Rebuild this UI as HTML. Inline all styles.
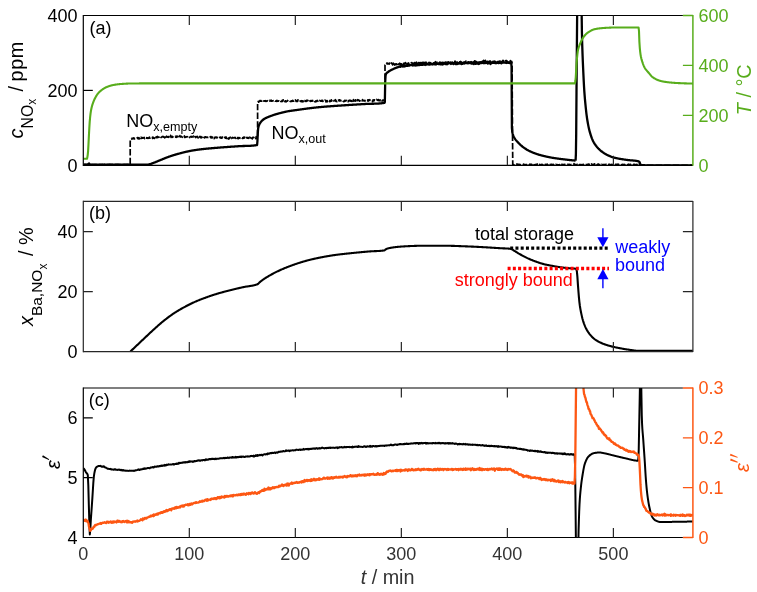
<!DOCTYPE html>
<html><head><meta charset="utf-8"><title>chart</title>
<style>
html,body{margin:0;padding:0;background:#fff;}
body{width:757px;height:592px;overflow:hidden;font-family:"Liberation Sans",sans-serif;}
svg{display:block;will-change:transform;}
svg text{font-family:"Liberation Sans",sans-serif;}
.tk{font-size:18px;}
.lb{font-size:19.8px;}
</style></head><body>
<svg width="757" height="592" viewBox="0 0 757 592">
<defs>
<clipPath id="ca"><rect x="83.3" y="15.5" width="609.6" height="150.4"/></clipPath>
<clipPath id="cb"><rect x="83.3" y="201.4" width="609.6" height="150.8"/></clipPath>
<clipPath id="cc"><rect x="83.3" y="388.0" width="609.6" height="150.1"/></clipPath>
</defs>
<rect width="757" height="592" fill="#fff"/>
<path d="M692.9,165.3 h-10.0" stroke="#58ad1c" stroke-width="1.3" fill="none"/>
<g clip-path="url(#ca)" fill="none" stroke-linejoin="round">
<path d="M83.50,164.60 L83.85,164.60 L84.20,164.40 L84.55,164.62 L84.90,164.59 L85.26,164.37 L85.61,164.68 L85.96,164.60 L86.31,164.54 L86.66,164.51 L87.01,164.99 L87.36,164.55 L87.71,164.38 L88.06,164.49 L88.42,164.56 L88.77,164.55 L89.12,164.59 L89.47,164.47 L89.82,164.66 L90.17,164.54 L90.52,164.44 L90.87,164.50 L91.22,164.55 L91.58,164.70 L91.93,164.66 L92.28,164.56 L92.63,164.60 L92.98,164.63 L93.33,164.84 L93.68,164.53 L94.03,164.66 L94.38,164.69 L94.74,164.49 L95.09,164.62 L95.44,164.62 L95.79,164.54 L96.14,164.67 L96.49,164.72 L96.84,164.74 L97.19,164.58 L97.55,164.62 L97.90,164.88 L98.25,164.47 L98.60,164.63 L98.95,164.71 L99.30,164.62 L99.65,164.68 L100.00,164.62 L100.35,164.69 L100.71,164.75 L101.06,164.57 L101.41,164.62 L101.76,164.59 L102.11,164.55 L102.46,164.60 L102.81,164.46 L103.16,164.69 L103.51,164.80 L103.87,164.80 L104.22,164.75 L104.57,164.48 L104.92,164.78 L105.27,164.51 L105.62,164.59 L105.97,164.82 L106.32,164.47 L106.67,164.70 L107.03,164.63 L107.38,164.58 L107.73,164.49 L108.08,164.65 L108.43,164.54 L108.78,164.73 L109.13,164.75 L109.48,164.43 L109.83,164.54 L110.19,164.56 L110.54,164.46 L110.89,164.47 L111.24,164.61 L111.59,164.58 L111.94,164.40 L112.29,164.54 L112.64,164.66 L112.99,164.46 L113.35,164.49 L113.70,164.79 L114.05,164.76 L114.40,164.41 L114.75,164.44 L115.10,164.65 L115.45,164.46 L115.80,164.57 L116.15,164.55 L116.51,164.67 L116.86,164.30 L117.21,164.34 L117.56,164.45 L117.91,164.72 L118.26,164.58 L118.61,164.40 L118.96,164.66 L119.32,164.68 L119.67,164.57 L120.02,164.56 L120.37,164.65 L120.72,164.75 L121.07,164.62 L121.42,164.66 L121.77,164.59 L122.12,164.55 L122.48,164.49 L122.83,164.63 L123.18,164.56 L123.53,164.57 L123.88,164.71 L124.23,164.66 L124.58,164.70 L124.93,164.41 L125.28,164.67 L125.64,164.53 L125.99,164.50 L126.34,164.50 L126.69,164.75 L127.04,164.70 L127.39,164.51 L127.74,164.46 L128.09,164.60 L128.44,164.54 L128.80,164.80 L129.15,164.60 L129.50,164.60 L129.85,164.60 L130.20,164.60 L130.20,141.50 L130.55,140.23 L130.90,139.31 L131.25,138.97 L131.60,138.42 L131.95,139.21 L132.30,138.37 L132.65,138.52 L133.00,138.14 L133.35,138.19 L133.70,137.86 L134.05,138.97 L134.40,138.31 L134.75,138.79 L135.10,138.34 L135.45,137.99 L135.80,138.14 L136.15,138.01 L136.50,138.25 L136.85,138.06 L137.20,138.07 L137.55,137.57 L137.90,137.81 L138.25,138.90 L138.60,137.84 L138.95,137.66 L139.30,138.27 L139.65,138.74 L140.00,137.44 L140.35,137.99 L140.70,137.79 L141.05,137.27 L141.40,138.38 L141.75,138.03 L142.10,138.06 L142.45,137.68 L142.80,138.22 L143.15,137.76 L143.50,137.93 L143.85,137.49 L144.20,137.43 L144.55,138.57 L144.90,137.74 L145.25,138.09 L145.60,137.93 L145.95,137.74 L146.30,137.70 L146.65,138.20 L147.00,137.77 L147.35,137.83 L147.70,137.90 L148.05,138.41 L148.40,138.17 L148.75,138.02 L149.10,137.58 L149.45,137.20 L149.80,138.24 L150.15,138.23 L150.50,137.71 L150.85,138.00 L151.20,138.09 L151.55,138.10 L151.90,138.12 L152.25,137.48 L152.60,138.35 L152.95,137.08 L153.30,138.01 L153.65,137.82 L154.00,137.97 L154.35,138.40 L154.70,138.20 L155.05,137.00 L155.40,136.73 L155.75,137.84 L156.10,136.99 L156.45,137.42 L156.80,137.78 L157.15,136.64 L157.50,136.40 L157.85,137.44 L158.20,137.32 L158.55,137.17 L158.90,137.28 L159.25,136.85 L159.60,136.53 L159.95,137.12 L160.30,136.73 L160.65,136.41 L161.00,137.35 L161.35,137.08 L161.70,137.27 L162.05,136.62 L162.40,136.75 L162.75,136.57 L163.10,136.61 L163.45,137.07 L163.80,136.62 L164.15,137.11 L164.50,137.09 L164.85,137.83 L165.20,136.28 L165.55,137.29 L165.90,136.84 L166.25,136.86 L166.60,136.20 L166.95,136.64 L167.30,137.17 L167.65,136.79 L168.00,136.86 L168.35,136.68 L168.70,137.33 L169.05,136.79 L169.40,135.81 L169.75,136.49 L170.10,135.91 L170.45,135.34 L170.80,136.56 L171.15,137.40 L171.50,136.82 L171.85,136.27 L172.20,136.38 L172.55,137.31 L172.90,136.87 L173.25,136.82 L173.60,136.78 L173.95,136.82 L174.30,137.16 L174.65,137.05 L175.00,136.90 L175.35,136.33 L175.70,137.03 L176.05,136.49 L176.40,137.29 L176.75,136.23 L177.10,136.74 L177.45,136.80 L177.80,136.20 L178.15,137.57 L178.50,137.46 L178.85,136.59 L179.20,137.15 L179.55,136.97 L179.90,135.62 L180.25,136.91 L180.60,136.77 L180.95,136.84 L181.30,136.32 L181.65,136.68 L182.00,136.72 L182.35,137.33 L182.70,136.95 L183.05,136.80 L183.40,137.49 L183.75,136.55 L184.10,136.62 L184.45,135.98 L184.80,137.51 L185.15,137.23 L185.50,137.21 L185.85,137.10 L186.20,136.85 L186.55,136.90 L186.90,136.69 L187.25,136.71 L187.60,136.82 L187.95,137.48 L188.30,137.05 L188.65,136.77 L189.00,136.54 L189.35,136.51 L189.70,137.52 L190.05,137.03 L190.40,136.83 L190.75,136.65 L191.10,136.30 L191.45,136.78 L191.80,137.20 L192.15,136.64 L192.50,136.72 L192.85,136.72 L193.20,136.88 L193.55,136.12 L193.90,136.74 L194.25,136.46 L194.60,137.25 L194.95,136.52 L195.30,137.13 L195.65,137.57 L196.00,136.75 L196.35,136.63 L196.70,137.00 L197.05,136.92 L197.40,136.49 L197.75,137.16 L198.10,137.87 L198.45,136.86 L198.80,136.89 L199.15,136.53 L199.50,137.15 L199.85,136.46 L200.20,136.54 L200.55,137.63 L200.90,136.66 L201.25,137.57 L201.60,137.78 L201.95,137.23 L202.30,137.37 L202.65,138.02 L203.00,137.07 L203.35,136.90 L203.70,136.58 L204.05,137.22 L204.40,137.88 L204.75,137.66 L205.10,136.82 L205.45,136.88 L205.80,137.05 L206.15,137.42 L206.50,137.21 L206.85,137.42 L207.20,137.47 L207.55,137.22 L207.90,137.35 L208.25,137.47 L208.60,137.36 L208.95,137.63 L209.30,138.26 L209.65,137.70 L210.00,137.47 L210.35,136.70 L210.70,137.65 L211.05,136.61 L211.40,136.86 L211.75,137.90 L212.10,137.84 L212.45,137.47 L212.80,136.77 L213.15,137.39 L213.50,137.26 L213.85,137.86 L214.20,138.60 L214.55,137.69 L214.90,137.25 L215.25,137.08 L215.60,137.59 L215.95,137.54 L216.30,137.11 L216.65,137.69 L217.00,137.13 L217.35,138.15 L217.70,138.14 L218.05,138.15 L218.40,137.46 L218.75,137.91 L219.10,137.63 L219.45,137.52 L219.80,137.55 L220.15,137.13 L220.50,137.07 L220.85,138.09 L221.20,137.65 L221.55,137.84 L221.90,138.20 L222.25,136.98 L222.60,137.41 L222.95,137.85 L223.30,137.96 L223.65,137.62 L224.00,138.26 L224.35,137.90 L224.70,137.27 L225.05,137.40 L225.40,138.19 L225.75,138.04 L226.10,136.99 L226.45,138.45 L226.80,138.12 L227.15,138.46 L227.50,137.69 L227.85,137.74 L228.20,137.37 L228.55,139.03 L228.90,137.81 L229.25,138.61 L229.60,137.61 L229.95,137.98 L230.30,137.16 L230.65,137.75 L231.00,138.37 L231.35,137.37 L231.70,138.42 L232.05,138.09 L232.40,137.48 L232.75,137.72 L233.10,137.75 L233.45,137.94 L233.80,137.72 L234.15,137.59 L234.50,137.83 L234.85,137.51 L235.20,137.40 L235.55,137.96 L235.90,138.38 L236.25,137.30 L236.60,137.99 L236.95,137.70 L237.30,137.55 L237.65,138.38 L238.00,137.76 L238.35,138.67 L238.70,137.65 L239.05,138.17 L239.40,137.90 L239.75,137.66 L240.10,138.26 L240.45,137.93 L240.80,138.27 L241.15,137.98 L241.50,137.51 L241.85,137.95 L242.20,138.02 L242.55,138.43 L242.90,137.59 L243.25,137.98 L243.60,137.23 L243.95,138.29 L244.30,137.51 L244.65,137.19 L245.00,137.97 L245.35,138.50 L245.70,137.31 L246.05,137.51 L246.40,137.67 L246.75,137.49 L247.10,138.17 L247.45,137.64 L247.80,137.68 L248.15,138.26 L248.50,137.66 L248.85,138.19 L249.20,137.56 L249.55,137.45 L249.90,137.17 L250.25,138.84 L250.60,137.86 L250.95,138.11 L251.30,137.99 L251.65,138.07 L252.00,138.02 L252.35,138.86 L252.70,137.53 L253.05,137.30 L253.40,137.54 L253.75,137.40 L254.10,138.34 L254.45,138.37 L254.80,137.57 L255.15,137.37 L255.50,137.84 L255.85,138.63 L256.20,136.73 L256.55,138.24 L256.90,137.52 L257.25,138.47 L257.60,137.51 L257.60,102.87 L257.95,101.63 L258.30,101.30 L258.65,102.19 L259.00,101.85 L259.35,101.24 L259.71,100.97 L260.06,100.46 L260.41,101.10 L260.76,101.24 L261.11,101.19 L261.46,101.17 L261.81,100.70 L262.16,101.17 L262.51,101.18 L262.86,101.77 L263.22,102.02 L263.57,101.12 L263.92,100.83 L264.27,101.14 L264.62,100.89 L264.97,100.83 L265.32,101.13 L265.67,100.69 L266.02,101.43 L266.37,101.10 L266.73,101.26 L267.08,101.06 L267.43,100.81 L267.78,100.71 L268.13,101.03 L268.48,100.88 L268.83,101.23 L269.18,101.12 L269.53,100.51 L269.88,101.15 L270.23,100.51 L270.59,100.84 L270.94,100.98 L271.29,100.18 L271.64,101.15 L271.99,101.17 L272.34,101.03 L272.69,100.91 L273.04,100.93 L273.39,100.66 L273.74,100.97 L274.10,100.84 L274.45,101.13 L274.80,100.55 L275.15,101.19 L275.50,101.15 L275.85,101.02 L276.20,100.89 L276.55,101.33 L276.90,100.33 L277.25,101.29 L277.60,101.19 L277.96,101.20 L278.31,101.25 L278.66,100.78 L279.01,100.96 L279.36,101.36 L279.71,101.26 L280.06,101.16 L280.41,100.39 L280.76,101.31 L281.11,101.59 L281.47,101.52 L281.82,101.17 L282.17,100.36 L282.52,101.49 L282.87,100.99 L283.22,99.92 L283.57,101.23 L283.92,100.39 L284.27,100.47 L284.62,100.77 L284.98,101.63 L285.33,100.89 L285.68,101.18 L286.03,101.84 L286.38,101.77 L286.73,101.00 L287.08,100.94 L287.43,100.48 L287.78,100.74 L288.13,101.24 L288.48,101.22 L288.84,101.10 L289.19,101.49 L289.54,100.70 L289.89,101.02 L290.24,101.37 L290.59,101.30 L290.94,101.52 L291.29,101.22 L291.64,100.90 L291.99,101.20 L292.35,100.58 L292.70,100.30 L293.05,101.29 L293.40,101.01 L293.75,101.17 L294.10,100.27 L294.45,100.86 L294.80,100.76 L295.15,100.64 L295.50,100.01 L295.86,100.87 L296.21,101.42 L296.56,101.19 L296.91,100.75 L297.26,101.01 L297.61,101.35 L297.96,99.77 L298.31,100.95 L298.66,101.25 L299.01,101.31 L299.36,101.77 L299.72,101.51 L300.07,101.14 L300.42,101.13 L300.77,101.35 L301.12,100.75 L301.47,100.97 L301.82,101.40 L302.17,101.87 L302.52,100.91 L302.87,100.96 L303.23,101.07 L303.58,101.58 L303.93,100.96 L304.28,101.63 L304.63,100.53 L304.98,100.88 L305.33,100.88 L305.68,101.32 L306.03,101.43 L306.38,100.28 L306.73,100.54 L307.09,101.10 L307.44,100.65 L307.79,100.26 L308.14,101.41 L308.49,101.16 L308.84,101.16 L309.19,100.72 L309.54,101.40 L309.89,100.82 L310.24,101.42 L310.60,100.52 L310.95,100.54 L311.30,101.01 L311.65,100.60 L312.00,101.22 L312.35,101.03 L312.70,100.50 L313.05,100.94 L313.40,100.75 L313.75,101.32 L314.11,100.62 L314.46,100.70 L314.81,101.44 L315.16,101.90 L315.51,101.79 L315.86,100.92 L316.21,100.98 L316.56,101.57 L316.91,100.82 L317.26,100.44 L317.61,100.93 L317.97,101.07 L318.32,100.49 L318.67,100.12 L319.02,100.22 L319.37,101.16 L319.72,100.51 L320.07,100.79 L320.42,100.95 L320.77,101.13 L321.12,100.69 L321.48,101.07 L321.83,100.44 L322.18,100.67 L322.53,100.37 L322.88,101.34 L323.23,100.82 L323.58,100.49 L323.93,100.66 L324.28,100.72 L324.63,101.13 L324.99,100.09 L325.34,100.34 L325.69,100.64 L326.04,101.94 L326.39,101.23 L326.74,100.75 L327.09,101.12 L327.44,101.72 L327.79,100.68 L328.14,100.62 L328.49,101.33 L328.85,101.00 L329.20,101.08 L329.55,100.55 L329.90,101.64 L330.25,101.54 L330.60,101.02 L330.95,101.07 L331.30,99.85 L331.65,101.04 L332.00,100.67 L332.36,100.95 L332.71,101.05 L333.06,100.59 L333.41,99.98 L333.76,100.90 L334.11,100.40 L334.46,100.58 L334.81,100.46 L335.16,100.57 L335.51,99.68 L335.87,101.27 L336.22,100.83 L336.57,101.21 L336.92,101.60 L337.27,100.72 L337.62,99.89 L337.97,100.30 L338.32,100.16 L338.67,100.47 L339.02,100.73 L339.37,99.79 L339.73,100.84 L340.08,100.00 L340.43,100.81 L340.78,100.63 L341.13,100.53 L341.48,100.64 L341.83,100.43 L342.18,100.39 L342.53,99.91 L342.88,100.65 L343.24,101.49 L343.59,101.55 L343.94,101.25 L344.29,100.97 L344.64,100.34 L344.99,101.29 L345.34,100.61 L345.69,100.61 L346.04,100.50 L346.39,100.67 L346.74,100.43 L347.10,100.59 L347.45,100.13 L347.80,100.45 L348.15,101.64 L348.50,100.58 L348.85,100.50 L349.20,100.85 L349.55,100.92 L349.90,100.10 L350.25,100.50 L350.61,101.01 L350.96,100.71 L351.31,100.64 L351.66,101.29 L352.01,100.28 L352.36,100.62 L352.71,100.34 L353.06,101.25 L353.41,99.69 L353.76,100.27 L354.12,100.33 L354.47,100.86 L354.82,100.83 L355.17,101.18 L355.52,99.85 L355.87,100.89 L356.22,100.42 L356.57,100.25 L356.92,100.78 L357.27,100.13 L357.62,99.60 L357.98,100.37 L358.33,99.86 L358.68,100.24 L359.03,100.69 L359.38,100.66 L359.73,101.23 L360.08,100.43 L360.43,99.82 L360.78,100.17 L361.13,100.09 L361.49,99.96 L361.84,100.70 L362.19,100.21 L362.54,99.60 L362.89,100.81 L363.24,100.44 L363.59,100.65 L363.94,100.53 L364.29,100.76 L364.64,100.49 L365.00,101.03 L365.35,100.66 L365.70,100.64 L366.05,100.65 L366.40,99.81 L366.75,100.38 L367.10,100.34 L367.45,100.55 L367.80,99.84 L368.15,101.18 L368.50,100.49 L368.86,99.90 L369.21,99.67 L369.56,100.31 L369.91,100.39 L370.26,100.11 L370.61,100.47 L370.96,100.13 L371.31,100.67 L371.66,100.09 L372.01,100.40 L372.37,100.85 L372.72,101.56 L373.07,99.95 L373.42,100.19 L373.77,100.02 L374.12,100.75 L374.47,99.88 L374.82,100.17 L375.17,100.37 L375.52,99.94 L375.87,99.95 L376.23,100.16 L376.58,99.43 L376.93,99.72 L377.28,100.18 L377.63,100.43 L377.98,100.28 L378.33,99.56 L378.68,100.15 L379.03,100.71 L379.38,100.60 L379.74,100.31 L380.09,99.94 L380.44,100.62 L380.79,100.08 L381.14,99.81 L381.49,99.97 L381.84,100.98 L382.19,100.42 L382.54,100.84 L382.89,100.10 L383.25,100.74 L383.60,100.04 L383.95,100.24 L384.30,100.31 L384.65,100.30 L385.00,100.30 L385.00,65.00 L385.35,64.50 L385.70,64.06 L386.05,63.96 L386.40,64.34 L386.75,63.18 L387.10,63.92 L387.45,63.75 L387.80,63.22 L388.15,63.95 L388.50,63.84 L388.85,63.59 L389.20,64.03 L389.55,63.03 L389.90,63.77 L390.25,64.03 L390.60,63.94 L390.95,64.37 L391.30,63.11 L391.65,62.93 L392.00,63.89 L392.35,64.00 L392.70,64.91 L393.05,64.07 L393.40,63.25 L393.75,64.16 L394.10,63.25 L394.45,62.89 L394.80,65.14 L395.15,63.87 L395.50,64.08 L395.85,63.99 L396.20,64.67 L396.55,63.82 L396.90,64.33 L397.25,63.09 L397.60,62.88 L397.95,64.42 L398.30,64.44 L398.65,63.91 L399.00,63.74 L399.35,63.70 L399.70,63.23 L400.05,64.45 L400.40,63.95 L400.75,63.86 L401.10,63.78 L401.45,64.15 L401.80,63.84 L402.15,63.97 L402.50,62.91 L402.85,63.82 L403.20,64.74 L403.55,63.24 L403.90,63.45 L404.25,64.01 L404.60,64.03 L404.95,63.84 L405.30,62.60 L405.65,63.76 L406.00,62.83 L406.35,63.02 L406.70,63.77 L407.05,63.30 L407.40,63.90 L407.75,65.18 L408.10,63.87 L408.45,63.83 L408.80,62.93 L409.15,63.06 L409.50,62.82 L409.85,63.11 L410.20,62.80 L410.55,63.03 L410.90,63.27 L411.25,62.82 L411.60,62.59 L411.95,62.61 L412.30,63.60 L412.65,63.38 L413.00,63.90 L413.35,63.91 L413.70,63.14 L414.05,63.69 L414.40,62.52 L414.75,64.56 L415.10,63.96 L415.45,63.17 L415.80,62.64 L416.15,63.49 L416.50,62.24 L416.85,62.83 L417.20,63.67 L417.55,63.29 L417.90,62.97 L418.25,63.76 L418.60,62.66 L418.95,63.38 L419.30,62.94 L419.65,62.74 L420.00,63.45 L420.35,62.65 L420.70,64.23 L421.05,62.86 L421.40,64.27 L421.75,62.56 L422.10,63.49 L422.45,62.49 L422.80,62.41 L423.15,63.22 L423.50,63.50 L423.85,62.42 L424.20,63.77 L424.55,62.67 L424.90,63.17 L425.25,63.30 L425.60,63.42 L425.95,62.09 L426.30,63.96 L426.65,63.38 L427.00,62.83 L427.35,62.49 L427.70,62.11 L428.05,62.29 L428.40,63.33 L428.75,62.84 L429.10,62.40 L429.45,62.72 L429.80,63.86 L430.15,62.82 L430.50,62.67 L430.85,63.73 L431.20,63.23 L431.55,62.99 L431.90,62.63 L432.25,62.10 L432.60,62.30 L432.95,62.68 L433.30,62.81 L433.65,63.12 L434.00,63.22 L434.35,63.04 L434.70,63.03 L435.05,62.34 L435.40,61.71 L435.75,62.60 L436.10,62.35 L436.45,62.51 L436.80,62.71 L437.15,62.17 L437.50,62.24 L437.85,62.79 L438.20,62.90 L438.55,62.47 L438.90,63.10 L439.25,62.69 L439.60,62.25 L439.95,62.82 L440.30,63.83 L440.65,62.42 L441.00,63.42 L441.35,63.53 L441.70,63.59 L442.05,62.31 L442.40,63.86 L442.75,62.81 L443.10,62.60 L443.45,62.60 L443.80,63.05 L444.15,62.75 L444.50,62.61 L444.85,63.41 L445.20,62.30 L445.55,62.12 L445.90,63.12 L446.25,63.06 L446.60,63.27 L446.95,62.07 L447.30,63.25 L447.65,62.91 L448.00,63.61 L448.35,61.95 L448.70,62.75 L449.05,62.47 L449.40,61.74 L449.75,62.21 L450.10,63.22 L450.45,62.33 L450.80,62.19 L451.15,63.05 L451.50,63.11 L451.85,63.11 L452.20,62.12 L452.55,62.52 L452.90,63.11 L453.25,62.17 L453.60,62.12 L453.95,62.98 L454.30,63.37 L454.65,61.87 L455.00,61.07 L455.35,61.69 L455.70,61.93 L456.05,62.40 L456.40,62.81 L456.75,62.38 L457.10,62.07 L457.45,62.53 L457.80,61.91 L458.15,62.41 L458.50,62.08 L458.85,63.90 L459.20,62.86 L459.55,61.95 L459.90,61.85 L460.25,62.15 L460.60,61.48 L460.95,61.98 L461.30,61.97 L461.65,62.85 L462.00,62.12 L462.35,61.92 L462.70,61.61 L463.05,61.69 L463.40,62.29 L463.75,62.20 L464.10,62.94 L464.45,61.96 L464.80,62.88 L465.15,62.44 L465.50,62.28 L465.85,61.18 L466.20,61.56 L466.55,62.67 L466.90,63.03 L467.25,62.37 L467.60,62.66 L467.95,62.01 L468.30,62.03 L468.65,61.86 L469.00,62.75 L469.35,62.40 L469.70,62.07 L470.05,62.02 L470.40,62.50 L470.75,62.36 L471.10,61.72 L471.45,63.11 L471.80,62.30 L472.15,62.16 L472.50,62.96 L472.85,62.70 L473.20,62.09 L473.55,62.42 L473.90,61.53 L474.25,61.76 L474.60,60.86 L474.95,62.77 L475.30,61.05 L475.65,62.46 L476.00,61.62 L476.35,61.53 L476.70,61.96 L477.05,62.20 L477.40,62.39 L477.75,63.02 L478.10,62.23 L478.45,62.51 L478.80,61.69 L479.15,62.41 L479.50,62.09 L479.85,61.75 L480.20,61.94 L480.55,61.96 L480.90,62.09 L481.25,62.20 L481.60,61.69 L481.95,61.55 L482.30,62.36 L482.65,61.01 L483.00,61.60 L483.35,62.78 L483.70,60.43 L484.05,61.53 L484.40,62.28 L484.75,60.99 L485.10,63.32 L485.45,60.46 L485.80,62.66 L486.15,62.72 L486.50,62.36 L486.85,61.73 L487.20,62.04 L487.55,61.34 L487.90,62.27 L488.25,61.20 L488.60,61.65 L488.95,62.34 L489.30,61.17 L489.65,61.58 L490.00,61.86 L490.35,61.02 L490.70,62.39 L491.05,61.93 L491.40,60.90 L491.75,61.70 L492.10,61.29 L492.45,61.35 L492.80,61.74 L493.15,61.30 L493.50,62.21 L493.85,61.29 L494.20,62.21 L494.55,61.63 L494.90,62.12 L495.25,61.34 L495.60,61.35 L495.95,60.99 L496.30,61.93 L496.65,62.12 L497.00,62.77 L497.35,62.30 L497.70,61.72 L498.05,61.46 L498.40,61.78 L498.75,61.55 L499.10,62.36 L499.45,62.07 L499.80,61.08 L500.15,61.15 L500.50,62.28 L500.85,61.69 L501.20,61.38 L501.55,62.16 L501.90,61.29 L502.25,61.34 L502.60,61.23 L502.95,60.40 L503.30,61.95 L503.65,60.81 L504.00,61.15 L504.35,61.05 L504.70,61.85 L505.05,61.41 L505.40,61.45 L505.75,60.52 L506.10,61.39 L506.45,60.62 L506.80,61.60 L507.15,61.63 L507.50,61.41 L507.85,62.54 L508.20,61.71 L508.55,61.74 L508.90,61.49 L509.25,61.30 L509.60,61.94 L509.95,62.01 L510.30,60.69 L510.65,61.98 L511.00,61.68 L511.35,61.40 L511.70,61.40 L512.05,63.27 L512.40,118.11 L512.75,164.60 L513.10,164.60 L513.45,164.60 L513.80,164.60 L514.15,164.84 L514.50,164.72 L514.85,164.24 L515.20,164.26 L515.55,164.42 L515.90,164.75 L516.25,164.23 L516.60,164.54 L516.95,163.94 L517.30,164.21 L517.65,164.71 L518.00,164.86 L518.35,164.24 L518.70,164.35 L519.05,164.83 L519.40,164.47 L519.75,164.42 L520.10,164.74 L520.45,164.65 L520.80,164.92 L521.15,164.83 L521.50,164.41 L521.85,164.55 L522.20,164.57 L522.55,164.18 L522.90,164.29 L523.25,164.88 L523.60,164.11 L523.95,164.89 L524.30,164.67 L524.65,164.55 L525.00,164.75 L525.35,164.73 L525.70,164.95 L526.05,164.47 L526.40,164.52 L526.75,164.51 L527.10,165.15 L527.45,164.87 L527.80,164.31 L528.15,164.49 L528.50,164.37 L528.85,164.59 L529.20,164.65 L529.55,165.28 L529.90,164.04 L530.25,164.90 L530.60,164.72 L530.95,164.38 L531.30,164.54 L531.65,164.44 L532.00,164.60 L532.35,164.89 L532.70,164.13 L533.05,164.98 L533.40,164.48 L533.75,165.04 L534.10,164.71 L534.45,164.96 L534.80,164.76 L535.15,164.92 L535.50,164.61 L535.85,164.34 L536.20,164.79 L536.55,164.80 L536.90,165.22 L537.25,163.99 L537.60,164.53 L537.95,164.91 L538.30,164.21 L538.65,164.52 L539.00,165.23 L539.35,165.02 L539.70,164.33 L540.05,165.02 L540.40,164.95 L540.75,164.82 L541.10,164.70 L541.45,164.66 L541.80,164.33 L542.15,164.44 L542.50,164.81 L542.85,164.63 L543.20,165.15 L543.55,164.49 L543.90,163.87 L544.25,164.49 L544.60,164.67 L544.95,164.71 L545.30,164.61 L545.65,164.34 L546.00,165.04 L546.35,164.39 L546.70,164.81 L547.05,164.51 L547.40,164.23 L547.75,165.02 L548.10,163.84 L548.45,164.34 L548.80,164.72 L549.15,164.49 L549.50,164.82 L549.85,164.56 L550.20,164.46 L550.55,165.24 L550.90,164.53 L551.25,164.55 L551.60,164.27 L551.95,164.37 L552.30,164.79 L552.65,164.76 L553.00,164.59 L553.35,164.38 L553.70,164.80 L554.05,164.08 L554.40,164.49 L554.75,164.52 L555.10,164.34 L555.45,164.64 L555.80,164.39 L556.15,164.35 L556.50,165.14 L556.85,164.82 L557.20,164.96 L557.55,164.61 L557.90,164.89 L558.25,164.83 L558.60,164.96 L558.95,165.31 L559.30,164.53 L559.65,164.67 L560.00,164.58 L560.35,163.54 L560.70,164.18 L561.05,164.60 L561.40,164.79 L561.75,164.42 L562.10,164.94 L562.45,164.98 L562.80,164.47 L563.15,165.03 L563.50,165.12 L563.85,164.74 L564.20,164.30 L564.55,165.04 L564.90,164.55 L565.25,164.49 L565.60,164.63 L565.95,164.44 L566.30,164.92 L566.65,164.83 L567.00,164.97 L567.35,164.77 L567.70,164.36 L568.05,164.55 L568.40,164.86 L568.75,164.48 L569.10,165.48 L569.45,164.53 L569.80,164.42 L570.15,164.94 L570.50,164.82 L570.85,164.59 L571.20,164.53 L571.55,164.73 L571.90,164.85 L572.25,164.83 L572.60,164.51 L572.95,164.73 L573.30,164.85 L573.65,164.83 L574.00,163.67 L574.35,164.33 L574.70,164.37 L575.05,164.53 L575.40,164.65 L575.75,164.88 L576.10,164.79 L576.45,164.56 L576.80,164.61 L577.15,165.13 L577.50,164.42 L577.85,164.69 L578.20,165.07 L578.55,164.70 L578.90,163.99 L579.25,164.71 L579.60,164.48 L579.95,164.57 L580.30,164.92 L580.65,164.74 L581.00,164.52 L581.35,164.87 L581.70,164.73 L582.05,164.63 L582.40,164.69 L582.75,164.68 L583.10,164.50 L583.45,164.46 L583.80,164.61 L584.15,164.31 L584.50,164.22 L584.85,164.99 L585.20,164.53 L585.55,164.59 L585.90,164.56 L586.25,164.61 L586.60,164.61 L586.95,164.62 L587.30,164.36 L587.65,164.88 L588.00,164.39 L588.35,164.91 L588.70,164.02 L589.05,164.28 L589.40,164.90 L589.75,164.56 L590.10,164.40 L590.45,164.71 L590.80,164.29 L591.15,164.62 L591.50,163.94 L591.85,164.46 L592.20,164.41 L592.55,164.76 L592.90,164.86 L593.25,164.34 L593.60,165.08 L593.95,164.42 L594.30,163.98 L594.65,163.89 L595.00,165.06 L595.35,164.57 L595.70,164.41 L596.05,164.38 L596.40,164.27 L596.75,165.01 L597.10,164.57 L597.45,165.14 L597.80,164.54 L598.15,163.89 L598.50,164.85 L598.85,164.49 L599.20,164.53 L599.55,165.07 L599.90,164.52 L600.25,164.95 L600.60,164.60 L600.95,164.37 L601.30,164.75 L601.65,164.42 L602.00,164.97 L602.35,164.89 L602.70,164.62 L603.05,164.78 L603.40,164.77 L603.75,164.52 L604.10,164.87 L604.45,164.53 L604.80,164.78 L605.15,164.31 L605.50,164.63 L605.85,164.72 L606.20,164.36 L606.55,164.48 L606.90,164.44 L607.25,164.82 L607.60,164.38 L607.95,164.73 L608.30,165.06 L608.65,164.71 L609.00,164.12 L609.35,164.64 L609.70,164.91 L610.05,164.52 L610.40,164.93 L610.75,164.79 L611.10,164.73 L611.45,164.52 L611.80,164.45 L612.15,164.53 L612.50,164.62 L612.85,164.76 L613.20,164.73 L613.55,164.51 L613.90,164.62 L614.25,164.72 L614.60,164.12 L614.95,164.37 L615.30,164.36 L615.65,164.54 L616.00,164.52 L616.35,164.53 L616.70,164.34 L617.05,164.81 L617.40,164.69 L617.75,164.11 L618.10,164.61 L618.45,164.27 L618.80,165.12 L619.15,164.47 L619.50,164.49 L619.85,164.63 L620.20,164.54 L620.55,164.59 L620.90,165.07 L621.25,164.67 L621.60,164.86 L621.95,164.94 L622.30,164.31 L622.65,165.11 L623.00,164.81 L623.35,164.89 L623.70,164.35 L624.05,164.85 L624.40,164.73 L624.75,164.44 L625.10,165.29 L625.45,164.78 L625.80,164.53 L626.15,164.66 L626.50,164.88 L626.85,164.94 L627.20,164.78 L627.55,164.97 L627.90,165.05 L628.25,164.24 L628.60,164.46 L628.95,164.32 L629.30,164.64 L629.65,165.04 L630.00,164.80 L630.35,164.29 L630.70,164.52 L631.05,164.91 L631.40,164.45 L631.75,164.58 L632.10,164.70 L632.45,164.06 L632.80,164.84 L633.15,164.71 L633.50,164.78 L633.85,164.31 L634.20,164.38 L634.55,164.43 L634.90,164.68 L635.25,164.63 L635.60,164.64 L635.95,165.14 L636.30,165.00 L636.65,164.39 L637.00,164.41 L637.35,165.12 L637.70,164.51 L638.05,165.02 L638.40,165.09 L638.75,164.44 L639.10,164.53 L639.45,164.63 L639.80,164.35 L640.15,164.61 L640.50,164.66 L640.85,164.76 L641.20,164.88 L641.55,165.02 L641.90,165.16 L642.25,165.28 L642.60,165.36 L642.95,165.40 L643.30,165.40 L643.65,165.40 L644.00,165.40 L644.35,165.40 L644.70,165.40 L645.05,165.40 L645.40,165.40 L645.75,165.40 L646.10,165.40 L646.45,165.40 L646.80,165.40 L647.15,165.40 L647.50,165.40 L647.85,165.40 L648.20,165.40 L648.55,165.40 L648.90,165.40 L649.25,165.40 L649.60,165.40 L649.95,165.40 L650.30,165.40 L650.65,165.40 L651.00,165.40 L651.35,165.40 L651.70,165.40 L652.05,165.40 L652.40,165.40 L652.75,165.40 L653.10,165.40 L653.45,165.40 L653.80,165.40 L654.15,165.40 L654.50,165.40 L654.85,165.40 L655.20,165.40 L655.55,165.40 L655.90,165.40 L656.25,165.40 L656.60,165.40 L656.95,165.40 L657.30,165.40 L657.65,165.40 L658.00,165.40 L658.35,165.40 L658.70,165.40 L659.05,165.40 L659.40,165.40 L659.75,165.40 L660.10,165.40 L660.45,165.40 L660.80,165.40 L661.15,165.40 L661.50,165.40 L661.85,165.40 L662.20,165.40 L662.55,165.40 L662.90,165.40 L663.25,165.40 L663.60,165.40 L663.95,165.40 L664.30,165.40 L664.65,165.40 L665.00,165.40 L665.35,165.40 L665.70,165.40 L666.05,165.40 L666.40,165.40 L666.75,165.40 L667.10,165.40 L667.45,165.40 L667.80,165.40 L668.15,165.40 L668.50,165.40 L668.85,165.40 L669.20,165.40 L669.55,165.40 L669.90,165.40 L670.25,165.40 L670.60,165.40 L670.95,165.40 L671.30,165.40 L671.65,165.40 L672.00,165.40 L672.35,165.40 L672.70,165.40 L673.05,165.40 L673.40,165.40 L673.75,165.40 L674.10,165.40 L674.45,165.40 L674.80,165.40 L675.15,165.40 L675.50,165.40 L675.85,165.40 L676.20,165.40 L676.55,165.40 L676.90,165.40 L677.25,165.40 L677.60,165.40 L677.95,165.40 L678.30,165.40 L678.65,165.40 L679.00,165.40 L679.35,165.40 L679.70,165.40 L680.05,165.40 L680.40,165.40 L680.75,165.40 L681.10,165.40 L681.45,165.40 L681.80,165.40 L682.15,165.40 L682.50,165.40 L682.85,165.40 L683.20,165.40 L683.55,165.40 L683.90,165.40 L684.25,165.40 L684.60,165.40 L684.95,165.40 L685.30,165.40 L685.65,165.40 L686.00,165.40 L686.35,165.40 L686.70,165.40 L687.05,165.40 L687.40,165.40 L687.75,165.40 L688.10,165.40 L688.45,165.40 L688.80,165.40 L689.15,165.40 L689.50,165.40 L689.85,165.40 L690.20,165.40 L690.55,165.40 L690.90,165.40 L691.25,165.40 L691.60,165.40 L691.95,165.40 L692.30,165.40 L692.65,165.40 L693.00,165.40" stroke="#000" stroke-width="1.7" stroke-dasharray="6.4 2.2"/>
<path d="M83.50,164.60 L83.85,164.60 L84.20,164.60 L84.55,164.60 L84.90,164.60 L85.25,164.60 L85.60,164.60 L85.95,164.60 L86.30,164.60 L86.65,164.60 L87.00,164.60 L87.35,164.60 L87.70,164.60 L88.05,164.59 L88.40,164.18 L88.75,163.59 L89.10,163.43 L89.45,163.91 L89.80,164.47 L90.15,164.60 L90.50,164.60 L90.85,164.60 L91.20,164.61 L91.55,164.61 L91.90,164.61 L92.25,164.61 L92.60,164.61 L92.95,164.62 L93.30,164.62 L93.65,164.62 L94.00,164.62 L94.35,164.62 L94.70,164.63 L95.05,164.63 L95.40,164.63 L95.75,164.63 L96.10,164.63 L96.45,164.63 L96.80,164.63 L97.15,164.64 L97.50,164.64 L97.85,164.64 L98.20,164.64 L98.55,164.64 L98.90,164.64 L99.25,164.65 L99.60,164.65 L99.95,164.65 L100.30,164.65 L100.65,164.65 L101.00,164.65 L101.35,164.65 L101.70,164.65 L102.05,164.66 L102.40,164.66 L102.75,164.66 L103.10,164.66 L103.45,164.66 L103.80,164.66 L104.15,164.66 L104.50,164.66 L104.85,164.66 L105.20,164.67 L105.55,164.67 L105.90,164.67 L106.25,164.67 L106.60,164.67 L106.95,164.67 L107.30,164.67 L107.65,164.67 L108.00,164.67 L108.35,164.67 L108.70,164.67 L109.05,164.68 L109.40,164.68 L109.75,164.68 L110.10,164.68 L110.45,164.68 L110.80,164.68 L111.15,164.68 L111.50,164.68 L111.85,164.68 L112.20,164.68 L112.55,164.68 L112.90,164.68 L113.25,164.68 L113.60,164.68 L113.95,164.68 L114.30,164.69 L114.65,164.69 L115.00,164.69 L115.35,164.69 L115.70,164.69 L116.05,164.69 L116.40,164.69 L116.75,164.69 L117.10,164.69 L117.45,164.69 L117.80,164.69 L118.15,164.69 L118.50,164.69 L118.85,164.69 L119.20,164.69 L119.55,164.69 L119.90,164.69 L120.25,164.69 L120.60,164.69 L120.95,164.69 L121.30,164.69 L121.65,164.69 L122.00,164.69 L122.35,164.70 L122.70,164.70 L123.05,164.70 L123.40,164.70 L123.75,164.70 L124.10,164.70 L124.45,164.70 L124.80,164.70 L125.15,164.70 L125.50,164.70 L125.85,164.70 L126.20,164.70 L126.55,164.70 L126.90,164.70 L127.25,164.70 L127.60,164.70 L127.95,164.70 L128.30,164.70 L128.65,164.70 L129.00,164.70 L129.35,164.70 L129.70,164.70 L130.05,164.70 L130.40,164.70 L130.75,164.70 L131.10,164.70 L131.45,164.70 L131.80,164.70 L132.15,164.70 L132.50,164.70 L132.85,164.70 L133.20,164.70 L133.55,164.70 L133.90,164.70 L134.25,164.70 L134.60,164.70 L134.95,164.70 L135.30,164.70 L135.65,164.70 L136.00,164.70 L136.35,164.70 L136.70,164.70 L137.05,164.70 L137.40,164.70 L137.75,164.70 L138.10,164.70 L138.45,164.70 L138.80,164.70 L139.15,164.70 L139.50,164.70 L139.85,164.70 L140.20,164.70 L140.55,164.70 L140.90,164.70 L141.25,164.70 L141.60,164.70 L141.95,164.69 L142.30,164.69 L142.65,164.69 L143.00,164.69 L143.35,164.68 L143.70,164.68 L144.05,164.67 L144.40,164.67 L144.75,164.66 L145.10,164.66 L145.45,164.65 L145.80,164.64 L146.15,164.64 L146.50,164.63 L146.85,164.62 L147.20,164.61 L147.55,164.60 L147.90,164.57 L148.25,164.52 L148.60,164.46 L148.95,164.38 L149.30,164.30 L149.65,164.21 L150.00,164.13 L150.35,164.03 L150.70,163.93 L151.05,163.81 L151.40,163.69 L151.75,163.56 L152.10,163.43 L152.45,163.30 L152.80,163.16 L153.15,163.03 L153.50,162.89 L153.85,162.76 L154.20,162.62 L154.55,162.49 L154.90,162.35 L155.25,162.21 L155.60,162.07 L155.95,161.92 L156.30,161.78 L156.65,161.63 L157.00,161.48 L157.35,161.34 L157.70,161.19 L158.05,161.04 L158.40,160.89 L158.75,160.75 L159.10,160.60 L159.45,160.46 L159.80,160.32 L160.15,160.18 L160.50,160.03 L160.85,159.89 L161.20,159.75 L161.55,159.60 L161.90,159.46 L162.25,159.32 L162.60,159.17 L162.95,159.03 L163.30,158.88 L163.65,158.74 L164.00,158.60 L164.35,158.46 L164.70,158.31 L165.05,158.17 L165.40,158.03 L165.75,157.89 L166.10,157.76 L166.45,157.62 L166.80,157.49 L167.15,157.35 L167.50,157.22 L167.85,157.09 L168.20,156.96 L168.55,156.83 L168.90,156.71 L169.25,156.59 L169.60,156.47 L169.95,156.35 L170.30,156.23 L170.65,156.11 L171.00,156.00 L171.35,155.88 L171.70,155.77 L172.05,155.65 L172.40,155.54 L172.75,155.43 L173.10,155.32 L173.45,155.21 L173.80,155.11 L174.15,155.00 L174.50,154.89 L174.85,154.79 L175.20,154.68 L175.55,154.58 L175.90,154.48 L176.25,154.38 L176.60,154.28 L176.95,154.18 L177.30,154.08 L177.65,153.98 L178.00,153.88 L178.35,153.78 L178.70,153.69 L179.05,153.59 L179.40,153.50 L179.75,153.41 L180.10,153.31 L180.45,153.22 L180.80,153.13 L181.15,153.03 L181.50,152.94 L181.85,152.85 L182.20,152.76 L182.55,152.67 L182.90,152.58 L183.25,152.49 L183.60,152.40 L183.95,152.32 L184.30,152.23 L184.65,152.15 L185.00,152.06 L185.35,151.98 L185.70,151.90 L186.05,151.81 L186.40,151.73 L186.75,151.65 L187.10,151.58 L187.45,151.50 L187.80,151.43 L188.15,151.35 L188.50,151.28 L188.85,151.21 L189.20,151.14 L189.55,151.07 L189.90,151.00 L190.25,150.94 L190.60,150.87 L190.95,150.81 L191.30,150.74 L191.65,150.68 L192.00,150.62 L192.35,150.55 L192.70,150.49 L193.05,150.43 L193.40,150.37 L193.75,150.31 L194.10,150.26 L194.45,150.20 L194.80,150.14 L195.15,150.09 L195.50,150.03 L195.85,149.98 L196.20,149.92 L196.55,149.87 L196.90,149.82 L197.25,149.77 L197.60,149.72 L197.95,149.68 L198.30,149.63 L198.65,149.58 L199.00,149.54 L199.35,149.49 L199.70,149.45 L200.05,149.41 L200.40,149.37 L200.75,149.32 L201.10,149.28 L201.45,149.24 L201.80,149.20 L202.15,149.16 L202.50,149.12 L202.85,149.08 L203.20,149.05 L203.55,149.01 L203.90,148.97 L204.25,148.93 L204.60,148.90 L204.95,148.86 L205.30,148.82 L205.65,148.79 L206.00,148.75 L206.35,148.72 L206.70,148.68 L207.05,148.65 L207.40,148.62 L207.75,148.58 L208.10,148.55 L208.45,148.51 L208.80,148.48 L209.15,148.45 L209.50,148.42 L209.85,148.39 L210.20,148.35 L210.55,148.32 L210.90,148.29 L211.25,148.26 L211.60,148.23 L211.95,148.20 L212.30,148.17 L212.65,148.14 L213.00,148.11 L213.35,148.08 L213.70,148.05 L214.05,148.02 L214.40,147.99 L214.75,147.96 L215.10,147.93 L215.45,147.90 L215.80,147.87 L216.15,147.84 L216.50,147.81 L216.85,147.78 L217.20,147.76 L217.55,147.73 L217.90,147.70 L218.25,147.67 L218.60,147.64 L218.95,147.61 L219.30,147.58 L219.65,147.56 L220.00,147.53 L220.35,147.50 L220.70,147.47 L221.05,147.44 L221.40,147.42 L221.75,147.39 L222.10,147.36 L222.45,147.34 L222.80,147.31 L223.15,147.28 L223.50,147.26 L223.85,147.23 L224.20,147.21 L224.55,147.18 L224.90,147.16 L225.25,147.13 L225.60,147.11 L225.95,147.08 L226.30,147.06 L226.65,147.03 L227.00,147.01 L227.35,146.98 L227.70,146.96 L228.05,146.93 L228.40,146.91 L228.75,146.88 L229.10,146.86 L229.45,146.84 L229.80,146.81 L230.15,146.79 L230.50,146.76 L230.85,146.74 L231.20,146.72 L231.55,146.69 L231.90,146.67 L232.25,146.65 L232.60,146.62 L232.95,146.60 L233.30,146.58 L233.65,146.55 L234.00,146.53 L234.35,146.51 L234.70,146.48 L235.05,146.46 L235.40,146.44 L235.75,146.41 L236.10,146.39 L236.45,146.37 L236.80,146.34 L237.15,146.32 L237.50,146.29 L237.85,146.27 L238.20,146.25 L238.55,146.22 L238.90,146.20 L239.25,146.18 L239.60,146.16 L239.95,146.14 L240.30,146.12 L240.65,146.10 L241.00,146.09 L241.35,146.07 L241.70,146.06 L242.05,146.04 L242.40,146.03 L242.75,146.02 L243.10,146.01 L243.45,146.00 L243.80,145.99 L244.15,145.99 L244.50,145.98 L244.85,145.97 L245.20,145.96 L245.55,145.95 L245.90,145.94 L246.25,145.94 L246.60,145.93 L246.95,145.92 L247.30,145.91 L247.65,145.90 L248.00,145.89 L248.35,145.87 L248.70,145.86 L249.05,145.85 L249.40,145.83 L249.75,145.82 L250.10,145.80 L250.45,145.78 L250.80,145.76 L251.15,145.74 L251.50,145.71 L251.85,145.69 L252.20,145.66 L252.55,145.63 L252.90,145.60 L253.25,145.56 L253.60,145.53 L253.95,145.49 L254.30,145.45 L254.65,145.41 L255.00,145.36 L255.35,145.31 L255.70,145.26 L256.05,145.20 L256.40,145.14 L256.75,145.08 L257.10,145.02 L257.45,141.01 L257.80,132.95 L258.15,128.53 L258.50,126.77 L258.85,125.64 L259.20,124.74 L259.55,124.02 L259.90,123.41 L260.25,122.88 L260.60,122.36 L260.95,121.89 L261.30,121.45 L261.65,121.05 L262.00,120.68 L262.35,120.36 L262.70,120.05 L263.05,119.77 L263.40,119.51 L263.75,119.27 L264.10,119.04 L264.45,118.82 L264.80,118.61 L265.15,118.42 L265.50,118.23 L265.85,118.05 L266.20,117.88 L266.55,117.71 L266.90,117.55 L267.25,117.40 L267.60,117.25 L267.95,117.10 L268.30,116.96 L268.65,116.82 L269.00,116.68 L269.35,116.54 L269.70,116.40 L270.05,116.26 L270.40,116.13 L270.75,115.99 L271.10,115.86 L271.45,115.73 L271.80,115.61 L272.15,115.48 L272.50,115.36 L272.85,115.24 L273.20,115.12 L273.55,115.00 L273.90,114.88 L274.25,114.77 L274.60,114.66 L274.95,114.55 L275.30,114.44 L275.65,114.33 L276.00,114.23 L276.35,114.12 L276.70,114.02 L277.05,113.92 L277.40,113.82 L277.75,113.73 L278.10,113.63 L278.45,113.54 L278.80,113.44 L279.15,113.35 L279.50,113.26 L279.85,113.17 L280.20,113.08 L280.55,112.99 L280.90,112.90 L281.25,112.81 L281.60,112.72 L281.95,112.63 L282.30,112.54 L282.65,112.45 L283.00,112.36 L283.35,112.27 L283.70,112.19 L284.05,112.10 L284.40,112.02 L284.75,111.94 L285.10,111.86 L285.45,111.78 L285.80,111.70 L286.15,111.63 L286.50,111.55 L286.85,111.49 L287.20,111.42 L287.55,111.35 L287.90,111.29 L288.25,111.23 L288.60,111.17 L288.95,111.12 L289.30,111.06 L289.65,111.00 L290.00,110.95 L290.35,110.90 L290.70,110.84 L291.05,110.79 L291.40,110.74 L291.75,110.69 L292.10,110.64 L292.45,110.60 L292.80,110.55 L293.15,110.50 L293.50,110.45 L293.85,110.41 L294.20,110.36 L294.55,110.31 L294.90,110.26 L295.25,110.22 L295.60,110.17 L295.95,110.12 L296.30,110.07 L296.65,110.02 L297.00,109.97 L297.35,109.92 L297.70,109.87 L298.05,109.82 L298.40,109.77 L298.75,109.72 L299.10,109.67 L299.45,109.62 L299.80,109.57 L300.15,109.52 L300.50,109.47 L300.85,109.42 L301.20,109.37 L301.55,109.32 L301.90,109.27 L302.25,109.22 L302.60,109.17 L302.95,109.12 L303.30,109.07 L303.65,109.02 L304.00,108.97 L304.35,108.92 L304.70,108.88 L305.05,108.83 L305.40,108.78 L305.75,108.74 L306.10,108.69 L306.45,108.65 L306.80,108.60 L307.15,108.56 L307.50,108.51 L307.85,108.47 L308.20,108.43 L308.55,108.38 L308.90,108.34 L309.25,108.30 L309.60,108.25 L309.95,108.21 L310.30,108.17 L310.65,108.13 L311.00,108.08 L311.35,108.04 L311.70,108.00 L312.05,107.96 L312.40,107.92 L312.75,107.88 L313.10,107.84 L313.45,107.80 L313.80,107.76 L314.15,107.72 L314.50,107.68 L314.85,107.64 L315.20,107.60 L315.55,107.56 L315.90,107.52 L316.25,107.48 L316.60,107.44 L316.95,107.41 L317.30,107.37 L317.65,107.33 L318.00,107.30 L318.35,107.26 L318.70,107.23 L319.05,107.19 L319.40,107.16 L319.75,107.13 L320.10,107.09 L320.45,107.06 L320.80,107.03 L321.15,107.00 L321.50,106.96 L321.85,106.93 L322.20,106.90 L322.55,106.87 L322.90,106.84 L323.25,106.81 L323.60,106.78 L323.95,106.75 L324.30,106.72 L324.65,106.69 L325.00,106.66 L325.35,106.64 L325.70,106.61 L326.05,106.58 L326.40,106.55 L326.75,106.52 L327.10,106.50 L327.45,106.47 L327.80,106.44 L328.15,106.41 L328.50,106.39 L328.85,106.36 L329.20,106.33 L329.55,106.31 L329.90,106.28 L330.25,106.26 L330.60,106.23 L330.95,106.20 L331.30,106.18 L331.65,106.15 L332.00,106.13 L332.35,106.10 L332.70,106.08 L333.05,106.05 L333.40,106.03 L333.75,106.00 L334.10,105.98 L334.45,105.96 L334.80,105.93 L335.15,105.91 L335.50,105.88 L335.85,105.86 L336.20,105.84 L336.55,105.81 L336.90,105.79 L337.25,105.76 L337.60,105.74 L337.95,105.72 L338.30,105.69 L338.65,105.67 L339.00,105.65 L339.35,105.62 L339.70,105.60 L340.05,105.58 L340.40,105.55 L340.75,105.53 L341.10,105.51 L341.45,105.48 L341.80,105.46 L342.15,105.44 L342.50,105.41 L342.85,105.39 L343.20,105.37 L343.55,105.34 L343.90,105.32 L344.25,105.30 L344.60,105.27 L344.95,105.25 L345.30,105.23 L345.65,105.20 L346.00,105.18 L346.35,105.16 L346.70,105.13 L347.05,105.11 L347.40,105.09 L347.75,105.06 L348.10,105.04 L348.45,105.02 L348.80,105.00 L349.15,104.97 L349.50,104.95 L349.85,104.93 L350.20,104.91 L350.55,104.88 L350.90,104.86 L351.25,104.84 L351.60,104.82 L351.95,104.80 L352.30,104.77 L352.65,104.75 L353.00,104.73 L353.35,104.71 L353.70,104.69 L354.05,104.67 L354.40,104.64 L354.75,104.62 L355.10,104.60 L355.45,104.58 L355.80,104.56 L356.15,104.54 L356.50,104.52 L356.85,104.49 L357.20,104.47 L357.55,104.45 L357.90,104.43 L358.25,104.41 L358.60,104.39 L358.95,104.37 L359.30,104.35 L359.65,104.33 L360.00,104.30 L360.35,104.28 L360.70,104.26 L361.05,104.24 L361.40,104.22 L361.75,104.20 L362.10,104.18 L362.45,104.16 L362.80,104.13 L363.15,104.11 L363.50,104.09 L363.85,104.07 L364.20,104.05 L364.55,104.03 L364.90,104.01 L365.25,103.99 L365.60,103.97 L365.95,103.95 L366.30,103.93 L366.65,103.91 L367.00,103.90 L367.35,103.89 L367.70,103.87 L368.05,103.86 L368.40,103.85 L368.75,103.84 L369.10,103.83 L369.45,103.82 L369.80,103.81 L370.15,103.80 L370.50,103.80 L370.85,103.79 L371.20,103.78 L371.55,103.77 L371.90,103.77 L372.25,103.76 L372.60,103.75 L372.95,103.74 L373.30,103.73 L373.65,103.73 L374.00,103.72 L374.35,103.71 L374.70,103.70 L375.05,103.69 L375.40,103.68 L375.75,103.66 L376.10,103.65 L376.45,103.64 L376.80,103.62 L377.15,103.60 L377.50,103.59 L377.85,103.57 L378.20,103.55 L378.55,103.53 L378.90,103.50 L379.25,103.48 L379.60,103.45 L379.95,103.42 L380.30,103.39 L380.65,103.36 L381.00,103.32 L381.35,103.29 L381.70,103.25 L382.05,103.21 L382.40,103.17 L382.75,103.12 L383.10,103.07 L383.45,103.02 L383.80,102.97 L384.15,102.91 L384.50,102.85 L384.85,102.00 L385.20,81.91 L385.55,75.74 L385.90,74.22 L386.25,73.58 L386.60,73.13 L386.95,72.81 L387.30,72.56 L387.65,72.31 L388.00,72.04 L388.35,71.78 L388.70,71.53 L389.05,71.30 L389.40,71.07 L389.75,70.86 L390.10,70.65 L390.45,70.46 L390.80,70.26 L391.15,70.07 L391.50,69.89 L391.85,69.71 L392.20,69.53 L392.55,69.35 L392.90,69.18 L393.25,69.02 L393.60,68.85 L393.95,68.70 L394.30,68.54 L394.65,68.39 L395.00,68.24 L395.35,68.10 L395.70,67.96 L396.05,67.83 L396.40,67.70 L396.75,67.57 L397.10,67.44 L397.45,67.31 L397.80,67.19 L398.15,67.06 L398.50,66.93 L398.85,66.81 L399.20,66.70 L399.55,66.58 L399.90,66.48 L400.25,66.74 L400.60,65.66 L400.95,64.98 L401.30,65.99 L401.65,66.24 L402.00,65.86 L402.35,65.55 L402.70,66.07 L403.05,66.63 L403.40,65.78 L403.75,65.49 L404.10,65.40 L404.45,66.49 L404.80,65.66 L405.15,65.89 L405.50,66.10 L405.85,66.01 L406.20,65.19 L406.55,65.91 L406.90,65.84 L407.25,65.67 L407.60,65.85 L407.95,65.20 L408.30,65.37 L408.65,65.16 L409.00,65.65 L409.35,65.06 L409.70,65.45 L410.05,64.83 L410.40,65.19 L410.75,65.06 L411.10,65.14 L411.45,65.21 L411.80,65.06 L412.15,65.01 L412.50,64.25 L412.85,65.49 L413.20,64.77 L413.55,64.90 L413.90,64.64 L414.25,65.35 L414.60,64.56 L414.95,65.10 L415.30,65.34 L415.65,65.51 L416.00,65.30 L416.35,65.05 L416.70,64.30 L417.05,65.27 L417.40,65.20 L417.75,65.04 L418.10,65.00 L418.45,64.69 L418.80,64.43 L419.15,65.05 L419.50,65.10 L419.85,64.16 L420.20,64.92 L420.55,64.63 L420.90,64.86 L421.25,64.60 L421.60,64.91 L421.95,64.86 L422.30,64.79 L422.65,63.86 L423.00,64.72 L423.35,64.39 L423.70,63.91 L424.05,64.62 L424.40,63.77 L424.75,64.66 L425.10,64.96 L425.45,64.06 L425.80,64.61 L426.15,64.41 L426.50,64.47 L426.85,63.65 L427.20,64.42 L427.55,64.21 L427.90,64.43 L428.25,64.13 L428.60,64.54 L428.95,64.20 L429.30,64.34 L429.65,64.60 L430.00,64.11 L430.35,64.42 L430.70,64.10 L431.05,64.20 L431.40,63.77 L431.75,64.27 L432.10,64.44 L432.45,63.90 L432.80,64.24 L433.15,64.08 L433.50,63.46 L433.85,64.02 L434.20,64.39 L434.55,63.67 L434.90,63.14 L435.25,63.92 L435.60,63.57 L435.95,64.56 L436.30,63.79 L436.65,63.79 L437.00,63.54 L437.35,63.87 L437.70,63.54 L438.05,63.40 L438.40,63.72 L438.75,63.42 L439.10,64.24 L439.45,63.26 L439.80,63.68 L440.15,63.43 L440.50,63.14 L440.85,64.33 L441.20,62.84 L441.55,64.23 L441.90,63.10 L442.25,63.68 L442.60,64.52 L442.95,62.79 L443.30,63.08 L443.65,64.12 L444.00,63.67 L444.35,63.38 L444.70,63.57 L445.05,63.20 L445.40,63.62 L445.75,64.15 L446.10,63.40 L446.45,63.60 L446.80,64.01 L447.15,64.31 L447.50,63.29 L447.85,63.63 L448.20,63.29 L448.55,63.25 L448.90,63.33 L449.25,63.24 L449.60,62.80 L449.95,62.69 L450.30,63.18 L450.65,63.51 L451.00,63.92 L451.35,63.23 L451.70,63.37 L452.05,63.69 L452.40,63.71 L452.75,63.37 L453.10,63.39 L453.45,64.13 L453.80,63.26 L454.15,63.20 L454.50,62.74 L454.85,63.54 L455.20,63.26 L455.55,64.11 L455.90,63.22 L456.25,63.67 L456.60,63.71 L456.95,63.98 L457.30,62.82 L457.65,63.94 L458.00,63.32 L458.35,63.27 L458.70,63.18 L459.05,63.14 L459.40,63.16 L459.75,62.37 L460.10,63.48 L460.45,63.30 L460.80,62.90 L461.15,63.24 L461.50,64.16 L461.85,63.40 L462.20,63.09 L462.55,63.91 L462.90,62.92 L463.25,63.17 L463.60,63.01 L463.95,63.12 L464.30,63.50 L464.65,63.43 L465.00,62.91 L465.35,63.14 L465.70,63.22 L466.05,63.02 L466.40,63.16 L466.75,62.89 L467.10,62.88 L467.45,63.17 L467.80,62.75 L468.15,63.31 L468.50,63.06 L468.85,62.77 L469.20,62.89 L469.55,62.93 L469.90,63.05 L470.25,63.15 L470.60,63.02 L470.95,62.76 L471.30,63.65 L471.65,63.44 L472.00,63.12 L472.35,63.44 L472.70,63.19 L473.05,62.96 L473.40,63.09 L473.75,64.08 L474.10,63.42 L474.45,63.44 L474.80,62.87 L475.15,63.25 L475.50,63.89 L475.85,63.17 L476.20,63.42 L476.55,63.48 L476.90,63.24 L477.25,63.59 L477.60,63.06 L477.95,63.16 L478.30,62.71 L478.65,63.98 L479.00,63.06 L479.35,62.98 L479.70,63.47 L480.05,62.74 L480.40,62.92 L480.75,62.61 L481.10,62.91 L481.45,62.75 L481.80,63.10 L482.15,62.83 L482.50,62.64 L482.85,62.76 L483.20,62.82 L483.55,62.66 L483.90,63.21 L484.25,63.10 L484.60,62.89 L484.95,62.37 L485.30,63.02 L485.65,62.32 L486.00,62.88 L486.35,62.82 L486.70,62.57 L487.05,62.47 L487.40,62.51 L487.75,63.57 L488.10,62.67 L488.45,62.68 L488.80,63.13 L489.15,62.91 L489.50,63.15 L489.85,62.26 L490.20,62.31 L490.55,64.01 L490.90,62.70 L491.25,62.60 L491.60,62.77 L491.95,63.08 L492.30,62.24 L492.65,62.80 L493.00,62.67 L493.35,62.94 L493.70,62.74 L494.05,62.46 L494.40,62.33 L494.75,61.72 L495.10,63.03 L495.45,62.08 L495.80,62.48 L496.15,63.28 L496.50,62.47 L496.85,62.86 L497.20,62.54 L497.55,62.88 L497.90,62.62 L498.25,62.41 L498.60,63.12 L498.95,62.49 L499.30,62.08 L499.65,62.46 L500.00,62.79 L500.35,62.15 L500.70,62.88 L501.05,62.87 L501.40,63.38 L501.75,62.32 L502.10,62.82 L502.45,61.91 L502.80,62.39 L503.15,62.59 L503.50,62.70 L503.85,62.52 L504.20,62.51 L504.55,62.30 L504.90,62.36 L505.25,62.65 L505.60,62.75 L505.95,62.77 L506.30,62.91 L506.65,62.98 L507.00,61.83 L507.35,62.32 L507.70,62.46 L508.05,62.27 L508.40,62.92 L508.75,62.80 L509.10,62.47 L509.45,62.56 L509.80,63.00 L510.15,62.38 L510.50,62.39 L510.85,62.86 L511.20,62.50 L511.55,66.86 L511.90,128.00 L512.25,131.96 L512.60,133.50 L512.95,134.74 L513.30,135.71 L513.65,136.50 L514.00,137.15 L514.35,137.75 L514.70,138.33 L515.05,138.88 L515.40,139.38 L515.75,139.85 L516.10,140.29 L516.45,140.71 L516.80,141.11 L517.15,141.50 L517.50,141.88 L517.85,142.25 L518.20,142.63 L518.55,143.00 L518.90,143.36 L519.25,143.71 L519.60,144.05 L519.95,144.39 L520.30,144.72 L520.65,145.05 L521.00,145.36 L521.35,145.67 L521.70,145.97 L522.05,146.26 L522.40,146.54 L522.75,146.81 L523.10,147.07 L523.45,147.33 L523.80,147.59 L524.15,147.84 L524.50,148.09 L524.85,148.33 L525.20,148.57 L525.55,148.80 L525.90,149.03 L526.25,149.25 L526.60,149.46 L526.95,149.68 L527.30,149.88 L527.65,150.08 L528.00,150.28 L528.35,150.47 L528.70,150.65 L529.05,150.83 L529.40,151.00 L529.75,151.17 L530.10,151.33 L530.45,151.49 L530.80,151.65 L531.15,151.81 L531.50,151.96 L531.85,152.12 L532.20,152.27 L532.55,152.41 L532.90,152.56 L533.25,152.70 L533.60,152.84 L533.95,152.98 L534.30,153.11 L534.65,153.25 L535.00,153.38 L535.35,153.51 L535.70,153.63 L536.05,153.76 L536.40,153.88 L536.75,154.00 L537.10,154.11 L537.45,154.23 L537.80,154.34 L538.15,154.45 L538.50,154.56 L538.85,154.67 L539.20,154.77 L539.55,154.87 L539.90,154.97 L540.25,155.07 L540.60,155.17 L540.95,155.26 L541.30,155.36 L541.65,155.45 L542.00,155.54 L542.35,155.63 L542.70,155.72 L543.05,155.81 L543.40,155.89 L543.75,155.98 L544.10,156.06 L544.45,156.15 L544.80,156.23 L545.15,156.31 L545.50,156.39 L545.85,156.47 L546.20,156.54 L546.55,156.62 L546.90,156.69 L547.25,156.77 L547.60,156.84 L547.95,156.91 L548.30,156.99 L548.65,157.06 L549.00,157.12 L549.35,157.19 L549.70,157.26 L550.05,157.33 L550.40,157.39 L550.75,157.46 L551.10,157.52 L551.45,157.58 L551.80,157.64 L552.15,157.71 L552.50,157.77 L552.85,157.83 L553.20,157.88 L553.55,157.94 L553.90,158.00 L554.25,158.05 L554.60,158.11 L554.95,158.17 L555.30,158.22 L555.65,158.27 L556.00,158.32 L556.35,158.38 L556.70,158.43 L557.05,158.48 L557.40,158.53 L557.75,158.58 L558.10,158.63 L558.45,158.67 L558.80,158.72 L559.15,158.77 L559.50,158.82 L559.85,158.86 L560.20,158.91 L560.55,158.95 L560.90,159.00 L561.25,159.04 L561.60,159.09 L561.95,159.13 L562.30,159.17 L562.65,159.22 L563.00,159.26 L563.35,159.30 L563.70,159.35 L564.05,159.39 L564.40,159.43 L564.75,159.47 L565.10,159.51 L565.45,159.55 L565.80,159.59 L566.15,159.63 L566.50,159.67 L566.85,159.71 L567.20,159.75 L567.55,159.79 L567.90,159.83 L568.25,159.87 L568.60,159.91 L568.95,159.95 L569.30,159.98 L569.65,160.02 L570.00,160.06 L570.35,160.10 L570.70,160.13 L571.05,160.17 L571.40,160.20 L571.75,160.24 L572.10,160.27 L572.45,160.31 L572.80,160.34 L573.15,160.38 L573.50,160.41 L573.85,160.44 L574.20,160.47 L574.55,160.51 L574.90,160.54 L575.25,160.57 L575.60,160.60" stroke="#000" stroke-width="2.3"/>
<path d="M575.60,160.60 L575.90,153.98 L576.20,133.29 L576.50,92.61 L576.80,55.68 L577.10,20.18 L577.40,-11.78 L577.70,-37.73 L578.00,-40.00 L578.30,-40.00 L578.60,-40.00 L578.90,-40.00 L579.20,-40.00 L579.50,-40.00 L579.80,-40.00 L580.10,-40.00 L580.40,-40.00 L580.70,-40.00 L581.00,-39.99 L581.30,-20.30 L581.61,10.40 L581.91,32.27 L582.21,44.45 L582.51,53.55 L582.81,61.23 L583.11,67.98 L583.41,74.43 L583.71,80.62 L584.01,86.28 L584.31,91.11 L584.61,95.17 L584.91,98.78 L585.21,102.04 L585.51,105.09 L585.81,108.04 L586.11,110.87 L586.41,113.52 L586.71,115.94 L587.01,118.06 L587.31,119.97 L587.61,121.78 L587.91,123.49 L588.21,125.10 L588.51,126.61 L588.81,128.02 L589.11,129.33 L589.41,130.53 L589.71,131.64 L590.01,132.68 L590.31,133.68 L590.61,134.65 L590.91,135.57 L591.21,136.46 L591.51,137.30 L591.81,138.10 L592.11,138.87 L592.41,139.59 L592.71,140.27 L593.01,140.92 L593.32,141.52 L593.62,142.08 L593.92,142.60 L594.22,143.09 L594.52,143.58 L594.82,144.04 L595.12,144.49 L595.42,144.92 L595.72,145.34 L596.02,145.75 L596.32,146.14 L596.62,146.52 L596.92,146.89 L597.22,147.24 L597.52,147.59 L597.82,147.92 L598.12,148.24 L598.42,148.56 L598.72,148.86 L599.02,149.15 L599.32,149.44 L599.62,149.72 L599.92,149.99 L600.22,150.26 L600.52,150.52 L600.82,150.77 L601.12,151.02 L601.42,151.26 L601.72,151.50 L602.02,151.73 L602.32,151.96 L602.62,152.18 L602.92,152.39 L603.22,152.61 L603.52,152.81 L603.82,153.01 L604.12,153.21 L604.42,153.40 L604.72,153.59 L605.03,153.77 L605.33,153.94 L605.63,154.12 L605.93,154.28 L606.23,154.45 L606.53,154.61 L606.83,154.76 L607.13,154.91 L607.43,155.06 L607.73,155.21 L608.03,155.35 L608.33,155.49 L608.63,155.63 L608.93,155.77 L609.23,155.90 L609.53,156.03 L609.83,156.16 L610.13,156.29 L610.43,156.41 L610.73,156.53 L611.03,156.65 L611.33,156.76 L611.63,156.87 L611.93,156.97 L612.23,157.08 L612.53,157.18 L612.83,157.27 L613.13,157.36 L613.43,157.45 L613.73,157.53 L614.03,157.61 L614.33,157.68 L614.63,157.76 L614.93,157.83 L615.23,157.90 L615.53,157.97 L615.83,158.04 L616.13,158.10 L616.43,158.17 L616.74,158.23 L617.04,158.29 L617.34,158.36 L617.64,158.42 L617.94,158.48 L618.24,158.53 L618.54,158.59 L618.84,158.65 L619.14,158.70 L619.44,158.76 L619.74,158.81 L620.04,158.86 L620.34,158.91 L620.64,158.96 L620.94,159.01 L621.24,159.06 L621.54,159.11 L621.84,159.16 L622.14,159.20 L622.44,159.25 L622.74,159.30 L623.04,159.34 L623.34,159.39 L623.64,159.43 L623.94,159.48 L624.24,159.52 L624.54,159.56 L624.84,159.61 L625.14,159.65 L625.44,159.69 L625.74,159.74 L626.04,159.78 L626.34,159.82 L626.64,159.86 L626.94,159.91 L627.24,159.95 L627.54,159.99 L627.84,160.03 L628.14,160.07 L628.45,160.11 L628.75,160.14 L629.05,160.17 L629.35,160.20 L629.65,160.23 L629.95,160.26 L630.25,160.28 L630.55,160.31 L630.85,160.33 L631.15,160.35 L631.45,160.38 L631.75,160.40 L632.05,160.42 L632.35,160.44 L632.65,160.47 L632.95,160.49 L633.25,160.52 L633.55,160.54 L633.85,160.57 L634.15,160.60 L634.45,160.63 L634.75,160.66 L635.05,160.69 L635.35,160.73 L635.65,160.77 L635.95,160.81 L636.25,160.86 L636.55,160.91 L636.85,160.96 L637.15,161.02 L637.45,161.08 L637.75,161.14 L638.05,161.21 L638.35,161.29 L638.65,161.39 L638.95,161.57 L639.25,161.83 L639.55,162.15 L639.85,162.79 L640.15,163.81 L640.46,164.56 L640.76,164.78 L641.06,164.95 L641.36,165.07 L641.66,165.16 L641.96,165.20 L642.26,165.21 L642.56,165.22 L642.86,165.22 L643.16,165.23 L643.46,165.24 L643.76,165.25 L644.06,165.25 L644.36,165.26 L644.66,165.27 L644.96,165.28 L645.26,165.28 L645.56,165.29 L645.86,165.29 L646.16,165.30 L646.46,165.31 L646.76,165.31 L647.06,165.32 L647.36,165.32 L647.66,165.33 L647.96,165.33 L648.26,165.33 L648.56,165.34 L648.86,165.34 L649.16,165.35 L649.46,165.35 L649.76,165.35 L650.06,165.36 L650.36,165.36 L650.66,165.36 L650.96,165.37 L651.26,165.37 L651.56,165.37 L651.86,165.37 L652.17,165.38 L652.47,165.38 L652.77,165.38 L653.07,165.38 L653.37,165.38 L653.67,165.39 L653.97,165.39 L654.27,165.39 L654.57,165.39 L654.87,165.39 L655.17,165.39 L655.47,165.39 L655.77,165.39 L656.07,165.40 L656.37,165.40 L656.67,165.40 L656.97,165.40 L657.27,165.40 L657.57,165.40 L657.87,165.40 L658.17,165.40 L658.47,165.40 L658.77,165.40 L659.07,165.40 L659.37,165.40 L659.67,165.40 L659.97,165.40 L660.27,165.40 L660.57,165.40 L660.87,165.40 L661.17,165.40 L661.47,165.40 L661.77,165.40 L662.07,165.40 L662.37,165.40 L662.67,165.40 L662.97,165.40 L663.27,165.40 L663.57,165.40 L663.88,165.40 L664.18,165.40 L664.48,165.40 L664.78,165.40 L665.08,165.40 L665.38,165.40 L665.68,165.40 L665.98,165.40 L666.28,165.40 L666.58,165.40 L666.88,165.40 L667.18,165.40 L667.48,165.40 L667.78,165.40 L668.08,165.40 L668.38,165.40 L668.68,165.40 L668.98,165.40 L669.28,165.40 L669.58,165.40 L669.88,165.40 L670.18,165.40 L670.48,165.40 L670.78,165.40 L671.08,165.40 L671.38,165.40 L671.68,165.40 L671.98,165.40 L672.28,165.40 L672.58,165.40 L672.88,165.40 L673.18,165.40 L673.48,165.40 L673.78,165.40 L674.08,165.40 L674.38,165.40 L674.68,165.40 L674.98,165.40 L675.28,165.40 L675.59,165.40 L675.89,165.40 L676.19,165.40 L676.49,165.40 L676.79,165.40 L677.09,165.40 L677.39,165.40 L677.69,165.40 L677.99,165.40 L678.29,165.40 L678.59,165.40 L678.89,165.40 L679.19,165.40 L679.49,165.40 L679.79,165.40 L680.09,165.40 L680.39,165.40 L680.69,165.40 L680.99,165.40 L681.29,165.40 L681.59,165.40 L681.89,165.40 L682.19,165.40 L682.49,165.40 L682.79,165.40 L683.09,165.40 L683.39,165.40 L683.69,165.40 L683.99,165.40 L684.29,165.40 L684.59,165.40 L684.89,165.40 L685.19,165.40 L685.49,165.40 L685.79,165.40 L686.09,165.40 L686.39,165.40 L686.69,165.40 L686.99,165.40 L687.30,165.40 L687.60,165.40 L687.90,165.40 L688.20,165.40 L688.50,165.40 L688.80,165.40 L689.10,165.40 L689.40,165.40 L689.70,165.40 L690.00,165.40 L690.30,165.40 L690.60,165.40 L690.90,165.40 L691.20,165.40 L691.50,165.40 L691.80,165.40 L692.10,165.40 L692.40,165.40 L692.70,165.40 L693.00,165.40" stroke="#000" stroke-width="2.3"/>
<path d="M83.30,158.80 L83.70,158.80 L84.10,158.80 L84.50,158.80 L84.90,158.80 L85.30,158.80 L85.70,158.80 L86.10,158.80 L86.50,158.80 L86.90,158.80 L87.30,157.60 L87.70,155.08 L88.10,151.09 L88.50,143.82 L88.90,135.75 L89.30,128.30 L89.70,121.92 L90.10,117.48 L90.50,113.87 L90.90,111.07 L91.30,108.95 L91.70,107.20 L92.10,105.71 L92.50,104.40 L92.90,103.21 L93.30,102.10 L93.70,101.08 L94.10,100.14 L94.50,99.27 L94.90,98.47 L95.30,97.71 L95.70,96.99 L96.10,96.31 L96.50,95.65 L96.90,95.03 L97.30,94.44 L97.70,93.90 L98.10,93.38 L98.50,92.91 L98.90,92.47 L99.30,92.06 L99.70,91.68 L100.10,91.31 L100.50,90.97 L100.90,90.64 L101.30,90.33 L101.70,90.02 L102.10,89.72 L102.50,89.43 L102.90,89.15 L103.30,88.88 L103.70,88.61 L104.10,88.36 L104.50,88.13 L104.90,87.90 L105.30,87.70 L105.70,87.51 L106.10,87.32 L106.50,87.14 L106.90,86.97 L107.30,86.81 L107.70,86.66 L108.10,86.51 L108.50,86.36 L108.90,86.23 L109.30,86.09 L109.70,85.97 L110.10,85.84 L110.50,85.72 L110.90,85.60 L111.30,85.48 L111.70,85.37 L112.10,85.27 L112.50,85.17 L112.90,85.08 L113.30,84.99 L113.70,84.92 L114.11,84.85 L114.51,84.78 L114.91,84.72 L115.31,84.66 L115.71,84.60 L116.11,84.54 L116.51,84.48 L116.91,84.43 L117.31,84.38 L117.71,84.33 L118.11,84.28 L118.51,84.23 L118.91,84.19 L119.31,84.15 L119.71,84.11 L120.11,84.07 L120.51,84.03 L120.91,84.00 L121.31,83.97 L121.71,83.93 L122.11,83.91 L122.51,83.88 L122.91,83.85 L123.31,83.83 L123.71,83.80 L124.11,83.78 L124.51,83.75 L124.91,83.73 L125.31,83.70 L125.71,83.68 L126.11,83.66 L126.51,83.64 L126.91,83.62 L127.31,83.60 L127.71,83.58 L128.11,83.57 L128.51,83.55 L128.91,83.54 L129.31,83.53 L129.71,83.52 L130.11,83.51 L130.51,83.50 L130.91,83.50 L131.31,83.49 L131.71,83.49 L132.11,83.48 L132.51,83.48 L132.91,83.48 L133.31,83.47 L133.71,83.47 L134.11,83.46 L134.51,83.46 L134.91,83.46 L135.31,83.45 L135.71,83.45 L136.11,83.45 L136.51,83.44 L136.91,83.44 L137.31,83.44 L137.71,83.44 L138.11,83.43 L138.51,83.43 L138.91,83.43 L139.31,83.42 L139.71,83.42 L140.11,83.42 L140.51,83.42 L140.91,83.42 L141.31,83.41 L141.71,83.41 L142.11,83.41 L142.51,83.41 L142.91,83.41 L143.31,83.41 L143.71,83.41 L144.11,83.40 L144.51,83.40 L144.91,83.40 L145.31,83.40 L145.71,83.40 L146.11,83.40 L146.51,83.40 L146.91,83.40 L147.31,83.40 L147.71,83.40 L148.11,83.40 L148.51,83.40 L148.91,83.40 L149.31,83.40 L149.71,83.40 L150.11,83.40 L150.51,83.40 L150.91,83.40 L151.31,83.40 L151.71,83.40 L152.11,83.40 L152.51,83.40 L152.91,83.40 L153.31,83.40 L153.71,83.40 L154.11,83.40 L154.51,83.40 L154.91,83.40 L155.31,83.40 L155.71,83.40 L156.11,83.40 L156.51,83.40 L156.91,83.40 L157.31,83.40 L157.71,83.40 L158.11,83.40 L158.51,83.40 L158.91,83.40 L159.31,83.40 L159.71,83.40 L160.11,83.40 L160.51,83.40 L160.91,83.40 L161.31,83.40 L161.71,83.40 L162.11,83.40 L162.51,83.40 L162.91,83.40 L163.31,83.40 L163.71,83.40 L164.11,83.40 L164.51,83.40 L164.91,83.40 L165.31,83.40 L165.71,83.40 L166.11,83.40 L166.51,83.40 L166.91,83.40 L167.31,83.40 L167.71,83.40 L168.11,83.40 L168.51,83.40 L168.91,83.40 L169.31,83.40 L169.71,83.40 L170.11,83.40 L170.51,83.40 L170.91,83.40 L171.31,83.40 L171.71,83.40 L172.11,83.40 L172.51,83.40 L172.91,83.40 L173.31,83.40 L173.71,83.40 L174.11,83.40 L174.51,83.40 L174.92,83.40 L175.32,83.40 L175.72,83.40 L176.12,83.40 L176.52,83.40 L176.92,83.40 L177.32,83.40 L177.72,83.40 L178.12,83.40 L178.52,83.40 L178.92,83.40 L179.32,83.40 L179.72,83.40 L180.12,83.40 L180.52,83.40 L180.92,83.40 L181.32,83.40 L181.72,83.40 L182.12,83.40 L182.52,83.40 L182.92,83.40 L183.32,83.40 L183.72,83.40 L184.12,83.40 L184.52,83.40 L184.92,83.40 L185.32,83.40 L185.72,83.40 L186.12,83.40 L186.52,83.40 L186.92,83.40 L187.32,83.40 L187.72,83.40 L188.12,83.40 L188.52,83.40 L188.92,83.40 L189.32,83.40 L189.72,83.40 L190.12,83.40 L190.52,83.40 L190.92,83.40 L191.32,83.40 L191.72,83.40 L192.12,83.40 L192.52,83.40 L192.92,83.40 L193.32,83.40 L193.72,83.40 L194.12,83.40 L194.52,83.40 L194.92,83.40 L195.32,83.40 L195.72,83.40 L196.12,83.40 L196.52,83.40 L196.92,83.40 L197.32,83.40 L197.72,83.40 L198.12,83.40 L198.52,83.40 L198.92,83.40 L199.32,83.40 L199.72,83.40 L200.12,83.40 L200.52,83.40 L200.92,83.40 L201.32,83.40 L201.72,83.40 L202.12,83.40 L202.52,83.40 L202.92,83.40 L203.32,83.40 L203.72,83.40 L204.12,83.40 L204.52,83.40 L204.92,83.40 L205.32,83.40 L205.72,83.40 L206.12,83.40 L206.52,83.40 L206.92,83.40 L207.32,83.40 L207.72,83.40 L208.12,83.40 L208.52,83.40 L208.92,83.40 L209.32,83.40 L209.72,83.40 L210.12,83.40 L210.52,83.40 L210.92,83.40 L211.32,83.40 L211.72,83.40 L212.12,83.40 L212.52,83.40 L212.92,83.40 L213.32,83.40 L213.72,83.40 L214.12,83.40 L214.52,83.40 L214.92,83.40 L215.32,83.40 L215.72,83.40 L216.12,83.40 L216.52,83.40 L216.92,83.40 L217.32,83.40 L217.72,83.40 L218.12,83.40 L218.52,83.40 L218.92,83.40 L219.32,83.40 L219.72,83.40 L220.12,83.40 L220.52,83.40 L220.92,83.40 L221.32,83.40 L221.72,83.40 L222.12,83.40 L222.52,83.40 L222.92,83.40 L223.32,83.40 L223.72,83.40 L224.12,83.40 L224.52,83.40 L224.92,83.40 L225.32,83.40 L225.72,83.40 L226.12,83.40 L226.52,83.40 L226.92,83.40 L227.32,83.40 L227.72,83.40 L228.12,83.40 L228.52,83.40 L228.92,83.40 L229.32,83.40 L229.72,83.40 L230.12,83.40 L230.52,83.40 L230.92,83.40 L231.32,83.40 L231.72,83.40 L232.12,83.40 L232.52,83.40 L232.92,83.40 L233.32,83.40 L233.72,83.40 L234.12,83.40 L234.52,83.40 L234.92,83.40 L235.32,83.40 L235.73,83.40 L236.13,83.40 L236.53,83.40 L236.93,83.40 L237.33,83.40 L237.73,83.40 L238.13,83.40 L238.53,83.40 L238.93,83.40 L239.33,83.40 L239.73,83.40 L240.13,83.40 L240.53,83.40 L240.93,83.40 L241.33,83.40 L241.73,83.40 L242.13,83.40 L242.53,83.40 L242.93,83.40 L243.33,83.40 L243.73,83.40 L244.13,83.40 L244.53,83.40 L244.93,83.40 L245.33,83.40 L245.73,83.40 L246.13,83.40 L246.53,83.40 L246.93,83.40 L247.33,83.40 L247.73,83.40 L248.13,83.40 L248.53,83.40 L248.93,83.40 L249.33,83.40 L249.73,83.40 L250.13,83.40 L250.53,83.40 L250.93,83.40 L251.33,83.40 L251.73,83.40 L252.13,83.40 L252.53,83.40 L252.93,83.40 L253.33,83.40 L253.73,83.40 L254.13,83.40 L254.53,83.40 L254.93,83.40 L255.33,83.40 L255.73,83.40 L256.13,83.40 L256.53,83.40 L256.93,83.40 L257.33,83.40 L257.73,83.40 L258.13,83.40 L258.53,83.40 L258.93,83.40 L259.33,83.40 L259.73,83.40 L260.13,83.40 L260.53,83.40 L260.93,83.40 L261.33,83.40 L261.73,83.40 L262.13,83.40 L262.53,83.40 L262.93,83.40 L263.33,83.40 L263.73,83.40 L264.13,83.40 L264.53,83.40 L264.93,83.40 L265.33,83.40 L265.73,83.40 L266.13,83.40 L266.53,83.40 L266.93,83.40 L267.33,83.40 L267.73,83.40 L268.13,83.40 L268.53,83.40 L268.93,83.40 L269.33,83.40 L269.73,83.40 L270.13,83.40 L270.53,83.40 L270.93,83.40 L271.33,83.40 L271.73,83.40 L272.13,83.40 L272.53,83.40 L272.93,83.40 L273.33,83.40 L273.73,83.40 L274.13,83.40 L274.53,83.40 L274.93,83.40 L275.33,83.40 L275.73,83.40 L276.13,83.40 L276.53,83.40 L276.93,83.40 L277.33,83.40 L277.73,83.40 L278.13,83.40 L278.53,83.40 L278.93,83.40 L279.33,83.40 L279.73,83.40 L280.13,83.40 L280.53,83.40 L280.93,83.40 L281.33,83.40 L281.73,83.40 L282.13,83.40 L282.53,83.40 L282.93,83.40 L283.33,83.40 L283.73,83.40 L284.13,83.40 L284.53,83.40 L284.93,83.40 L285.33,83.40 L285.73,83.40 L286.13,83.40 L286.53,83.40 L286.93,83.40 L287.33,83.40 L287.73,83.40 L288.13,83.40 L288.53,83.40 L288.93,83.40 L289.33,83.40 L289.73,83.40 L290.13,83.40 L290.53,83.40 L290.93,83.40 L291.33,83.40 L291.73,83.40 L292.13,83.40 L292.53,83.40 L292.93,83.40 L293.33,83.40 L293.73,83.40 L294.13,83.40 L294.53,83.40 L294.93,83.40 L295.33,83.40 L295.73,83.40 L296.13,83.40 L296.53,83.40 L296.94,83.40 L297.34,83.40 L297.74,83.40 L298.14,83.40 L298.54,83.40 L298.94,83.40 L299.34,83.40 L299.74,83.40 L300.14,83.40 L300.54,83.40 L300.94,83.40 L301.34,83.40 L301.74,83.40 L302.14,83.40 L302.54,83.40 L302.94,83.40 L303.34,83.40 L303.74,83.40 L304.14,83.40 L304.54,83.40 L304.94,83.40 L305.34,83.40 L305.74,83.40 L306.14,83.40 L306.54,83.40 L306.94,83.40 L307.34,83.40 L307.74,83.40 L308.14,83.40 L308.54,83.40 L308.94,83.40 L309.34,83.40 L309.74,83.40 L310.14,83.40 L310.54,83.40 L310.94,83.40 L311.34,83.40 L311.74,83.40 L312.14,83.40 L312.54,83.40 L312.94,83.40 L313.34,83.40 L313.74,83.40 L314.14,83.40 L314.54,83.40 L314.94,83.40 L315.34,83.40 L315.74,83.40 L316.14,83.40 L316.54,83.40 L316.94,83.40 L317.34,83.40 L317.74,83.40 L318.14,83.40 L318.54,83.40 L318.94,83.40 L319.34,83.40 L319.74,83.40 L320.14,83.40 L320.54,83.40 L320.94,83.40 L321.34,83.40 L321.74,83.40 L322.14,83.40 L322.54,83.40 L322.94,83.40 L323.34,83.40 L323.74,83.40 L324.14,83.40 L324.54,83.40 L324.94,83.40 L325.34,83.40 L325.74,83.40 L326.14,83.40 L326.54,83.40 L326.94,83.40 L327.34,83.40 L327.74,83.40 L328.14,83.40 L328.54,83.40 L328.94,83.40 L329.34,83.40 L329.74,83.40 L330.14,83.40 L330.54,83.40 L330.94,83.40 L331.34,83.40 L331.74,83.40 L332.14,83.40 L332.54,83.40 L332.94,83.40 L333.34,83.40 L333.74,83.40 L334.14,83.40 L334.54,83.40 L334.94,83.40 L335.34,83.40 L335.74,83.40 L336.14,83.40 L336.54,83.40 L336.94,83.40 L337.34,83.40 L337.74,83.40 L338.14,83.40 L338.54,83.40 L338.94,83.40 L339.34,83.40 L339.74,83.40 L340.14,83.40 L340.54,83.40 L340.94,83.40 L341.34,83.40 L341.74,83.40 L342.14,83.40 L342.54,83.40 L342.94,83.40 L343.34,83.40 L343.74,83.40 L344.14,83.40 L344.54,83.40 L344.94,83.40 L345.34,83.40 L345.74,83.40 L346.14,83.40 L346.54,83.40 L346.94,83.40 L347.34,83.40 L347.74,83.40 L348.14,83.40 L348.54,83.40 L348.94,83.40 L349.34,83.40 L349.74,83.40 L350.14,83.40 L350.54,83.40 L350.94,83.40 L351.34,83.40 L351.74,83.40 L352.14,83.40 L352.54,83.40 L352.94,83.40 L353.34,83.40 L353.74,83.40 L354.14,83.40 L354.54,83.40 L354.94,83.40 L355.34,83.40 L355.74,83.40 L356.14,83.40 L356.54,83.40 L356.94,83.40 L357.34,83.40 L357.75,83.40 L358.15,83.40 L358.55,83.40 L358.95,83.40 L359.35,83.40 L359.75,83.40 L360.15,83.40 L360.55,83.40 L360.95,83.40 L361.35,83.40 L361.75,83.40 L362.15,83.40 L362.55,83.40 L362.95,83.40 L363.35,83.40 L363.75,83.40 L364.15,83.40 L364.55,83.40 L364.95,83.40 L365.35,83.40 L365.75,83.40 L366.15,83.40 L366.55,83.40 L366.95,83.40 L367.35,83.40 L367.75,83.40 L368.15,83.40 L368.55,83.40 L368.95,83.40 L369.35,83.40 L369.75,83.40 L370.15,83.40 L370.55,83.40 L370.95,83.40 L371.35,83.40 L371.75,83.40 L372.15,83.40 L372.55,83.40 L372.95,83.40 L373.35,83.40 L373.75,83.40 L374.15,83.40 L374.55,83.40 L374.95,83.40 L375.35,83.40 L375.75,83.40 L376.15,83.40 L376.55,83.40 L376.95,83.40 L377.35,83.40 L377.75,83.40 L378.15,83.40 L378.55,83.40 L378.95,83.40 L379.35,83.40 L379.75,83.40 L380.15,83.40 L380.55,83.40 L380.95,83.40 L381.35,83.40 L381.75,83.40 L382.15,83.40 L382.55,83.40 L382.95,83.40 L383.35,83.40 L383.75,83.40 L384.15,83.40 L384.55,83.40 L384.95,83.40 L385.35,83.40 L385.75,83.40 L386.15,83.40 L386.55,83.40 L386.95,83.40 L387.35,83.40 L387.75,83.40 L388.15,83.40 L388.55,83.40 L388.95,83.40 L389.35,83.40 L389.75,83.40 L390.15,83.40 L390.55,83.40 L390.95,83.40 L391.35,83.40 L391.75,83.40 L392.15,83.40 L392.55,83.40 L392.95,83.40 L393.35,83.40 L393.75,83.40 L394.15,83.40 L394.55,83.40 L394.95,83.40 L395.35,83.40 L395.75,83.40 L396.15,83.40 L396.55,83.40 L396.95,83.40 L397.35,83.40 L397.75,83.40 L398.15,83.40 L398.55,83.40 L398.95,83.40 L399.35,83.40 L399.75,83.40 L400.15,83.40 L400.55,83.40 L400.95,83.40 L401.35,83.40 L401.75,83.40 L402.15,83.40 L402.55,83.40 L402.95,83.40 L403.35,83.40 L403.75,83.40 L404.15,83.40 L404.55,83.40 L404.95,83.40 L405.35,83.40 L405.75,83.40 L406.15,83.40 L406.55,83.40 L406.95,83.40 L407.35,83.40 L407.75,83.40 L408.15,83.40 L408.55,83.40 L408.95,83.40 L409.35,83.40 L409.75,83.40 L410.15,83.40 L410.55,83.40 L410.95,83.40 L411.35,83.40 L411.75,83.40 L412.15,83.40 L412.55,83.40 L412.95,83.40 L413.35,83.40 L413.75,83.40 L414.15,83.40 L414.55,83.40 L414.95,83.40 L415.35,83.40 L415.75,83.40 L416.15,83.40 L416.55,83.40 L416.95,83.40 L417.35,83.40 L417.75,83.40 L418.15,83.40 L418.55,83.40 L418.96,83.40 L419.36,83.40 L419.76,83.40 L420.16,83.40 L420.56,83.40 L420.96,83.40 L421.36,83.40 L421.76,83.40 L422.16,83.40 L422.56,83.40 L422.96,83.40 L423.36,83.40 L423.76,83.40 L424.16,83.40 L424.56,83.40 L424.96,83.40 L425.36,83.40 L425.76,83.40 L426.16,83.40 L426.56,83.40 L426.96,83.40 L427.36,83.40 L427.76,83.40 L428.16,83.40 L428.56,83.40 L428.96,83.40 L429.36,83.40 L429.76,83.40 L430.16,83.40 L430.56,83.40 L430.96,83.40 L431.36,83.40 L431.76,83.40 L432.16,83.40 L432.56,83.40 L432.96,83.40 L433.36,83.40 L433.76,83.40 L434.16,83.40 L434.56,83.40 L434.96,83.40 L435.36,83.40 L435.76,83.40 L436.16,83.40 L436.56,83.40 L436.96,83.40 L437.36,83.40 L437.76,83.40 L438.16,83.40 L438.56,83.40 L438.96,83.40 L439.36,83.40 L439.76,83.40 L440.16,83.40 L440.56,83.40 L440.96,83.40 L441.36,83.40 L441.76,83.40 L442.16,83.40 L442.56,83.40 L442.96,83.40 L443.36,83.40 L443.76,83.40 L444.16,83.40 L444.56,83.40 L444.96,83.40 L445.36,83.40 L445.76,83.40 L446.16,83.40 L446.56,83.40 L446.96,83.40 L447.36,83.40 L447.76,83.40 L448.16,83.40 L448.56,83.40 L448.96,83.40 L449.36,83.40 L449.76,83.40 L450.16,83.40 L450.56,83.40 L450.96,83.40 L451.36,83.40 L451.76,83.40 L452.16,83.40 L452.56,83.40 L452.96,83.40 L453.36,83.40 L453.76,83.40 L454.16,83.40 L454.56,83.40 L454.96,83.40 L455.36,83.40 L455.76,83.40 L456.16,83.40 L456.56,83.40 L456.96,83.40 L457.36,83.40 L457.76,83.40 L458.16,83.40 L458.56,83.40 L458.96,83.40 L459.36,83.40 L459.76,83.40 L460.16,83.40 L460.56,83.40 L460.96,83.40 L461.36,83.40 L461.76,83.40 L462.16,83.40 L462.56,83.40 L462.96,83.40 L463.36,83.40 L463.76,83.40 L464.16,83.40 L464.56,83.40 L464.96,83.40 L465.36,83.40 L465.76,83.40 L466.16,83.40 L466.56,83.40 L466.96,83.40 L467.36,83.40 L467.76,83.40 L468.16,83.40 L468.56,83.40 L468.96,83.40 L469.36,83.40 L469.76,83.40 L470.16,83.40 L470.56,83.40 L470.96,83.40 L471.36,83.40 L471.76,83.40 L472.16,83.40 L472.56,83.40 L472.96,83.40 L473.36,83.40 L473.76,83.40 L474.16,83.40 L474.56,83.40 L474.96,83.40 L475.36,83.40 L475.76,83.40 L476.16,83.40 L476.56,83.40 L476.96,83.40 L477.36,83.40 L477.76,83.40 L478.16,83.40 L478.56,83.40 L478.96,83.40 L479.36,83.40 L479.77,83.40 L480.17,83.40 L480.57,83.40 L480.97,83.40 L481.37,83.40 L481.77,83.40 L482.17,83.40 L482.57,83.40 L482.97,83.40 L483.37,83.40 L483.77,83.40 L484.17,83.40 L484.57,83.40 L484.97,83.40 L485.37,83.40 L485.77,83.40 L486.17,83.40 L486.57,83.40 L486.97,83.40 L487.37,83.40 L487.77,83.40 L488.17,83.40 L488.57,83.40 L488.97,83.40 L489.37,83.40 L489.77,83.40 L490.17,83.40 L490.57,83.40 L490.97,83.40 L491.37,83.40 L491.77,83.40 L492.17,83.40 L492.57,83.40 L492.97,83.40 L493.37,83.40 L493.77,83.40 L494.17,83.40 L494.57,83.40 L494.97,83.40 L495.37,83.40 L495.77,83.40 L496.17,83.40 L496.57,83.40 L496.97,83.40 L497.37,83.40 L497.77,83.40 L498.17,83.40 L498.57,83.40 L498.97,83.40 L499.37,83.40 L499.77,83.40 L500.17,83.40 L500.57,83.40 L500.97,83.40 L501.37,83.40 L501.77,83.40 L502.17,83.40 L502.57,83.40 L502.97,83.40 L503.37,83.40 L503.77,83.40 L504.17,83.40 L504.57,83.40 L504.97,83.40 L505.37,83.40 L505.77,83.40 L506.17,83.40 L506.57,83.40 L506.97,83.40 L507.37,83.40 L507.77,83.40 L508.17,83.40 L508.57,83.40 L508.97,83.40 L509.37,83.40 L509.77,83.40 L510.17,83.40 L510.57,83.40 L510.97,83.40 L511.37,83.40 L511.77,83.40 L512.17,83.40 L512.57,83.40 L512.97,83.40 L513.37,83.40 L513.77,83.40 L514.17,83.40 L514.57,83.40 L514.97,83.40 L515.37,83.40 L515.77,83.40 L516.17,83.40 L516.57,83.40 L516.97,83.40 L517.37,83.40 L517.77,83.40 L518.17,83.40 L518.57,83.40 L518.97,83.40 L519.37,83.40 L519.77,83.40 L520.17,83.40 L520.57,83.40 L520.97,83.40 L521.37,83.40 L521.77,83.40 L522.17,83.40 L522.57,83.40 L522.97,83.40 L523.37,83.40 L523.77,83.40 L524.17,83.40 L524.57,83.40 L524.97,83.40 L525.37,83.40 L525.77,83.40 L526.17,83.40 L526.57,83.40 L526.97,83.40 L527.37,83.40 L527.77,83.40 L528.17,83.40 L528.57,83.40 L528.97,83.40 L529.37,83.40 L529.77,83.40 L530.17,83.40 L530.57,83.40 L530.97,83.40 L531.37,83.40 L531.77,83.40 L532.17,83.40 L532.57,83.40 L532.97,83.40 L533.37,83.40 L533.77,83.40 L534.17,83.40 L534.57,83.40 L534.97,83.40 L535.37,83.40 L535.77,83.40 L536.17,83.40 L536.57,83.40 L536.97,83.40 L537.37,83.40 L537.77,83.40 L538.17,83.40 L538.57,83.40 L538.97,83.40 L539.37,83.40 L539.77,83.40 L540.17,83.40 L540.58,83.40 L540.98,83.40 L541.38,83.40 L541.78,83.40 L542.18,83.40 L542.58,83.40 L542.98,83.40 L543.38,83.40 L543.78,83.40 L544.18,83.40 L544.58,83.40 L544.98,83.40 L545.38,83.40 L545.78,83.40 L546.18,83.40 L546.58,83.40 L546.98,83.40 L547.38,83.40 L547.78,83.40 L548.18,83.40 L548.58,83.40 L548.98,83.40 L549.38,83.40 L549.78,83.40 L550.18,83.40 L550.58,83.40 L550.98,83.40 L551.38,83.40 L551.78,83.40 L552.18,83.40 L552.58,83.40 L552.98,83.40 L553.38,83.40 L553.78,83.40 L554.18,83.40 L554.58,83.40 L554.98,83.40 L555.38,83.40 L555.78,83.40 L556.18,83.40 L556.58,83.40 L556.98,83.40 L557.38,83.40 L557.78,83.40 L558.18,83.40 L558.58,83.40 L558.98,83.40 L559.38,83.40 L559.78,83.40 L560.18,83.40 L560.58,83.40 L560.98,83.40 L561.38,83.40 L561.78,83.40 L562.18,83.40 L562.58,83.40 L562.98,83.40 L563.38,83.40 L563.78,83.40 L564.18,83.40 L564.58,83.40 L564.98,83.40 L565.38,83.40 L565.78,83.40 L566.18,83.40 L566.58,83.40 L566.98,83.40 L567.38,83.40 L567.78,83.40 L568.18,83.40 L568.58,83.40 L568.98,83.40 L569.38,83.40 L569.78,83.40 L570.18,83.40 L570.58,83.40 L570.98,83.40 L571.38,83.40 L571.78,83.40 L572.18,83.40 L572.58,83.40 L572.98,83.40 L573.38,83.40 L573.78,83.40 L574.18,83.40 L574.58,83.40 L574.98,83.32 L575.38,81.02 L575.78,77.06 L576.18,69.61 L576.58,62.99 L576.98,58.32 L577.38,54.33 L577.78,51.24 L578.18,49.19 L578.58,47.76 L578.98,46.61 L579.38,45.49 L579.78,44.46 L580.18,43.50 L580.58,42.59 L580.98,41.68 L581.38,40.80 L581.78,39.96 L582.18,39.18 L582.58,38.49 L582.98,37.87 L583.38,37.29 L583.78,36.73 L584.18,36.20 L584.58,35.70 L584.98,35.23 L585.38,34.78 L585.78,34.36 L586.18,33.97 L586.58,33.60 L586.98,33.26 L587.38,32.93 L587.78,32.62 L588.18,32.33 L588.58,32.05 L588.98,31.79 L589.38,31.54 L589.78,31.30 L590.18,31.07 L590.58,30.86 L590.98,30.66 L591.38,30.46 L591.78,30.26 L592.18,30.08 L592.58,29.90 L592.98,29.73 L593.38,29.58 L593.78,29.43 L594.18,29.31 L594.58,29.20 L594.98,29.11 L595.38,29.02 L595.78,28.94 L596.18,28.87 L596.58,28.79 L596.98,28.73 L597.38,28.66 L597.78,28.61 L598.18,28.55 L598.58,28.50 L598.98,28.45 L599.38,28.40 L599.78,28.36 L600.18,28.31 L600.58,28.27 L600.98,28.23 L601.38,28.19 L601.79,28.15 L602.19,28.11 L602.59,28.07 L602.99,28.04 L603.39,28.01 L603.79,27.97 L604.19,27.94 L604.59,27.92 L604.99,27.89 L605.39,27.86 L605.79,27.84 L606.19,27.82 L606.59,27.80 L606.99,27.78 L607.39,27.76 L607.79,27.73 L608.19,27.71 L608.59,27.69 L608.99,27.68 L609.39,27.66 L609.79,27.64 L610.19,27.62 L610.59,27.60 L610.99,27.59 L611.39,27.57 L611.79,27.56 L612.19,27.55 L612.59,27.53 L612.99,27.52 L613.39,27.52 L613.79,27.51 L614.19,27.50 L614.59,27.50 L614.99,27.50 L615.39,27.50 L615.79,27.50 L616.19,27.50 L616.59,27.50 L616.99,27.50 L617.39,27.50 L617.79,27.50 L618.19,27.50 L618.59,27.50 L618.99,27.50 L619.39,27.50 L619.79,27.50 L620.19,27.50 L620.59,27.50 L620.99,27.50 L621.39,27.50 L621.79,27.50 L622.19,27.50 L622.59,27.50 L622.99,27.50 L623.39,27.50 L623.79,27.50 L624.19,27.50 L624.59,27.50 L624.99,27.50 L625.39,27.50 L625.79,27.50 L626.19,27.50 L626.59,27.50 L626.99,27.50 L627.39,27.50 L627.79,27.50 L628.19,27.50 L628.59,27.50 L628.99,27.50 L629.39,27.50 L629.79,27.50 L630.19,27.50 L630.59,27.50 L630.99,27.50 L631.39,27.50 L631.79,27.50 L632.19,27.50 L632.59,27.50 L632.99,27.50 L633.39,27.50 L633.79,27.50 L634.19,27.50 L634.59,27.50 L634.99,27.50 L635.39,27.50 L635.79,27.50 L636.19,27.50 L636.59,27.50 L636.99,27.50 L637.39,27.50 L637.79,27.50 L638.19,27.50 L638.59,27.50 L638.99,31.00 L639.39,41.83 L639.79,47.80 L640.19,51.82 L640.59,54.86 L640.99,57.00 L641.39,58.73 L641.79,60.18 L642.19,61.47 L642.59,62.69 L642.99,63.83 L643.39,64.89 L643.79,65.86 L644.19,66.74 L644.59,67.53 L644.99,68.22 L645.39,68.84 L645.79,69.41 L646.19,69.94 L646.59,70.43 L646.99,70.90 L647.39,71.35 L647.79,71.80 L648.19,72.25 L648.59,72.71 L648.99,73.18 L649.39,73.66 L649.79,74.14 L650.19,74.62 L650.59,75.09 L650.99,75.55 L651.39,75.99 L651.79,76.41 L652.19,76.79 L652.59,77.14 L652.99,77.46 L653.39,77.73 L653.79,77.99 L654.19,78.23 L654.59,78.47 L654.99,78.70 L655.39,78.92 L655.79,79.13 L656.19,79.34 L656.59,79.53 L656.99,79.71 L657.39,79.89 L657.79,80.05 L658.19,80.21 L658.59,80.35 L658.99,80.49 L659.39,80.62 L659.79,80.74 L660.19,80.85 L660.59,80.96 L660.99,81.06 L661.39,81.16 L661.79,81.25 L662.19,81.34 L662.60,81.43 L663.00,81.51 L663.40,81.58 L663.80,81.66 L664.20,81.72 L664.60,81.79 L665.00,81.85 L665.40,81.91 L665.80,81.97 L666.20,82.03 L666.60,82.08 L667.00,82.13 L667.40,82.18 L667.80,82.23 L668.20,82.28 L668.60,82.33 L669.00,82.37 L669.40,82.42 L669.80,82.46 L670.20,82.50 L670.60,82.54 L671.00,82.58 L671.40,82.62 L671.80,82.65 L672.20,82.69 L672.60,82.72 L673.00,82.76 L673.40,82.79 L673.80,82.82 L674.20,82.85 L674.60,82.87 L675.00,82.90 L675.40,82.93 L675.80,82.95 L676.20,82.97 L676.60,83.00 L677.00,83.02 L677.40,83.04 L677.80,83.06 L678.20,83.08 L678.60,83.10 L679.00,83.12 L679.40,83.14 L679.80,83.15 L680.20,83.17 L680.60,83.19 L681.00,83.21 L681.40,83.22 L681.80,83.24 L682.20,83.25 L682.60,83.27 L683.00,83.28 L683.40,83.30 L683.80,83.32 L684.20,83.33 L684.60,83.34 L685.00,83.36 L685.40,83.37 L685.80,83.39 L686.20,83.40 L686.60,83.42 L687.00,83.43 L687.40,83.44 L687.80,83.46 L688.20,83.47 L688.60,83.48 L689.00,83.49 L689.40,83.51 L689.80,83.52 L690.20,83.53 L690.60,83.54 L691.00,83.55 L691.40,83.56 L691.80,83.57 L692.20,83.58 L692.60,83.59 L693.00,83.60" stroke="#58ad1c" stroke-width="2.1"/>
</g>
<path d="M83.3,15.5 H682.9 M83.3,165.3 H682.9" stroke="#000000" stroke-width="1.2" fill="none"/>
<path d="M83.3,14.9 V165.9" stroke="#000000" stroke-width="1.2" fill="none"/>
<path d="M692.9,15.0 V165.8" stroke="#58ad1c" stroke-width="1.5" fill="none"/>
<path d="M189.32,15.5 v9.5 M189.32,165.3 v-9.5 M295.33,15.5 v9.5 M295.33,165.3 v-9.5 M401.35,15.5 v9.5 M401.35,165.3 v-9.5 M507.37,15.5 v9.5 M507.37,165.3 v-9.5 M613.39,15.5 v9.5 M613.39,165.3 v-9.5 " stroke="#262626" stroke-width="1.2" fill="none"/>
<path d="M83.3,90.40 h9.5 " stroke="#000000" stroke-width="1.2" fill="none"/>
<path d="M692.9,115.37 h-10.0 M692.9,65.43 h-10.0 M692.9,15.50 h-10.0 " stroke="#58ad1c" stroke-width="1.3" fill="none"/>
<text x="77.5" y="21.95" text-anchor="end" fill="#000000" class="tk">400</text>
<text x="77.5" y="96.85" text-anchor="end" fill="#000000" class="tk">200</text>
<text x="77.5" y="171.75" text-anchor="end" fill="#000000" class="tk">0</text>
<text x="698.5" y="171.75" text-anchor="start" fill="#58ad1c" class="tk">0</text>
<text x="698.5" y="121.82" text-anchor="start" fill="#58ad1c" class="tk">200</text>
<text x="698.5" y="71.88" text-anchor="start" fill="#58ad1c" class="tk">400</text>
<text x="698.5" y="21.95" text-anchor="start" fill="#58ad1c" class="tk">600</text>
<text x="89.6" y="33.6" class="tk" fill="#000">(a)</text>
<text x="126.3" y="127.1" class="tk" fill="#000">NO<tspan dy="4.3" font-size="12.6">x,empty</tspan></text>
<text x="271.4" y="139.0" class="tk" fill="#000">NO<tspan dy="4.4" font-size="12.6">x,out</tspan></text>
<g transform="translate(22.5,138.4) rotate(-90)"><text class="lb" fill="#000"><tspan font-style="italic">c</tspan><tspan dy="10" font-size="15.8">NO</tspan><tspan dy="3.6" font-size="12">x</tspan><tspan dy="-13.6" dx="7.4">/</tspan><tspan dx="4.5" letter-spacing="0.55">ppm</tspan></text></g>
<g transform="translate(750.6,115.2) rotate(-90)"><text class="lb" fill="#58ad1c"><tspan font-style="italic">T</tspan> / °C</text></g>
<g clip-path="url(#cb)" fill="none" stroke-linejoin="round">
<path d="M130.40,351.50 L130.90,351.03 L131.40,350.55 L131.90,350.08 L132.40,349.61 L132.90,349.13 L133.40,348.66 L133.90,348.19 L134.40,347.71 L134.90,347.24 L135.40,346.77 L135.90,346.29 L136.40,345.82 L136.90,345.35 L137.40,344.87 L137.90,344.40 L138.40,343.93 L138.90,343.45 L139.40,342.98 L139.90,342.51 L140.40,342.03 L140.90,341.56 L141.40,341.09 L141.90,340.61 L142.40,340.14 L142.90,339.67 L143.40,339.20 L143.90,338.73 L144.40,338.26 L144.90,337.78 L145.40,337.31 L145.90,336.83 L146.40,336.36 L146.90,335.88 L147.40,335.41 L147.90,334.94 L148.40,334.46 L148.90,333.99 L149.40,333.52 L149.90,333.05 L150.40,332.59 L150.90,332.12 L151.40,331.66 L151.90,331.20 L152.40,330.74 L152.90,330.29 L153.40,329.84 L153.90,329.39 L154.40,328.93 L154.90,328.48 L155.40,328.03 L155.90,327.58 L156.40,327.13 L156.90,326.68 L157.40,326.23 L157.90,325.79 L158.40,325.34 L158.90,324.90 L159.40,324.46 L159.90,324.03 L160.40,323.60 L160.90,323.17 L161.40,322.74 L161.90,322.32 L162.40,321.90 L162.90,321.49 L163.40,321.08 L163.90,320.68 L164.40,320.28 L164.90,319.89 L165.40,319.49 L165.90,319.11 L166.40,318.72 L166.90,318.34 L167.40,317.96 L167.90,317.58 L168.40,317.20 L168.90,316.83 L169.40,316.47 L169.90,316.10 L170.40,315.74 L170.90,315.38 L171.40,315.03 L171.90,314.68 L172.40,314.33 L172.90,313.99 L173.40,313.65 L173.90,313.32 L174.40,312.99 L174.90,312.66 L175.40,312.34 L175.90,312.03 L176.40,311.71 L176.90,311.40 L177.40,311.09 L177.90,310.79 L178.40,310.49 L178.90,310.19 L179.40,309.90 L179.90,309.61 L180.40,309.32 L180.90,309.03 L181.40,308.75 L181.90,308.46 L182.40,308.19 L182.90,307.91 L183.40,307.63 L183.90,307.36 L184.40,307.09 L184.90,306.82 L185.40,306.56 L185.90,306.29 L186.40,306.03 L186.90,305.77 L187.40,305.51 L187.90,305.25 L188.40,305.00 L188.90,304.75 L189.40,304.49 L189.90,304.24 L190.40,304.00 L190.90,303.75 L191.40,303.51 L191.90,303.27 L192.40,303.03 L192.90,302.80 L193.40,302.56 L193.90,302.33 L194.40,302.11 L194.90,301.88 L195.40,301.66 L195.90,301.44 L196.40,301.23 L196.90,301.02 L197.40,300.80 L197.90,300.60 L198.40,300.39 L198.90,300.19 L199.40,299.99 L199.90,299.79 L200.40,299.59 L200.90,299.39 L201.40,299.20 L201.90,299.01 L202.40,298.82 L202.90,298.63 L203.40,298.44 L203.90,298.26 L204.40,298.07 L204.90,297.89 L205.40,297.71 L205.90,297.52 L206.40,297.34 L206.90,297.16 L207.40,296.99 L207.90,296.81 L208.40,296.63 L208.90,296.46 L209.40,296.28 L209.90,296.11 L210.40,295.94 L210.90,295.77 L211.40,295.60 L211.90,295.43 L212.40,295.26 L212.90,295.10 L213.40,294.93 L213.90,294.77 L214.40,294.61 L214.90,294.45 L215.40,294.29 L215.90,294.14 L216.40,293.98 L216.90,293.83 L217.40,293.68 L217.90,293.53 L218.40,293.38 L218.90,293.24 L219.40,293.09 L219.90,292.95 L220.40,292.81 L220.90,292.67 L221.40,292.53 L221.90,292.39 L222.40,292.25 L222.90,292.12 L223.40,291.98 L223.90,291.85 L224.40,291.71 L224.90,291.58 L225.40,291.45 L225.90,291.32 L226.40,291.19 L226.90,291.06 L227.40,290.93 L227.90,290.80 L228.40,290.67 L228.90,290.54 L229.40,290.42 L229.90,290.29 L230.40,290.17 L230.90,290.04 L231.40,289.92 L231.90,289.79 L232.40,289.67 L232.90,289.55 L233.40,289.43 L233.90,289.31 L234.40,289.19 L234.90,289.07 L235.40,288.95 L235.90,288.83 L236.40,288.71 L236.90,288.59 L237.40,288.47 L237.90,288.36 L238.40,288.24 L238.90,288.13 L239.40,288.01 L239.90,287.90 L240.40,287.78 L240.90,287.67 L241.40,287.56 L241.90,287.44 L242.40,287.33 L242.90,287.22 L243.40,287.11 L243.90,287.01 L244.40,286.92 L244.90,286.83 L245.40,286.74 L245.90,286.66 L246.40,286.58 L246.90,286.50 L247.40,286.43 L247.90,286.36 L248.40,286.29 L248.90,286.21 L249.40,286.14 L249.90,286.06 L250.40,285.99 L250.90,285.90 L251.40,285.82 L251.90,285.73 L252.40,285.64 L252.90,285.53 L253.40,285.43 L253.90,285.31 L254.40,285.19 L254.90,285.06 L255.40,284.92 L255.90,284.76 L256.40,284.60 L256.90,284.43 L257.40,284.24 L257.90,283.98 L258.40,283.57 L258.90,283.08 L259.40,282.56 L259.90,282.08 L260.40,281.68 L260.90,281.28 L261.40,280.89 L261.90,280.51 L262.40,280.13 L262.90,279.77 L263.40,279.41 L263.90,279.07 L264.40,278.73 L264.90,278.40 L265.40,278.07 L265.90,277.75 L266.40,277.44 L266.90,277.13 L267.40,276.83 L267.90,276.53 L268.40,276.23 L268.90,275.94 L269.40,275.65 L269.90,275.37 L270.40,275.09 L270.90,274.81 L271.40,274.53 L271.90,274.26 L272.40,273.99 L272.90,273.72 L273.40,273.45 L273.90,273.19 L274.40,272.93 L274.90,272.67 L275.40,272.42 L275.90,272.16 L276.40,271.91 L276.90,271.67 L277.40,271.42 L277.90,271.18 L278.40,270.94 L278.90,270.71 L279.40,270.47 L279.90,270.25 L280.40,270.02 L280.90,269.80 L281.40,269.57 L281.90,269.35 L282.40,269.14 L282.90,268.92 L283.40,268.71 L283.90,268.50 L284.40,268.29 L284.90,268.08 L285.40,267.88 L285.90,267.68 L286.40,267.48 L286.90,267.28 L287.40,267.08 L287.90,266.89 L288.40,266.69 L288.90,266.50 L289.40,266.31 L289.90,266.12 L290.40,265.93 L290.90,265.75 L291.40,265.56 L291.90,265.38 L292.40,265.20 L292.90,265.02 L293.40,264.84 L293.90,264.66 L294.40,264.48 L294.90,264.31 L295.40,264.13 L295.90,263.96 L296.40,263.79 L296.90,263.62 L297.40,263.45 L297.90,263.29 L298.40,263.12 L298.90,262.96 L299.40,262.80 L299.90,262.64 L300.40,262.49 L300.90,262.33 L301.40,262.18 L301.90,262.03 L302.40,261.88 L302.90,261.73 L303.40,261.59 L303.90,261.45 L304.40,261.30 L304.90,261.16 L305.40,261.02 L305.90,260.88 L306.40,260.75 L306.90,260.61 L307.40,260.48 L307.90,260.35 L308.40,260.21 L308.90,260.09 L309.40,259.96 L309.90,259.83 L310.40,259.71 L310.90,259.58 L311.40,259.46 L311.90,259.34 L312.40,259.22 L312.90,259.11 L313.40,258.99 L313.90,258.88 L314.40,258.76 L314.90,258.65 L315.40,258.54 L315.90,258.43 L316.40,258.32 L316.90,258.22 L317.40,258.11 L317.90,258.01 L318.40,257.90 L318.90,257.80 L319.40,257.70 L319.90,257.60 L320.40,257.50 L320.90,257.40 L321.40,257.30 L321.90,257.21 L322.40,257.11 L322.90,257.02 L323.40,256.93 L323.90,256.83 L324.40,256.74 L324.90,256.65 L325.40,256.55 L325.90,256.46 L326.40,256.37 L326.90,256.28 L327.40,256.19 L327.90,256.11 L328.40,256.02 L328.90,255.93 L329.40,255.85 L329.90,255.77 L330.40,255.68 L330.90,255.60 L331.40,255.52 L331.90,255.45 L332.40,255.37 L332.90,255.30 L333.40,255.23 L333.90,255.16 L334.40,255.09 L334.90,255.02 L335.40,254.95 L335.90,254.89 L336.40,254.82 L336.90,254.76 L337.40,254.70 L337.90,254.63 L338.40,254.57 L338.90,254.51 L339.40,254.45 L339.90,254.39 L340.40,254.33 L340.90,254.27 L341.40,254.21 L341.90,254.15 L342.40,254.10 L342.90,254.04 L343.40,253.98 L343.90,253.93 L344.40,253.87 L344.90,253.82 L345.40,253.76 L345.90,253.71 L346.40,253.65 L346.90,253.60 L347.40,253.55 L347.90,253.50 L348.40,253.44 L348.90,253.39 L349.40,253.34 L349.90,253.29 L350.40,253.24 L350.90,253.18 L351.40,253.13 L351.90,253.08 L352.40,253.03 L352.90,252.98 L353.40,252.93 L353.90,252.88 L354.40,252.83 L354.90,252.78 L355.40,252.73 L355.90,252.68 L356.40,252.63 L356.90,252.58 L357.40,252.53 L357.90,252.48 L358.40,252.43 L358.90,252.38 L359.40,252.34 L359.90,252.29 L360.40,252.24 L360.90,252.19 L361.40,252.15 L361.90,252.10 L362.40,252.05 L362.90,252.01 L363.40,251.96 L363.90,251.92 L364.40,251.87 L364.90,251.83 L365.40,251.78 L365.90,251.74 L366.40,251.70 L366.90,251.65 L367.40,251.61 L367.90,251.57 L368.40,251.53 L368.90,251.49 L369.40,251.45 L369.90,251.41 L370.40,251.37 L370.90,251.33 L371.40,251.30 L371.90,251.27 L372.40,251.25 L372.90,251.22 L373.40,251.20 L373.90,251.18 L374.40,251.16 L374.90,251.14 L375.40,251.12 L375.90,251.10 L376.40,251.08 L376.90,251.06 L377.40,251.04 L377.90,251.01 L378.40,250.99 L378.90,250.96 L379.40,250.93 L379.90,250.89 L380.40,250.86 L380.90,250.81 L381.40,250.77 L381.90,250.72 L382.40,250.66 L382.90,250.60 L383.40,250.54 L383.90,250.46 L384.40,250.38 L384.90,250.08 L385.40,249.64 L385.90,249.25 L386.40,249.01 L386.90,248.81 L387.40,248.62 L387.90,248.46 L388.40,248.33 L388.90,248.20 L389.40,248.09 L389.90,247.98 L390.40,247.88 L390.90,247.78 L391.40,247.69 L391.90,247.61 L392.40,247.53 L392.90,247.45 L393.40,247.38 L393.90,247.31 L394.40,247.25 L394.90,247.19 L395.40,247.13 L395.90,247.07 L396.40,247.01 L396.90,246.96 L397.40,246.91 L397.90,246.86 L398.40,246.81 L398.90,246.77 L399.40,246.72 L399.90,246.68 L400.40,246.64 L400.90,246.61 L401.40,246.57 L401.90,246.54 L402.40,246.50 L402.90,246.47 L403.40,246.44 L403.90,246.40 L404.40,246.37 L404.90,246.34 L405.40,246.31 L405.90,246.29 L406.40,246.26 L406.90,246.23 L407.40,246.21 L407.90,246.18 L408.40,246.16 L408.90,246.13 L409.40,246.11 L409.90,246.09 L410.40,246.06 L410.90,246.04 L411.40,246.02 L411.90,246.00 L412.40,245.98 L412.90,245.97 L413.40,245.95 L413.90,245.93 L414.40,245.91 L414.90,245.89 L415.40,245.87 L415.90,245.85 L416.40,245.83 L416.90,245.81 L417.40,245.79 L417.90,245.78 L418.40,245.76 L418.90,245.75 L419.40,245.74 L419.90,245.73 L420.40,245.72 L420.90,245.71 L421.40,245.70 L421.90,245.70 L422.40,245.70 L422.90,245.70 L423.40,245.70 L423.90,245.70 L424.40,245.70 L424.90,245.70 L425.40,245.70 L425.90,245.70 L426.40,245.70 L426.90,245.70 L427.40,245.70 L427.90,245.70 L428.40,245.70 L428.90,245.70 L429.40,245.70 L429.90,245.70 L430.40,245.70 L430.90,245.70 L431.40,245.70 L431.90,245.70 L432.40,245.70 L432.90,245.70 L433.40,245.70 L433.90,245.70 L434.40,245.70 L434.90,245.70 L435.40,245.70 L435.90,245.70 L436.40,245.70 L436.90,245.70 L437.40,245.70 L437.90,245.70 L438.40,245.70 L438.90,245.70 L439.40,245.70 L439.90,245.70 L440.40,245.70 L440.90,245.70 L441.40,245.70 L441.90,245.70 L442.40,245.70 L442.90,245.70 L443.40,245.70 L443.90,245.70 L444.40,245.70 L444.90,245.71 L445.40,245.71 L445.90,245.71 L446.40,245.72 L446.90,245.73 L447.40,245.73 L447.90,245.74 L448.40,245.75 L448.90,245.76 L449.40,245.77 L449.90,245.79 L450.40,245.80 L450.90,245.81 L451.40,245.83 L451.90,245.84 L452.40,245.86 L452.90,245.87 L453.40,245.89 L453.90,245.90 L454.40,245.92 L454.90,245.94 L455.40,245.96 L455.90,245.98 L456.40,245.99 L456.90,246.01 L457.40,246.03 L457.90,246.05 L458.40,246.07 L458.90,246.09 L459.40,246.11 L459.90,246.13 L460.40,246.15 L460.90,246.17 L461.40,246.18 L461.90,246.20 L462.40,246.22 L462.90,246.24 L463.40,246.26 L463.90,246.28 L464.40,246.30 L464.90,246.31 L465.40,246.33 L465.90,246.35 L466.40,246.37 L466.90,246.39 L467.40,246.41 L467.90,246.43 L468.40,246.45 L468.90,246.47 L469.40,246.49 L469.90,246.51 L470.40,246.53 L470.90,246.56 L471.40,246.58 L471.90,246.60 L472.40,246.62 L472.90,246.65 L473.40,246.67 L473.90,246.69 L474.40,246.72 L474.90,246.74 L475.40,246.76 L475.90,246.79 L476.40,246.81 L476.90,246.84 L477.40,246.86 L477.90,246.89 L478.40,246.91 L478.90,246.94 L479.40,246.96 L479.90,246.99 L480.40,247.02 L480.90,247.04 L481.40,247.07 L481.90,247.10 L482.40,247.12 L482.90,247.15 L483.40,247.18 L483.90,247.20 L484.40,247.23 L484.90,247.26 L485.40,247.28 L485.90,247.31 L486.40,247.34 L486.90,247.37 L487.40,247.40 L487.90,247.43 L488.40,247.46 L488.90,247.49 L489.40,247.52 L489.90,247.55 L490.40,247.58 L490.90,247.61 L491.40,247.65 L491.90,247.68 L492.40,247.71 L492.90,247.74 L493.40,247.78 L493.90,247.81 L494.40,247.84 L494.90,247.88 L495.40,247.91 L495.90,247.94 L496.40,247.97 L496.90,248.01 L497.40,248.04 L497.90,248.07 L498.40,248.10 L498.90,248.13 L499.40,248.16 L499.90,248.19 L500.40,248.22 L500.90,248.25 L501.40,248.27 L501.90,248.29 L502.40,248.31 L502.90,248.33 L503.40,248.35 L503.90,248.37 L504.40,248.39 L504.90,248.41 L505.40,248.43 L505.90,248.45 L506.40,248.47 L506.90,248.50 L507.40,248.53 L507.90,248.56 L508.40,248.60 L508.90,248.64 L509.40,248.68 L509.90,248.73 L510.40,248.79 L510.90,248.88 L511.40,249.06 L511.90,249.31 L512.40,249.60 L512.90,249.92 L513.40,250.24 L513.90,250.54 L514.40,250.83 L514.90,251.13 L515.40,251.44 L515.90,251.75 L516.40,252.07 L516.90,252.39 L517.40,252.71 L517.90,253.02 L518.40,253.32 L518.90,253.62 L519.40,253.90 L519.90,254.19 L520.40,254.48 L520.90,254.76 L521.40,255.04 L521.90,255.32 L522.40,255.60 L522.90,255.87 L523.40,256.14 L523.90,256.41 L524.40,256.67 L524.90,256.93 L525.40,257.18 L525.90,257.43 L526.40,257.67 L526.90,257.91 L527.40,258.15 L527.90,258.37 L528.40,258.60 L528.90,258.82 L529.40,259.04 L529.90,259.26 L530.40,259.47 L530.90,259.68 L531.40,259.88 L531.90,260.09 L532.40,260.29 L532.90,260.48 L533.40,260.68 L533.90,260.87 L534.40,261.06 L534.90,261.24 L535.40,261.42 L535.90,261.60 L536.40,261.78 L536.90,261.95 L537.40,262.13 L537.90,262.30 L538.40,262.47 L538.90,262.64 L539.40,262.81 L539.90,262.97 L540.40,263.13 L540.90,263.29 L541.40,263.44 L541.90,263.59 L542.40,263.74 L542.90,263.88 L543.40,264.02 L543.90,264.15 L544.40,264.28 L544.90,264.40 L545.40,264.51 L545.90,264.63 L546.40,264.74 L546.90,264.84 L547.40,264.95 L547.90,265.05 L548.40,265.15 L548.90,265.25 L549.40,265.34 L549.90,265.44 L550.40,265.53 L550.90,265.62 L551.40,265.71 L551.90,265.80 L552.40,265.89 L552.90,265.98 L553.40,266.07 L553.90,266.16 L554.40,266.25 L554.90,266.34 L555.40,266.43 L555.90,266.52 L556.40,266.60 L556.90,266.69 L557.40,266.77 L557.90,266.86 L558.40,266.94 L558.90,267.02 L559.40,267.09 L559.90,267.17 L560.40,267.24 L560.90,267.31 L561.40,267.37 L561.90,267.44 L562.40,267.50 L562.90,267.56 L563.40,267.62 L563.90,267.68 L564.40,267.73 L564.90,267.79 L565.40,267.84 L565.90,267.89 L566.40,267.95 L566.90,268.00 L567.40,268.05 L567.90,268.09 L568.40,268.14 L568.90,268.19 L569.40,268.23 L569.90,268.27 L570.40,268.32 L570.90,268.35 L571.40,268.38 L571.90,268.40 L572.40,268.42 L572.90,268.44 L573.40,268.47 L573.90,268.50 L574.40,268.54 L574.90,268.60 L575.40,268.67 L575.90,268.84 L576.40,269.43 L576.90,271.48 L577.40,276.87 L577.90,284.37 L578.40,291.00 L578.90,297.16 L579.40,302.09 L579.90,306.00 L580.40,309.09 L580.90,311.70 L581.40,314.12 L581.90,316.39 L582.40,318.46 L582.90,320.27 L583.40,321.84 L583.90,323.30 L584.40,324.66 L584.90,325.92 L585.40,327.08 L585.90,328.15 L586.40,329.13 L586.90,330.03 L587.40,330.88 L587.90,331.67 L588.40,332.42 L588.90,333.12 L589.40,333.79 L589.90,334.42 L590.40,335.02 L590.90,335.59 L591.40,336.14 L591.90,336.67 L592.40,337.18 L592.90,337.67 L593.40,338.14 L593.90,338.58 L594.40,338.99 L594.90,339.38 L595.40,339.73 L595.90,340.06 L596.40,340.38 L596.90,340.69 L597.40,340.99 L597.90,341.27 L598.40,341.55 L598.90,341.82 L599.40,342.08 L599.90,342.33 L600.40,342.57 L600.90,342.80 L601.40,343.03 L601.90,343.25 L602.40,343.46 L602.90,343.66 L603.40,343.86 L603.90,344.05 L604.40,344.24 L604.90,344.42 L605.40,344.59 L605.90,344.76 L606.40,344.93 L606.90,345.09 L607.40,345.24 L607.90,345.39 L608.40,345.54 L608.90,345.69 L609.40,345.83 L609.90,345.96 L610.40,346.10 L610.90,346.23 L611.40,346.36 L611.90,346.48 L612.40,346.61 L612.90,346.73 L613.40,346.85 L613.90,346.97 L614.40,347.08 L614.90,347.19 L615.40,347.31 L615.90,347.41 L616.40,347.52 L616.90,347.63 L617.40,347.73 L617.90,347.83 L618.40,347.93 L618.90,348.03 L619.40,348.12 L619.90,348.22 L620.40,348.31 L620.90,348.40 L621.40,348.49 L621.90,348.58 L622.40,348.67 L622.90,348.76 L623.40,348.85 L623.90,348.93 L624.40,349.02 L624.90,349.10 L625.40,349.18 L625.90,349.26 L626.40,349.34 L626.90,349.42 L627.40,349.50 L627.90,349.58 L628.40,349.65 L628.90,349.72 L629.40,349.80 L629.90,349.87 L630.40,349.93 L630.90,350.00 L631.40,350.07 L631.90,350.14 L632.40,350.21 L632.90,350.28 L633.40,350.36 L633.90,350.43 L634.40,350.49 L634.90,350.56 L635.40,350.62 L635.90,350.67 L636.40,350.72 L636.90,350.75 L637.40,350.78 L637.90,350.80 L638.40,350.81 L638.90,350.81 L639.40,350.82 L639.90,350.83 L640.40,350.84 L640.90,350.84 L641.40,350.85 L641.90,350.85 L642.40,350.86 L642.90,350.87 L643.40,350.87 L643.90,350.87 L644.40,350.88 L644.90,350.88 L645.40,350.89 L645.90,350.89 L646.40,350.89 L646.90,350.89 L647.40,350.90 L647.90,350.90 L648.40,350.90 L648.90,350.90 L649.40,350.90 L649.90,350.90 L650.40,350.90 L650.90,350.90 L651.40,350.90 L651.90,350.90 L652.40,350.90 L652.90,350.90 L653.40,350.90 L653.90,350.90 L654.40,350.90 L654.90,350.90 L655.40,350.90 L655.90,350.90 L656.40,350.90 L656.90,350.90 L657.40,350.90 L657.90,350.90 L658.40,350.90 L658.90,350.90 L659.40,350.90 L659.90,350.90 L660.40,350.90 L660.90,350.90 L661.40,350.90 L661.90,350.90 L662.40,350.90 L662.90,350.90 L663.40,350.90 L663.90,350.90 L664.40,350.90 L664.90,350.90 L665.40,350.90 L665.90,350.90 L666.40,350.90 L666.90,350.90 L667.40,350.90 L667.90,350.90 L668.40,350.90 L668.90,350.90 L669.40,350.90 L669.90,350.90 L670.40,350.90 L670.90,350.90 L671.40,350.90 L671.90,350.90 L672.40,350.90 L672.90,350.90 L673.40,350.90 L673.90,350.90 L674.40,350.90 L674.90,350.90 L675.40,350.90 L675.90,350.90 L676.40,350.90 L676.90,350.90 L677.40,350.90 L677.90,350.90 L678.40,350.90 L678.90,350.90 L679.40,350.90 L679.90,350.90 L680.40,350.90 L680.90,350.90 L681.40,350.90 L681.90,350.90 L682.40,350.90 L682.90,350.90 L683.40,350.90 L683.90,350.90 L684.40,350.90 L684.90,350.90 L685.40,350.90 L685.90,350.90 L686.40,350.90 L686.90,350.90 L687.40,350.90 L687.90,350.90 L688.40,350.90 L688.90,350.90 L689.40,350.90 L689.90,350.90 L690.40,350.90 L690.90,350.90 L691.40,350.90 L691.90,350.90 L692.40,350.90 L692.90,350.90" stroke="#000" stroke-width="2.1"/>
</g>
<path d="M510.2,248.2 H609" stroke="#000" stroke-width="3.3" stroke-dasharray="3.0 2.25" fill="none"/>
<path d="M507.6,268.5 H609" stroke="#f00" stroke-width="3.3" stroke-dasharray="3.0 2.25" fill="none"/>
<path d="M602.9,228.2 V238" stroke="#00f" stroke-width="1.4" fill="none"/>
<path d="M597.3,237.2 H608.5 L602.9,247.3 Z" fill="#00f"/>
<path d="M602.9,288.2 V278" stroke="#00f" stroke-width="1.4" fill="none"/>
<path d="M597.3,279.2 H608.5 L602.9,268.9 Z" fill="#00f"/>
<text x="475" y="239.6" class="tk" fill="#000">total storage</text>
<text x="454.8" y="286.3" class="tk" fill="#f00">strongly bound</text>
<text x="615.2" y="253.4" class="tk" fill="#00f">weakly</text>
<text x="615.0" y="271.4" class="tk" fill="#00f">bound</text>
<path d="M83.3,201.4 H692.9 M83.3,351.6 H692.9" stroke="#262626" stroke-width="1.2" fill="none"/>
<path d="M83.3,200.8 V352.20000000000005" stroke="#262626" stroke-width="1.2" fill="none"/>
<path d="M692.9,200.9 V352.1" stroke="#262626" stroke-width="1.2" fill="none"/>
<path d="M189.32,201.4 v9.5 M189.32,351.6 v-9.5 M295.33,201.4 v9.5 M295.33,351.6 v-9.5 M401.35,201.4 v9.5 M401.35,351.6 v-9.5 M507.37,201.4 v9.5 M507.37,351.6 v-9.5 M613.39,201.4 v9.5 M613.39,351.6 v-9.5 " stroke="#262626" stroke-width="1.2" fill="none"/>
<path d="M83.3,291.60 h9.5 M83.3,231.60 h9.5 " stroke="#262626" stroke-width="1.2" fill="none"/>
<path d="M692.9,291.60 h-10.0 M692.9,231.60 h-10.0 " stroke="#262626" stroke-width="1.2" fill="none"/>
<text x="77.5" y="238.05" text-anchor="end" fill="#000000" class="tk">40</text>
<text x="77.5" y="298.05" text-anchor="end" fill="#000000" class="tk">20</text>
<text x="77.5" y="358.05" text-anchor="end" fill="#000000" class="tk">0</text>
<text x="88.9" y="218.9" class="tk" fill="#000">(b)</text>
<g transform="translate(32.9,326.0) rotate(-90)"><text class="lb" fill="#000"><tspan font-style="italic">x</tspan><tspan dy="8.8" font-size="15.5">Ba,NO</tspan><tspan dy="5" font-size="12">x</tspan><tspan dy="-13.8" dx="7.6">/</tspan><tspan dx="5.4">%</tspan></text></g>
<g clip-path="url(#cc)" fill="none" stroke-linejoin="round">
<path d="M83.30,468.40 L83.80,468.70 L84.30,469.27 L84.80,470.08 L85.30,471.03 L85.80,471.98 L86.30,472.79 L86.80,473.30 L87.30,473.91 L87.80,475.15 L88.31,485.25 L88.81,504.37 L89.31,521.80 L89.81,534.45 L90.31,529.11 L90.81,520.18 L91.31,513.29 L91.81,506.25 L92.31,498.94 L92.81,490.96 L93.31,483.00 L93.81,476.85 L94.31,473.39 L94.81,470.95 L95.31,469.12 L95.81,468.00 L96.31,467.26 L96.81,466.83 L97.31,466.53 L97.81,466.28 L98.32,466.10 L98.82,466.01 L99.32,466.00 L99.82,466.02 L100.32,465.82 L100.82,466.25 L101.32,466.22 L101.82,466.70 L102.32,466.71 L102.82,466.53 L103.32,466.68 L103.82,466.36 L104.32,466.82 L104.82,467.22 L105.32,467.55 L105.82,467.57 L106.32,467.90 L106.82,468.10 L107.32,468.67 L107.82,468.70 L108.33,468.69 L108.83,468.84 L109.33,469.08 L109.83,468.97 L110.33,469.14 L110.83,468.88 L111.33,469.42 L111.83,469.52 L112.33,469.42 L112.83,469.47 L113.33,469.47 L113.83,469.85 L114.33,469.49 L114.83,469.20 L115.33,469.30 L115.83,469.72 L116.33,469.84 L116.83,469.84 L117.33,469.91 L117.84,469.84 L118.34,469.55 L118.84,469.78 L119.34,469.62 L119.84,469.98 L120.34,469.84 L120.84,470.21 L121.34,470.21 L121.84,469.89 L122.34,470.50 L122.84,470.55 L123.34,470.13 L123.84,470.49 L124.34,470.64 L124.84,470.46 L125.34,470.74 L125.84,470.63 L126.34,470.85 L126.84,470.69 L127.34,470.64 L127.85,470.81 L128.35,470.89 L128.85,470.80 L129.35,470.67 L129.85,470.61 L130.35,470.71 L130.85,470.67 L131.35,470.84 L131.85,470.83 L132.35,470.75 L132.85,470.74 L133.35,470.73 L133.85,470.97 L134.35,470.82 L134.85,470.38 L135.35,470.51 L135.85,470.27 L136.35,470.23 L136.85,470.11 L137.35,469.94 L137.86,469.70 L138.36,469.38 L138.86,469.86 L139.36,469.99 L139.86,469.47 L140.36,469.68 L140.86,469.40 L141.36,469.45 L141.86,469.13 L142.36,469.16 L142.86,469.09 L143.36,468.51 L143.86,468.96 L144.36,468.79 L144.86,468.19 L145.36,468.76 L145.86,468.51 L146.36,468.47 L146.86,468.41 L147.37,468.15 L147.87,467.92 L148.37,467.96 L148.87,467.88 L149.37,468.35 L149.87,468.18 L150.37,467.60 L150.87,467.52 L151.37,467.59 L151.87,467.55 L152.37,467.20 L152.87,467.05 L153.37,467.58 L153.87,467.31 L154.37,466.67 L154.87,466.54 L155.37,466.65 L155.87,466.79 L156.37,466.78 L156.87,466.51 L157.38,466.15 L157.88,466.46 L158.38,466.46 L158.88,466.25 L159.38,466.07 L159.88,466.22 L160.38,466.00 L160.88,465.70 L161.38,465.88 L161.88,465.51 L162.38,465.91 L162.88,465.73 L163.38,465.34 L163.88,465.53 L164.38,465.67 L164.88,464.87 L165.38,465.23 L165.88,465.54 L166.38,464.78 L166.89,465.00 L167.39,464.66 L167.89,464.87 L168.39,464.30 L168.89,464.39 L169.39,464.55 L169.89,464.62 L170.39,464.60 L170.89,464.53 L171.39,464.62 L171.89,464.45 L172.39,464.38 L172.89,463.94 L173.39,464.04 L173.89,464.68 L174.39,464.41 L174.89,464.03 L175.39,463.94 L175.89,463.92 L176.39,463.54 L176.90,463.98 L177.40,463.40 L177.90,463.39 L178.40,463.81 L178.90,462.82 L179.40,463.27 L179.90,462.75 L180.40,462.91 L180.90,462.96 L181.40,462.83 L181.90,462.87 L182.40,462.60 L182.90,462.67 L183.40,462.37 L183.90,462.47 L184.40,462.19 L184.90,462.56 L185.40,462.07 L185.90,462.43 L186.40,462.13 L186.91,462.08 L187.41,462.34 L187.91,462.04 L188.41,461.54 L188.91,462.00 L189.41,461.19 L189.91,461.82 L190.41,461.60 L190.91,461.32 L191.41,461.58 L191.91,461.43 L192.41,461.87 L192.91,461.27 L193.41,461.72 L193.91,461.53 L194.41,461.04 L194.91,460.93 L195.41,461.33 L195.91,460.94 L196.42,460.94 L196.92,460.79 L197.42,460.52 L197.92,460.64 L198.42,460.44 L198.92,460.26 L199.42,460.46 L199.92,460.85 L200.42,460.75 L200.92,460.33 L201.42,460.31 L201.92,460.33 L202.42,460.45 L202.92,460.16 L203.42,459.93 L203.92,459.89 L204.42,460.16 L204.92,460.43 L205.42,459.66 L205.92,459.29 L206.43,459.86 L206.93,459.61 L207.43,459.60 L207.93,459.79 L208.43,459.47 L208.93,459.12 L209.43,458.92 L209.93,459.29 L210.43,458.99 L210.93,459.26 L211.43,458.86 L211.93,459.02 L212.43,458.72 L212.93,458.92 L213.43,458.85 L213.93,459.03 L214.43,459.15 L214.93,458.77 L215.43,458.57 L215.93,459.15 L216.44,458.76 L216.94,458.77 L217.44,458.73 L217.94,458.87 L218.44,458.73 L218.94,458.62 L219.44,458.60 L219.94,458.21 L220.44,458.22 L220.94,458.29 L221.44,458.30 L221.94,458.25 L222.44,458.28 L222.94,458.18 L223.44,458.04 L223.94,457.75 L224.44,458.25 L224.94,458.16 L225.44,457.81 L225.95,458.07 L226.45,458.02 L226.95,457.91 L227.45,457.46 L227.95,457.57 L228.45,457.66 L228.95,458.12 L229.45,457.54 L229.95,457.62 L230.45,457.42 L230.95,457.52 L231.45,457.67 L231.95,457.11 L232.45,456.91 L232.95,457.64 L233.45,457.47 L233.95,457.30 L234.45,457.61 L234.95,457.57 L235.45,456.87 L235.96,457.25 L236.46,457.50 L236.96,457.07 L237.46,457.12 L237.96,457.36 L238.46,457.05 L238.96,456.81 L239.46,456.88 L239.96,456.71 L240.46,457.08 L240.96,456.54 L241.46,457.10 L241.96,456.48 L242.46,456.82 L242.96,456.45 L243.46,456.67 L243.96,456.93 L244.46,456.91 L244.96,456.92 L245.46,456.57 L245.97,456.58 L246.47,456.57 L246.97,456.62 L247.47,456.36 L247.97,456.65 L248.47,456.44 L248.97,456.58 L249.47,456.40 L249.97,456.40 L250.47,456.05 L250.97,456.08 L251.47,455.85 L251.97,456.02 L252.47,456.01 L252.97,456.18 L253.47,455.68 L253.97,456.62 L254.47,455.83 L254.97,456.09 L255.48,455.99 L255.98,455.15 L256.48,455.59 L256.98,455.92 L257.48,455.00 L257.98,455.64 L258.48,455.21 L258.98,455.23 L259.48,455.31 L259.98,454.77 L260.48,455.14 L260.98,454.87 L261.48,454.76 L261.98,455.00 L262.48,455.52 L262.98,454.73 L263.48,454.69 L263.98,454.46 L264.48,454.22 L264.98,454.34 L265.49,454.52 L265.99,454.13 L266.49,454.20 L266.99,453.86 L267.49,454.37 L267.99,453.36 L268.49,453.77 L268.99,453.68 L269.49,453.53 L269.99,453.15 L270.49,453.07 L270.99,453.19 L271.49,453.18 L271.99,452.82 L272.49,452.77 L272.99,453.05 L273.49,453.08 L273.99,452.65 L274.49,452.54 L275.00,452.46 L275.50,453.09 L276.00,452.57 L276.50,452.37 L277.00,452.53 L277.50,452.74 L278.00,452.42 L278.50,451.77 L279.00,451.99 L279.50,451.85 L280.00,451.79 L280.50,451.53 L281.00,451.63 L281.50,451.41 L282.00,451.65 L282.50,451.52 L283.00,451.13 L283.50,451.00 L284.00,451.20 L284.50,451.38 L285.01,451.28 L285.51,451.10 L286.01,450.32 L286.51,450.88 L287.01,450.76 L287.51,450.79 L288.01,450.54 L288.51,450.66 L289.01,450.55 L289.51,451.24 L290.01,450.75 L290.51,450.50 L291.01,450.48 L291.51,450.41 L292.01,450.43 L292.51,450.25 L293.01,450.28 L293.51,450.47 L294.01,450.38 L294.51,450.21 L295.02,450.39 L295.52,450.10 L296.02,449.79 L296.52,449.58 L297.02,449.76 L297.52,449.86 L298.02,449.92 L298.52,450.02 L299.02,449.62 L299.52,449.52 L300.02,449.83 L300.52,449.88 L301.02,449.47 L301.52,449.61 L302.02,449.80 L302.52,449.53 L303.02,449.41 L303.52,448.92 L304.02,449.63 L304.53,449.45 L305.03,449.29 L305.53,449.13 L306.03,448.92 L306.53,449.14 L307.03,449.10 L307.53,449.33 L308.03,448.78 L308.53,449.34 L309.03,448.99 L309.53,449.21 L310.03,448.70 L310.53,448.96 L311.03,449.12 L311.53,448.85 L312.03,448.46 L312.53,448.69 L313.03,448.85 L313.53,448.39 L314.03,448.35 L314.54,448.69 L315.04,448.40 L315.54,448.73 L316.04,448.29 L316.54,448.11 L317.04,448.32 L317.54,448.79 L318.04,448.24 L318.54,448.40 L319.04,448.43 L319.54,448.14 L320.04,448.56 L320.54,448.33 L321.04,448.37 L321.54,447.87 L322.04,447.83 L322.54,447.58 L323.04,448.12 L323.54,448.09 L324.04,448.27 L324.55,448.41 L325.05,448.00 L325.55,447.98 L326.05,448.11 L326.55,448.32 L327.05,447.78 L327.55,448.08 L328.05,447.86 L328.55,447.82 L329.05,448.05 L329.55,447.67 L330.05,447.58 L330.55,447.94 L331.05,447.77 L331.55,447.69 L332.05,447.70 L332.55,447.82 L333.05,447.60 L333.55,447.83 L334.06,447.73 L334.56,447.94 L335.06,447.88 L335.56,447.76 L336.06,447.51 L336.56,447.56 L337.06,447.38 L337.56,448.12 L338.06,447.42 L338.56,447.57 L339.06,447.73 L339.56,447.11 L340.06,447.21 L340.56,447.28 L341.06,447.13 L341.56,447.05 L342.06,447.20 L342.56,447.58 L343.06,447.44 L343.56,447.27 L344.07,447.25 L344.57,446.86 L345.07,447.36 L345.57,447.28 L346.07,446.93 L346.57,447.20 L347.07,447.10 L347.57,447.01 L348.07,446.89 L348.57,446.94 L349.07,446.87 L349.57,447.16 L350.07,447.13 L350.57,447.10 L351.07,446.98 L351.57,446.91 L352.07,447.44 L352.57,446.56 L353.07,447.22 L353.57,447.02 L354.08,446.94 L354.58,446.80 L355.08,446.85 L355.58,446.62 L356.08,446.56 L356.58,446.83 L357.08,446.48 L357.58,447.01 L358.08,447.05 L358.58,446.04 L359.08,446.44 L359.58,446.82 L360.08,446.79 L360.58,446.76 L361.08,446.81 L361.58,446.87 L362.08,446.88 L362.58,447.06 L363.08,446.66 L363.59,446.83 L364.09,446.26 L364.59,446.57 L365.09,446.32 L365.59,446.87 L366.09,447.06 L366.59,446.65 L367.09,446.22 L367.59,446.47 L368.09,446.48 L368.59,446.50 L369.09,446.67 L369.59,446.62 L370.09,445.81 L370.59,446.67 L371.09,446.24 L371.59,446.20 L372.09,446.61 L372.59,446.22 L373.09,445.96 L373.60,445.94 L374.10,446.22 L374.60,446.38 L375.10,446.49 L375.60,446.10 L376.10,446.01 L376.60,446.44 L377.10,445.96 L377.60,446.35 L378.10,446.06 L378.60,446.03 L379.10,445.90 L379.60,445.99 L380.10,445.79 L380.60,445.71 L381.10,445.80 L381.60,445.66 L382.10,445.84 L382.60,445.76 L383.10,445.66 L383.61,445.64 L384.11,445.60 L384.61,446.00 L385.11,445.59 L385.61,445.42 L386.11,445.46 L386.61,445.63 L387.11,445.40 L387.61,445.38 L388.11,445.32 L388.61,445.37 L389.11,445.38 L389.61,445.35 L390.11,444.85 L390.61,444.93 L391.11,444.55 L391.61,445.26 L392.11,445.28 L392.61,445.28 L393.12,444.98 L393.62,445.16 L394.12,444.86 L394.62,444.79 L395.12,444.44 L395.62,444.56 L396.12,444.56 L396.62,444.85 L397.12,444.98 L397.62,444.47 L398.12,444.61 L398.62,444.56 L399.12,444.29 L399.62,444.04 L400.12,444.22 L400.62,444.03 L401.12,444.25 L401.62,444.25 L402.12,444.20 L402.62,444.16 L403.13,444.27 L403.63,443.92 L404.13,444.28 L404.63,443.68 L405.13,444.02 L405.63,444.05 L406.13,443.75 L406.63,443.53 L407.13,443.98 L407.63,443.65 L408.13,443.93 L408.63,443.89 L409.13,443.68 L409.63,443.65 L410.13,443.83 L410.63,443.66 L411.13,443.34 L411.63,443.54 L412.13,443.60 L412.64,443.49 L413.14,443.46 L413.64,443.35 L414.14,443.33 L414.64,443.13 L415.14,443.00 L415.64,443.54 L416.14,443.13 L416.64,443.30 L417.14,442.91 L417.64,443.26 L418.14,443.03 L418.64,443.85 L419.14,442.97 L419.64,442.98 L420.14,443.40 L420.64,443.44 L421.14,442.73 L421.64,443.25 L422.14,443.39 L422.65,442.93 L423.15,443.34 L423.65,443.08 L424.15,442.98 L424.65,443.12 L425.15,443.09 L425.65,442.89 L426.15,443.68 L426.65,443.09 L427.15,443.03 L427.65,443.38 L428.15,443.18 L428.65,443.49 L429.15,443.14 L429.65,443.27 L430.15,443.21 L430.65,443.23 L431.15,443.15 L431.65,443.17 L432.15,443.56 L432.66,443.04 L433.16,443.07 L433.66,443.12 L434.16,443.32 L434.66,443.28 L435.16,443.40 L435.66,442.90 L436.16,443.25 L436.66,443.16 L437.16,443.13 L437.66,443.23 L438.16,442.76 L438.66,443.25 L439.16,443.23 L439.66,442.88 L440.16,443.17 L440.66,443.53 L441.16,443.11 L441.66,443.33 L442.17,443.16 L442.67,443.04 L443.17,443.02 L443.67,443.14 L444.17,443.52 L444.67,443.43 L445.17,443.11 L445.67,443.49 L446.17,443.26 L446.67,443.16 L447.17,443.42 L447.67,443.14 L448.17,443.02 L448.67,443.66 L449.17,443.00 L449.67,443.54 L450.17,443.11 L450.67,443.46 L451.17,443.45 L451.67,443.42 L452.18,443.06 L452.68,443.54 L453.18,443.58 L453.68,443.42 L454.18,443.63 L454.68,443.89 L455.18,443.54 L455.68,443.78 L456.18,443.51 L456.68,443.87 L457.18,443.95 L457.68,444.38 L458.18,444.07 L458.68,444.00 L459.18,444.24 L459.68,443.75 L460.18,444.23 L460.68,443.91 L461.18,443.93 L461.68,444.33 L462.19,444.18 L462.69,444.44 L463.19,443.87 L463.69,444.28 L464.19,444.14 L464.69,444.22 L465.19,443.90 L465.69,444.55 L466.19,444.42 L466.69,444.19 L467.19,444.14 L467.69,444.28 L468.19,444.80 L468.69,444.50 L469.19,444.48 L469.69,444.69 L470.19,444.61 L470.69,444.68 L471.19,444.82 L471.70,444.76 L472.20,444.91 L472.70,444.49 L473.20,444.79 L473.70,444.73 L474.20,444.86 L474.70,444.85 L475.20,444.76 L475.70,444.85 L476.20,445.16 L476.70,444.86 L477.20,444.74 L477.70,445.17 L478.20,445.28 L478.70,445.05 L479.20,445.16 L479.70,444.99 L480.20,445.15 L480.70,445.47 L481.20,445.43 L481.71,445.33 L482.21,445.27 L482.71,445.01 L483.21,445.46 L483.71,445.52 L484.21,445.68 L484.71,445.92 L485.21,445.60 L485.71,445.76 L486.21,445.35 L486.71,445.88 L487.21,445.85 L487.71,445.99 L488.21,445.87 L488.71,445.86 L489.21,446.12 L489.71,445.69 L490.21,446.01 L490.71,446.14 L491.21,445.77 L491.72,445.73 L492.22,446.11 L492.72,446.08 L493.22,446.22 L493.72,446.26 L494.22,445.99 L494.72,446.27 L495.22,446.48 L495.72,446.20 L496.22,446.25 L496.72,446.11 L497.22,446.56 L497.72,446.84 L498.22,446.17 L498.72,446.67 L499.22,446.74 L499.72,446.46 L500.22,446.54 L500.72,446.44 L501.23,446.53 L501.73,446.78 L502.23,446.92 L502.73,446.85 L503.23,447.05 L503.73,446.95 L504.23,446.70 L504.73,447.30 L505.23,447.29 L505.73,446.93 L506.23,447.51 L506.73,447.27 L507.23,447.25 L507.73,447.68 L508.23,446.78 L508.73,447.02 L509.23,447.57 L509.73,447.42 L510.23,447.32 L510.73,447.90 L511.24,447.74 L511.74,447.41 L512.24,447.61 L512.74,447.99 L513.24,448.26 L513.74,447.51 L514.24,448.06 L514.74,447.99 L515.24,447.77 L515.74,448.18 L516.24,447.95 L516.74,448.25 L517.24,448.79 L517.74,448.63 L518.24,448.76 L518.74,448.80 L519.24,448.83 L519.74,449.04 L520.24,448.66 L520.75,448.92 L521.25,449.26 L521.75,449.00 L522.25,449.14 L522.75,449.58 L523.25,449.73 L523.75,449.35 L524.25,449.38 L524.75,449.76 L525.25,449.77 L525.75,449.65 L526.25,450.00 L526.75,450.06 L527.25,450.04 L527.75,450.73 L528.25,450.46 L528.75,450.41 L529.25,450.53 L529.75,451.01 L530.25,450.68 L530.76,450.35 L531.26,450.64 L531.76,450.66 L532.26,450.59 L532.76,450.83 L533.26,450.89 L533.76,450.90 L534.26,450.87 L534.76,451.22 L535.26,450.76 L535.76,451.35 L536.26,451.24 L536.76,451.36 L537.26,450.85 L537.76,451.79 L538.26,451.12 L538.76,451.37 L539.26,451.76 L539.76,451.55 L540.26,451.66 L540.77,451.33 L541.27,451.77 L541.77,451.97 L542.27,452.13 L542.77,451.99 L543.27,452.15 L543.77,452.26 L544.27,452.08 L544.77,452.11 L545.27,452.75 L545.77,452.20 L546.27,452.71 L546.77,452.51 L547.27,452.86 L547.77,452.46 L548.27,452.76 L548.77,452.77 L549.27,452.69 L549.77,452.86 L550.28,452.67 L550.78,452.86 L551.28,452.84 L551.78,453.13 L552.28,453.00 L552.78,452.76 L553.28,453.02 L553.78,453.13 L554.28,453.00 L554.78,453.52 L555.28,453.36 L555.78,453.50 L556.28,453.20 L556.78,453.32 L557.28,453.66 L557.78,453.18 L558.28,453.61 L558.78,453.59 L559.28,453.50 L559.78,453.67 L560.29,453.46 L560.79,453.78 L561.29,453.50 L561.79,453.53 L562.29,454.14 L562.79,453.73 L563.29,453.46 L563.79,454.16 L564.29,453.82 L564.79,453.26 L565.29,454.04 L565.79,454.29 L566.29,454.20 L566.79,454.53 L567.29,454.16 L567.79,454.35 L568.29,454.04 L568.79,454.32 L569.29,454.65 L569.79,454.45 L570.30,454.41 L570.80,453.98 L571.30,454.35 L571.80,454.18 L572.30,454.65 L572.80,454.35 L573.30,454.62 L573.80,454.35 L574.30,454.99 L574.80,454.36" stroke="#000" stroke-width="2.0"/>
<path d="M574.70,454.60 L575.00,465.12 L575.30,484.03 L575.60,511.55 L575.90,540.28 L576.20,560.00 L576.50,560.00 L576.81,560.00 L577.11,560.00 L577.41,560.00 L577.71,560.00 L578.01,558.54 L578.31,544.58 L578.61,529.67 L578.91,519.92 L579.21,511.31 L579.51,504.41 L579.81,499.39 L580.11,495.29 L580.41,491.84 L580.72,488.81 L581.02,486.02 L581.32,483.49 L581.62,481.18 L581.92,479.06 L582.22,477.10 L582.52,475.25 L582.82,473.41 L583.12,471.63 L583.42,469.92 L583.72,468.32 L584.02,466.84 L584.32,465.51 L584.63,464.37 L584.93,463.43 L585.23,462.61 L585.53,461.83 L585.83,461.09 L586.13,460.40 L586.43,459.76 L586.73,459.16 L587.03,458.60 L587.33,458.08 L587.63,457.61 L587.93,457.19 L588.23,456.80 L588.54,456.46 L588.84,456.17 L589.14,455.89 L589.44,455.63 L589.74,455.38 L590.04,455.13 L590.34,454.90 L590.64,454.68 L590.94,454.47 L591.24,454.27 L591.54,454.09 L591.84,453.91 L592.14,453.75 L592.45,453.61 L592.75,453.48 L593.05,453.36 L593.35,453.26 L593.65,453.18 L593.95,453.11 L594.25,453.05 L594.55,453.00 L594.85,452.94 L595.15,452.89 L595.45,452.84 L595.75,452.80 L596.05,452.75 L596.35,452.71 L596.66,452.67 L596.96,452.64 L597.26,452.61 L597.56,452.58 L597.86,452.55 L598.16,452.53 L598.46,452.52 L598.76,452.51 L599.06,452.50 L599.36,452.50 L599.66,452.51 L599.96,452.52 L600.26,452.54 L600.57,452.57 L600.87,452.61 L601.17,452.65 L601.47,452.69 L601.77,452.75 L602.07,452.80 L602.37,452.86 L602.67,452.92 L602.97,452.98 L603.27,453.04 L603.57,453.11 L603.87,453.17 L604.17,453.23 L604.48,453.30 L604.78,453.36 L605.08,453.41 L605.38,453.47 L605.68,453.54 L605.98,453.60 L606.28,453.66 L606.58,453.73 L606.88,453.80 L607.18,453.87 L607.48,453.95 L607.78,454.02 L608.08,454.10 L608.39,454.17 L608.69,454.25 L608.99,454.33 L609.29,454.40 L609.59,454.48 L609.89,454.56 L610.19,454.64 L610.49,454.72 L610.79,454.80 L611.09,454.87 L611.39,454.95 L611.69,455.03 L611.99,455.10 L612.30,455.17 L612.60,455.25 L612.90,455.32 L613.20,455.39 L613.50,455.47 L613.80,455.54 L614.10,455.61 L614.40,455.69 L614.70,455.76 L615.00,455.84 L615.30,455.91 L615.60,455.98 L615.90,456.06 L616.21,456.13 L616.51,456.21 L616.81,456.28 L617.11,456.36 L617.41,456.43 L617.71,456.51 L618.01,456.58 L618.31,456.65 L618.61,456.73 L618.91,456.80 L619.21,456.87 L619.51,456.95 L619.81,457.02 L620.12,457.09 L620.42,457.17 L620.72,457.24 L621.02,457.31 L621.32,457.38 L621.62,457.45 L621.92,457.52 L622.22,457.59 L622.52,457.66 L622.82,457.73 L623.12,457.80 L623.42,457.87 L623.72,457.94 L624.03,458.00 L624.33,458.07 L624.63,458.13 L624.93,458.20 L625.23,458.26 L625.53,458.33 L625.83,458.39 L626.13,458.46 L626.43,458.53 L626.73,458.60 L627.03,458.67 L627.33,458.75 L627.63,458.82 L627.94,458.89 L628.24,458.97 L628.54,459.05 L628.84,459.12 L629.14,459.20 L629.44,459.28 L629.74,459.35 L630.04,459.43 L630.34,459.50 L630.64,459.58 L630.94,459.65 L631.24,459.73 L631.54,459.80 L631.85,459.87 L632.15,459.94 L632.45,460.00 L632.75,460.07 L633.05,460.13 L633.35,460.19 L633.65,460.25 L633.95,460.30 L634.25,460.35 L634.55,460.40 L634.85,460.45 L635.15,460.49 L635.45,460.53 L635.75,460.57 L636.06,460.60 L636.36,460.63 L636.66,460.65 L636.96,460.67 L637.26,460.68 L637.56,460.69 L637.86,460.70 L638.16,460.23 L638.46,457.46 L638.76,448.63 L639.06,432.26 L639.36,416.74 L639.66,400.80 L639.97,383.98 L640.27,363.50 L640.57,360.00 L640.87,360.97 L641.17,379.32 L641.47,398.14 L641.77,415.39 L642.07,423.82 L642.37,428.95 L642.67,432.78 L642.97,436.16 L643.27,439.93 L643.57,444.26 L643.88,448.57 L644.18,452.90 L644.48,457.28 L644.78,461.79 L645.08,466.66 L645.38,471.69 L645.68,476.48 L645.98,480.66 L646.28,484.24 L646.58,487.54 L646.88,490.55 L647.18,493.25 L647.48,495.65 L647.79,497.85 L648.09,499.91 L648.39,501.82 L648.69,503.58 L648.99,505.21 L649.29,506.69 L649.59,508.06 L649.89,509.39 L650.19,510.68 L650.49,511.90 L650.79,513.04 L651.09,514.08 L651.39,514.99 L651.70,515.77 L652.00,516.39 L652.30,516.91 L652.60,517.40 L652.90,517.85 L653.20,518.27 L653.50,518.65 L653.80,519.01 L654.10,519.33 L654.40,519.62 L654.70,519.88 L655.00,520.10 L655.30,520.29 L655.61,520.45 L655.91,520.60 L656.21,520.75 L656.51,520.89 L656.81,521.03 L657.11,521.16 L657.41,521.29 L657.71,521.40 L658.01,521.51 L658.31,521.61 L658.61,521.70 L658.91,521.78 L659.21,521.85 L659.52,521.91 L659.82,521.95 L660.12,521.98 L660.42,522.00 L660.72,522.00 L661.02,522.00 L661.32,522.00 L661.62,522.00 L661.92,522.00 L662.22,522.00 L662.52,521.99 L662.82,521.99 L663.12,521.99 L663.43,521.99 L663.73,521.98 L664.03,521.98 L664.33,521.98 L664.63,521.97 L664.93,521.97 L665.23,521.97 L665.53,521.96 L665.83,521.96 L666.13,521.95 L666.43,521.95 L666.73,521.95 L667.03,521.94 L667.34,521.94 L667.64,521.93 L667.94,521.93 L668.24,521.92 L668.54,521.92 L668.84,521.92 L669.14,521.91 L669.44,521.91 L669.74,521.90 L670.04,521.90 L670.34,521.90 L670.64,521.89 L670.94,521.89 L671.25,521.88 L671.55,521.88 L671.85,521.88 L672.15,521.87 L672.45,521.87 L672.75,521.86 L673.05,521.86 L673.35,521.85 L673.65,521.85 L673.95,521.85 L674.25,521.84 L674.55,521.84 L674.85,521.83 L675.15,521.83 L675.46,521.82 L675.76,521.82 L676.06,521.82 L676.36,521.81 L676.66,521.81 L676.96,521.80 L677.26,521.80 L677.56,521.79 L677.86,521.79 L678.16,521.78 L678.46,521.78 L678.76,521.77 L679.06,521.77 L679.37,521.76 L679.67,521.76 L679.97,521.75 L680.27,521.75 L680.57,521.74 L680.87,521.74 L681.17,521.73 L681.47,521.73 L681.77,521.72 L682.07,521.72 L682.37,521.71 L682.67,521.71 L682.97,521.70 L683.28,521.69 L683.58,521.69 L683.88,521.68 L684.18,521.68 L684.48,521.67 L684.78,521.67 L685.08,521.66 L685.38,521.66 L685.68,521.65 L685.98,521.64 L686.28,521.64 L686.58,521.63 L686.88,521.63 L687.19,521.62 L687.49,521.61 L687.79,521.61 L688.09,521.60 L688.39,521.60 L688.69,521.59 L688.99,521.58 L689.29,521.58 L689.59,521.57 L689.89,521.57 L690.19,521.56 L690.49,521.55 L690.79,521.55 L691.10,521.54 L691.40,521.53 L691.70,521.53 L692.00,521.52 L692.30,521.51 L692.60,521.51 L692.90,521.50" stroke="#000" stroke-width="2.0"/>
<path d="M83.30,520.41 L83.70,519.96 L84.10,520.59 L84.50,520.77 L84.90,520.75 L85.30,519.62 L85.70,520.59 L86.10,519.69 L86.50,521.45 L86.90,520.81 L87.30,520.72 L87.70,521.40 L88.10,522.49 L88.50,523.22 L88.90,526.21 L89.30,527.82 L89.70,529.14 L90.10,530.85 L90.50,530.62 L90.90,530.13 L91.30,529.49 L91.70,528.52 L92.10,528.88 L92.50,528.87 L92.90,528.06 L93.30,528.02 L93.70,526.65 L94.10,527.03 L94.50,526.64 L94.90,525.32 L95.30,524.98 L95.70,525.09 L96.10,525.17 L96.50,525.07 L96.90,524.56 L97.30,524.40 L97.70,524.18 L98.10,524.08 L98.50,524.13 L98.90,523.96 L99.30,523.62 L99.70,523.64 L100.10,523.25 L100.50,523.67 L100.90,523.05 L101.30,523.86 L101.70,523.09 L102.10,523.14 L102.50,522.65 L102.90,522.76 L103.30,522.92 L103.70,522.80 L104.10,522.49 L104.50,522.22 L104.90,522.67 L105.30,522.68 L105.70,522.81 L106.10,523.06 L106.50,522.38 L106.90,521.65 L107.30,522.39 L107.70,521.65 L108.10,521.85 L108.50,522.79 L108.90,522.57 L109.30,522.04 L109.70,522.01 L110.10,522.21 L110.50,521.48 L110.90,522.38 L111.30,522.01 L111.70,522.89 L112.10,521.64 L112.50,522.47 L112.90,521.74 L113.30,522.42 L113.70,521.55 L114.10,522.23 L114.50,521.71 L114.90,521.52 L115.30,521.77 L115.70,522.01 L116.10,521.95 L116.50,522.41 L116.90,522.07 L117.30,520.60 L117.70,521.51 L118.10,520.82 L118.50,521.47 L118.90,521.86 L119.30,521.01 L119.70,521.05 L120.10,521.58 L120.50,521.38 L120.90,522.14 L121.30,521.60 L121.70,521.67 L122.10,522.17 L122.50,521.22 L122.90,521.42 L123.30,521.01 L123.70,521.54 L124.10,521.89 L124.50,522.05 L124.90,521.49 L125.30,521.24 L125.70,521.25 L126.10,521.03 L126.50,521.70 L126.90,522.26 L127.30,520.74 L127.70,520.87 L128.10,522.41 L128.50,521.19 L128.90,522.04 L129.30,521.40 L129.70,522.29 L130.10,522.31 L130.50,522.08 L130.90,522.37 L131.30,522.05 L131.70,522.26 L132.10,522.77 L132.50,522.43 L132.90,521.64 L133.30,521.52 L133.70,521.69 L134.10,521.61 L134.50,521.65 L134.90,521.28 L135.30,521.71 L135.70,521.35 L136.10,521.39 L136.50,521.15 L136.90,521.31 L137.30,520.46 L137.70,521.52 L138.10,520.90 L138.50,520.83 L138.90,520.79 L139.30,520.87 L139.70,520.60 L140.10,520.26 L140.50,519.95 L140.90,519.20 L141.30,519.84 L141.70,519.48 L142.10,519.34 L142.50,520.33 L142.90,518.40 L143.30,519.05 L143.70,519.39 L144.10,519.13 L144.50,519.10 L144.90,517.89 L145.30,517.87 L145.70,518.38 L146.10,517.85 L146.50,518.55 L146.90,517.78 L147.30,517.62 L147.70,517.58 L148.10,517.14 L148.50,517.16 L148.90,516.69 L149.30,516.81 L149.70,516.48 L150.10,516.64 L150.50,515.79 L150.90,515.61 L151.30,516.28 L151.70,516.04 L152.10,515.39 L152.50,515.55 L152.90,515.06 L153.30,516.21 L153.70,514.54 L154.10,515.77 L154.50,514.56 L154.90,514.93 L155.30,514.50 L155.70,514.30 L156.10,514.71 L156.50,514.51 L156.90,513.91 L157.30,513.50 L157.70,514.61 L158.10,514.19 L158.50,513.52 L158.90,513.19 L159.30,513.30 L159.70,513.07 L160.10,513.40 L160.50,512.35 L160.90,512.62 L161.30,512.15 L161.70,512.88 L162.10,512.95 L162.50,512.02 L162.90,512.14 L163.30,512.37 L163.70,511.51 L164.10,511.11 L164.50,511.80 L164.90,511.44 L165.30,511.01 L165.70,511.58 L166.10,510.93 L166.50,509.95 L166.90,510.71 L167.30,510.41 L167.70,511.10 L168.10,510.17 L168.50,509.97 L168.90,510.11 L169.30,509.91 L169.70,509.09 L170.10,509.61 L170.50,509.31 L170.90,509.91 L171.30,510.21 L171.70,508.62 L172.10,508.56 L172.50,508.50 L172.90,508.46 L173.30,508.33 L173.70,508.52 L174.10,508.84 L174.50,507.72 L174.90,507.51 L175.30,507.27 L175.70,508.39 L176.10,508.37 L176.50,507.06 L176.90,506.91 L177.30,507.54 L177.70,507.83 L178.10,507.69 L178.50,507.23 L178.90,507.33 L179.30,507.07 L179.70,506.59 L180.10,507.52 L180.50,506.61 L180.90,506.04 L181.30,506.20 L181.70,505.64 L182.10,506.19 L182.50,506.54 L182.90,505.44 L183.30,506.34 L183.70,506.64 L184.10,505.82 L184.50,505.07 L184.90,505.10 L185.30,505.21 L185.70,504.71 L186.10,504.62 L186.50,504.94 L186.90,504.87 L187.30,505.10 L187.70,504.24 L188.10,505.43 L188.50,504.99 L188.90,504.81 L189.30,504.06 L189.70,504.97 L190.10,503.99 L190.50,504.80 L190.90,504.39 L191.30,503.46 L191.70,503.54 L192.10,504.42 L192.50,503.95 L192.90,503.37 L193.30,503.42 L193.70,503.32 L194.10,502.81 L194.50,502.95 L194.90,502.66 L195.30,502.66 L195.70,502.93 L196.10,502.24 L196.50,502.84 L196.90,502.49 L197.30,502.66 L197.70,502.62 L198.10,502.67 L198.50,502.31 L198.90,502.25 L199.30,501.78 L199.70,502.00 L200.10,501.29 L200.50,501.47 L200.90,501.79 L201.30,501.36 L201.70,501.47 L202.10,500.75 L202.50,501.67 L202.90,500.76 L203.30,501.08 L203.70,500.81 L204.10,501.12 L204.50,500.47 L204.90,500.12 L205.30,499.66 L205.70,500.24 L206.10,499.77 L206.50,500.41 L206.90,500.71 L207.30,499.07 L207.70,499.38 L208.10,499.97 L208.50,500.27 L208.90,499.80 L209.30,499.72 L209.70,499.71 L210.10,499.66 L210.50,500.03 L210.90,499.51 L211.30,498.65 L211.70,498.89 L212.10,499.10 L212.50,498.59 L212.90,498.74 L213.30,498.56 L213.70,498.41 L214.10,498.92 L214.50,498.39 L214.90,498.02 L215.30,498.10 L215.70,498.35 L216.10,499.15 L216.50,498.30 L216.90,498.74 L217.30,498.25 L217.70,497.07 L218.10,498.06 L218.50,497.47 L218.90,497.19 L219.30,497.24 L219.70,498.38 L220.10,496.89 L220.50,497.23 L220.90,497.91 L221.30,497.63 L221.70,496.56 L222.10,497.17 L222.50,496.94 L222.90,497.01 L223.30,497.34 L223.70,496.72 L224.10,496.76 L224.50,497.45 L224.90,495.99 L225.30,496.55 L225.70,496.84 L226.10,496.05 L226.50,496.25 L226.90,495.90 L227.30,496.46 L227.70,496.07 L228.10,496.60 L228.50,496.64 L228.90,496.17 L229.30,495.93 L229.70,496.14 L230.10,496.00 L230.50,495.40 L230.90,496.31 L231.30,495.90 L231.70,496.08 L232.10,495.11 L232.50,496.00 L232.90,496.46 L233.30,495.78 L233.70,494.85 L234.10,495.42 L234.50,495.33 L234.90,495.39 L235.30,495.15 L235.70,495.40 L236.10,494.94 L236.50,495.18 L236.90,494.74 L237.30,495.02 L237.70,495.35 L238.10,494.67 L238.50,495.11 L238.90,494.40 L239.30,494.57 L239.70,494.57 L240.10,495.15 L240.50,494.25 L240.90,495.04 L241.30,493.85 L241.70,494.36 L242.10,494.76 L242.50,494.62 L242.90,493.85 L243.30,493.71 L243.70,494.55 L244.10,493.60 L244.50,494.33 L244.90,493.82 L245.30,493.98 L245.70,494.92 L246.10,494.55 L246.50,494.20 L246.90,493.22 L247.30,493.89 L247.70,493.74 L248.10,493.63 L248.50,494.19 L248.90,492.85 L249.30,493.68 L249.70,493.55 L250.10,493.14 L250.50,494.15 L250.90,492.84 L251.30,493.35 L251.70,493.34 L252.10,492.34 L252.50,492.62 L252.90,492.79 L253.30,493.50 L253.70,493.53 L254.10,493.35 L254.50,493.17 L254.90,492.11 L255.30,493.11 L255.70,492.78 L256.10,493.47 L256.50,493.53 L256.90,493.89 L257.30,493.22 L257.70,493.25 L258.10,492.43 L258.50,492.87 L258.90,492.21 L259.30,492.93 L259.70,491.78 L260.10,491.89 L260.50,491.30 L260.90,491.12 L261.30,491.22 L261.70,490.53 L262.10,490.69 L262.50,490.02 L262.90,490.90 L263.30,489.89 L263.70,490.46 L264.10,490.82 L264.50,488.75 L264.90,489.25 L265.30,489.47 L265.70,489.95 L266.10,489.14 L266.50,489.41 L266.90,488.84 L267.30,489.30 L267.70,488.46 L268.10,489.24 L268.50,487.52 L268.90,487.91 L269.30,489.41 L269.70,488.62 L270.10,488.09 L270.50,489.33 L270.90,488.76 L271.30,488.71 L271.70,487.97 L272.10,488.33 L272.50,488.20 L272.90,487.19 L273.30,488.07 L273.70,487.65 L274.10,488.19 L274.50,488.11 L274.90,487.18 L275.30,487.10 L275.70,487.34 L276.10,487.44 L276.50,486.88 L276.90,486.91 L277.30,487.12 L277.70,486.94 L278.10,487.16 L278.50,486.66 L278.90,486.08 L279.30,485.60 L279.70,486.60 L280.10,486.01 L280.50,485.90 L280.90,485.83 L281.30,485.18 L281.70,485.58 L282.10,484.53 L282.50,485.38 L282.90,485.07 L283.30,486.14 L283.70,485.44 L284.10,485.06 L284.50,485.13 L284.90,485.27 L285.30,484.54 L285.70,484.67 L286.10,484.53 L286.50,485.65 L286.90,484.53 L287.30,483.56 L287.70,484.66 L288.10,485.34 L288.50,483.73 L288.90,485.55 L289.30,483.94 L289.70,484.32 L290.10,483.56 L290.50,483.61 L290.90,483.12 L291.30,483.11 L291.70,482.57 L292.10,483.91 L292.50,482.84 L292.90,483.42 L293.30,483.32 L293.70,482.82 L294.10,483.05 L294.50,482.91 L294.90,482.66 L295.30,482.83 L295.70,482.75 L296.10,482.22 L296.50,482.02 L296.90,482.15 L297.30,482.49 L297.70,482.97 L298.10,482.93 L298.50,482.36 L298.90,482.57 L299.30,482.14 L299.70,482.50 L300.10,482.01 L300.50,482.05 L300.90,481.69 L301.30,481.75 L301.70,482.51 L302.10,481.10 L302.50,481.55 L302.90,481.23 L303.30,481.84 L303.70,482.15 L304.10,481.16 L304.50,480.03 L304.90,481.44 L305.30,481.38 L305.70,480.32 L306.10,480.88 L306.50,480.90 L306.90,479.86 L307.30,481.10 L307.70,480.94 L308.10,480.80 L308.50,480.17 L308.90,480.27 L309.30,480.25 L309.70,480.67 L310.10,479.98 L310.50,480.99 L310.90,480.46 L311.30,479.30 L311.70,480.92 L312.10,480.21 L312.50,479.84 L312.90,480.08 L313.30,479.18 L313.70,480.01 L314.10,478.80 L314.50,479.37 L314.90,480.36 L315.30,480.27 L315.70,479.52 L316.10,479.19 L316.50,479.97 L316.90,479.49 L317.30,479.56 L317.70,479.69 L318.10,478.90 L318.50,479.66 L318.90,478.34 L319.30,479.86 L319.70,478.48 L320.10,478.85 L320.50,478.78 L320.90,479.34 L321.30,479.30 L321.70,479.09 L322.10,479.12 L322.50,479.04 L322.90,478.76 L323.30,477.91 L323.70,477.69 L324.10,477.65 L324.50,478.59 L324.90,478.46 L325.30,478.46 L325.70,478.57 L326.10,478.33 L326.50,477.95 L326.90,477.68 L327.30,477.47 L327.70,478.79 L328.10,478.61 L328.50,477.57 L328.90,478.00 L329.30,478.27 L329.70,478.74 L330.10,477.73 L330.50,478.03 L330.90,478.42 L331.30,477.11 L331.70,477.51 L332.10,477.77 L332.50,477.43 L332.90,478.63 L333.30,478.05 L333.70,477.71 L334.10,477.16 L334.50,477.93 L334.90,477.78 L335.30,477.24 L335.70,477.24 L336.10,476.75 L336.50,477.31 L336.90,477.69 L337.30,477.71 L337.70,477.49 L338.10,477.55 L338.50,476.90 L338.90,476.91 L339.30,477.61 L339.70,477.24 L340.10,476.65 L340.50,477.19 L340.90,477.29 L341.30,477.20 L341.70,476.90 L342.10,476.59 L342.50,476.96 L342.90,477.49 L343.30,476.77 L343.70,476.38 L344.10,476.78 L344.50,476.06 L344.90,476.66 L345.30,476.40 L345.70,476.91 L346.10,476.50 L346.50,476.88 L346.90,477.39 L347.30,476.25 L347.70,475.95 L348.10,476.48 L348.50,476.21 L348.90,476.27 L349.30,475.91 L349.70,476.39 L350.10,476.14 L350.50,475.13 L350.90,475.94 L351.30,476.15 L351.70,476.49 L352.10,475.69 L352.50,475.56 L352.90,476.38 L353.30,475.57 L353.70,475.85 L354.10,475.98 L354.50,476.07 L354.90,475.71 L355.30,475.19 L355.70,476.09 L356.10,475.43 L356.50,475.36 L356.90,476.43 L357.30,475.90 L357.70,475.03 L358.10,475.25 L358.50,475.32 L358.90,475.07 L359.30,474.53 L359.70,475.69 L360.10,475.64 L360.50,475.38 L360.90,475.07 L361.30,475.31 L361.70,475.46 L362.10,474.70 L362.50,474.98 L362.90,474.85 L363.30,475.37 L363.70,475.15 L364.10,474.45 L364.50,474.71 L364.90,475.72 L365.30,474.50 L365.70,474.96 L366.10,474.60 L366.50,475.39 L366.90,474.79 L367.30,474.60 L367.70,474.25 L368.10,474.63 L368.50,475.07 L368.90,474.97 L369.30,474.08 L369.70,475.31 L370.10,474.49 L370.50,474.12 L370.90,474.61 L371.30,474.26 L371.70,474.26 L372.10,474.22 L372.50,474.43 L372.90,474.24 L373.30,473.70 L373.70,474.65 L374.10,474.18 L374.50,474.91 L374.90,474.61 L375.30,474.63 L375.70,474.43 L376.10,474.90 L376.50,474.18 L376.90,473.88 L377.30,474.44 L377.70,473.09 L378.10,474.10 L378.50,474.33 L378.90,474.04 L379.30,474.74 L379.70,474.48 L380.10,474.20 L380.50,473.95 L380.90,474.57 L381.30,473.77 L381.70,473.86 L382.10,474.33 L382.50,474.22 L382.90,474.81 L383.30,473.79 L383.70,473.02 L384.10,474.07 L384.50,474.22 L384.90,473.41 L385.30,473.92 L385.70,473.73 L386.10,472.37 L386.50,472.16 L386.90,471.55 L387.30,472.10 L387.70,472.00 L388.10,471.85 L388.50,470.98 L388.90,471.11 L389.30,470.75 L389.70,470.61 L390.10,470.67 L390.50,470.51 L390.90,471.06 L391.30,471.27 L391.70,471.31 L392.10,470.98 L392.50,470.66 L392.90,470.90 L393.30,471.11 L393.70,470.70 L394.10,470.82 L394.50,470.63 L394.90,470.50 L395.30,470.71 L395.70,470.19 L396.10,471.10 L396.50,469.94 L396.90,470.79 L397.30,469.97 L397.70,471.19 L398.10,470.89 L398.50,470.14 L398.90,470.27 L399.30,469.95 L399.70,470.39 L400.10,470.57 L400.50,471.48 L400.90,469.76 L401.30,470.86 L401.70,470.05 L402.10,470.40 L402.50,470.64 L402.90,470.47 L403.30,470.39 L403.70,470.10 L404.10,470.16 L404.50,470.21 L404.90,470.64 L405.30,469.47 L405.70,469.87 L406.10,469.52 L406.50,469.63 L406.90,469.68 L407.30,470.48 L407.70,470.91 L408.10,470.55 L408.50,469.44 L408.90,469.96 L409.30,469.42 L409.70,470.09 L410.10,470.43 L410.50,470.11 L410.90,470.22 L411.30,469.77 L411.70,468.96 L412.10,468.94 L412.50,469.74 L412.90,470.02 L413.30,470.30 L413.70,469.59 L414.10,469.76 L414.50,469.83 L414.90,470.16 L415.30,469.66 L415.70,469.21 L416.10,470.14 L416.50,469.84 L416.90,469.82 L417.30,469.10 L417.70,469.63 L418.10,468.89 L418.50,468.76 L418.90,469.51 L419.30,469.42 L419.70,469.85 L420.10,470.22 L420.50,469.58 L420.90,470.36 L421.30,469.33 L421.70,469.91 L422.10,469.03 L422.50,469.63 L422.90,469.43 L423.30,469.47 L423.70,469.81 L424.10,468.74 L424.50,469.60 L424.90,469.20 L425.30,469.60 L425.70,469.71 L426.10,469.38 L426.50,469.37 L426.90,469.03 L427.30,469.77 L427.70,469.24 L428.10,469.71 L428.50,468.91 L428.90,470.11 L429.30,469.07 L429.70,470.01 L430.10,469.32 L430.50,469.74 L430.90,469.44 L431.30,469.79 L431.70,469.50 L432.10,470.04 L432.50,469.78 L432.90,469.79 L433.30,470.21 L433.70,469.19 L434.10,470.05 L434.50,469.51 L434.90,468.84 L435.30,469.68 L435.70,469.39 L436.10,470.20 L436.50,469.26 L436.90,469.49 L437.30,469.57 L437.70,468.65 L438.10,469.68 L438.50,469.03 L438.90,470.07 L439.30,470.18 L439.70,469.45 L440.10,468.77 L440.50,469.53 L440.90,469.53 L441.30,469.76 L441.70,469.32 L442.10,468.93 L442.50,469.38 L442.90,469.04 L443.30,470.20 L443.70,469.13 L444.10,469.15 L444.50,469.41 L444.90,468.90 L445.30,469.24 L445.70,469.37 L446.10,469.21 L446.50,469.31 L446.90,469.95 L447.30,469.60 L447.70,468.84 L448.10,469.23 L448.50,469.73 L448.90,469.13 L449.30,469.44 L449.70,469.39 L450.10,469.63 L450.50,469.32 L450.90,469.33 L451.30,469.02 L451.70,469.54 L452.10,468.99 L452.50,470.13 L452.90,469.37 L453.30,469.28 L453.70,469.71 L454.10,469.33 L454.50,469.40 L454.90,469.34 L455.30,469.05 L455.70,468.96 L456.10,469.05 L456.50,469.84 L456.90,469.08 L457.30,469.17 L457.70,469.15 L458.10,469.64 L458.50,470.18 L458.90,468.93 L459.30,469.56 L459.70,469.37 L460.10,469.19 L460.50,469.53 L460.90,468.76 L461.30,469.67 L461.70,469.40 L462.10,468.87 L462.50,469.98 L462.90,469.66 L463.30,469.79 L463.70,468.66 L464.10,469.17 L464.50,469.05 L464.90,469.55 L465.30,469.85 L465.70,468.45 L466.10,469.27 L466.50,469.21 L466.90,469.69 L467.30,469.24 L467.70,468.71 L468.10,469.17 L468.50,468.80 L468.90,468.91 L469.30,469.26 L469.70,469.03 L470.10,469.36 L470.50,468.58 L470.90,470.23 L471.30,469.77 L471.70,469.53 L472.10,468.67 L472.50,468.29 L472.90,468.85 L473.30,469.12 L473.70,470.17 L474.10,469.78 L474.50,468.99 L474.90,469.73 L475.30,469.73 L475.70,469.21 L476.10,469.73 L476.50,469.35 L476.90,468.92 L477.30,468.70 L477.70,469.15 L478.10,469.63 L478.50,468.62 L478.90,468.51 L479.30,469.44 L479.70,468.03 L480.10,469.98 L480.50,469.01 L480.90,469.51 L481.30,470.00 L481.70,468.58 L482.10,468.75 L482.50,470.16 L482.90,469.08 L483.30,469.15 L483.70,469.30 L484.10,469.66 L484.50,469.77 L484.90,469.25 L485.30,469.06 L485.70,469.19 L486.10,469.33 L486.50,469.77 L486.90,469.26 L487.30,469.99 L487.70,468.84 L488.10,469.44 L488.50,469.96 L488.90,469.76 L489.30,469.35 L489.70,468.83 L490.10,468.91 L490.50,469.15 L490.90,469.35 L491.30,469.11 L491.70,468.59 L492.10,468.90 L492.50,469.44 L492.90,469.58 L493.30,468.62 L493.70,469.07 L494.10,468.51 L494.50,468.99 L494.90,470.75 L495.30,469.26 L495.70,469.09 L496.10,468.99 L496.50,468.72 L496.90,468.45 L497.30,469.23 L497.70,469.13 L498.10,469.89 L498.50,468.55 L498.90,469.45 L499.30,469.84 L499.70,468.43 L500.10,469.55 L500.50,468.58 L500.90,469.50 L501.30,469.91 L501.70,469.28 L502.10,469.41 L502.50,469.00 L502.90,469.42 L503.30,469.79 L503.70,469.23 L504.10,469.25 L504.50,469.48 L504.90,469.68 L505.30,468.62 L505.70,469.36 L506.10,469.04 L506.50,469.56 L506.90,469.79 L507.30,469.49 L507.70,469.92 L508.10,468.94 L508.50,469.20 L508.90,468.96 L509.30,469.41 L509.70,469.44 L510.10,469.32 L510.50,468.97 L510.90,469.62 L511.30,469.70 L511.70,470.41 L512.10,470.32 L512.50,471.21 L512.90,471.05 L513.30,470.36 L513.70,471.29 L514.10,470.96 L514.50,472.20 L514.90,472.62 L515.30,472.20 L515.70,472.62 L516.10,472.02 L516.50,471.88 L516.90,472.81 L517.30,473.14 L517.70,472.79 L518.10,473.67 L518.50,473.94 L518.90,474.26 L519.30,474.81 L519.70,474.64 L520.10,474.28 L520.50,474.62 L520.90,474.96 L521.30,474.38 L521.70,475.53 L522.10,475.47 L522.50,475.10 L522.90,475.04 L523.30,477.06 L523.70,475.90 L524.10,476.05 L524.50,476.52 L524.90,476.28 L525.30,476.05 L525.70,476.36 L526.10,475.76 L526.50,476.55 L526.90,475.68 L527.30,476.61 L527.70,476.76 L528.10,475.94 L528.50,477.52 L528.90,476.28 L529.30,477.31 L529.70,476.72 L530.10,477.16 L530.50,476.82 L530.90,478.25 L531.30,477.70 L531.70,478.11 L532.10,477.75 L532.50,477.78 L532.90,477.62 L533.30,477.52 L533.70,477.96 L534.10,477.83 L534.50,477.77 L534.90,477.31 L535.30,477.83 L535.70,478.29 L536.10,477.89 L536.50,478.31 L536.90,478.16 L537.30,477.84 L537.70,477.96 L538.10,478.09 L538.50,478.34 L538.90,478.41 L539.30,479.07 L539.70,478.18 L540.10,477.82 L540.50,479.06 L540.90,478.62 L541.30,478.83 L541.70,480.03 L542.10,479.62 L542.50,479.30 L542.90,479.52 L543.30,479.22 L543.70,479.64 L544.10,479.02 L544.50,479.03 L544.90,479.20 L545.30,480.14 L545.70,480.18 L546.10,479.31 L546.50,480.13 L546.90,479.62 L547.30,480.21 L547.70,479.66 L548.10,480.27 L548.50,479.86 L548.90,479.85 L549.30,480.02 L549.70,480.15 L550.10,479.88 L550.50,479.60 L550.90,480.98 L551.30,480.13 L551.70,479.57 L552.10,479.43 L552.50,479.25 L552.90,480.25 L553.30,481.15 L553.70,479.92 L554.10,480.54 L554.50,479.93 L554.90,481.25 L555.30,480.99 L555.70,481.02 L556.10,481.52 L556.50,481.69 L556.90,481.48 L557.30,480.83 L557.70,480.56 L558.10,480.73 L558.50,480.48 L558.90,482.06 L559.30,481.25 L559.70,481.44 L560.10,481.51 L560.50,482.35 L560.90,481.29 L561.30,482.09 L561.70,481.77 L562.10,481.63 L562.50,480.92 L562.90,482.20 L563.30,481.54 L563.70,481.72 L564.10,482.08 L564.50,482.08 L564.90,482.58 L565.30,481.87 L565.70,482.28 L566.10,482.39 L566.50,482.34 L566.90,482.68 L567.30,482.33 L567.70,483.01 L568.10,482.24 L568.50,481.97 L568.90,482.62 L569.30,483.20 L569.70,482.51 L570.10,482.50 L570.50,482.66 L570.90,482.92 L571.30,482.80 L571.70,483.04 L572.10,482.19 L572.50,483.61 L572.90,483.23 L573.30,482.62 L573.70,483.60 L574.10,483.21 L574.50,483.65 L574.90,476.89 L575.30,457.73 L575.70,420.04 L576.10,383.15 L576.50,370.34 L576.90,369.89 L577.30,369.58 L577.70,369.92 L578.10,369.18 L578.50,370.27 L578.90,369.92 L579.30,369.90 L579.70,370.63 L580.10,370.03 L580.50,369.73 L580.90,369.61 L581.30,369.99 L581.70,370.48 L582.10,369.77 L582.50,369.57 L582.90,375.39 L583.30,386.48 L583.70,390.68 L584.10,394.18 L584.50,394.66 L584.90,396.89 L585.30,397.34 L585.70,399.13 L586.10,400.67 L586.50,402.14 L586.90,402.36 L587.30,404.52 L587.70,405.73 L588.10,406.53 L588.50,408.80 L588.90,408.85 L589.30,409.56 L589.70,411.19 L590.10,411.25 L590.50,413.73 L590.90,414.43 L591.30,414.73 L591.70,416.01 L592.10,416.77 L592.50,418.14 L592.90,417.77 L593.30,418.19 L593.70,418.56 L594.10,419.99 L594.50,420.11 L594.90,421.38 L595.30,422.29 L595.70,422.58 L596.10,423.01 L596.50,424.58 L596.90,424.61 L597.30,425.42 L597.70,426.34 L598.10,425.96 L598.50,426.70 L598.90,428.75 L599.30,428.15 L599.70,428.30 L600.10,429.18 L600.50,429.56 L600.90,429.80 L601.30,430.67 L601.70,431.34 L602.10,431.85 L602.50,432.58 L602.90,432.08 L603.30,432.66 L603.70,434.12 L604.10,434.05 L604.50,435.22 L604.90,435.27 L605.30,434.96 L605.70,436.23 L606.10,435.98 L606.50,436.94 L606.90,437.75 L607.30,438.52 L607.70,437.96 L608.10,438.67 L608.50,438.87 L608.90,439.44 L609.30,438.35 L609.70,439.64 L610.10,440.28 L610.50,440.70 L610.90,440.50 L611.30,441.51 L611.70,441.95 L612.10,441.82 L612.50,442.00 L612.90,442.25 L613.30,442.77 L613.70,443.51 L614.10,443.94 L614.50,443.37 L614.90,443.45 L615.30,443.78 L615.70,444.81 L616.10,444.75 L616.50,445.04 L616.90,445.38 L617.30,445.58 L617.70,445.62 L618.10,445.47 L618.50,445.89 L618.90,446.45 L619.30,446.80 L619.70,446.70 L620.10,446.91 L620.50,447.91 L620.90,447.34 L621.30,447.86 L621.70,447.84 L622.10,447.83 L622.50,447.76 L622.90,448.39 L623.30,448.48 L623.70,449.41 L624.10,448.76 L624.50,449.28 L624.90,449.94 L625.30,449.82 L625.70,450.28 L626.10,450.60 L626.50,449.69 L626.90,450.37 L627.30,450.26 L627.70,451.37 L628.10,450.84 L628.50,451.20 L628.90,451.80 L629.30,451.00 L629.70,451.26 L630.10,451.48 L630.50,451.26 L630.90,451.99 L631.30,451.88 L631.70,452.04 L632.10,451.72 L632.50,451.65 L632.90,451.75 L633.30,451.87 L633.70,451.45 L634.10,452.46 L634.50,452.82 L634.90,452.65 L635.30,452.64 L635.70,453.10 L636.10,453.43 L636.50,453.74 L636.90,454.68 L637.30,453.87 L637.70,454.76 L638.10,455.29 L638.50,455.46 L638.90,455.79 L639.30,459.76 L639.70,466.83 L640.10,475.16 L640.50,484.70 L640.90,490.74 L641.30,495.09 L641.70,498.11 L642.10,500.61 L642.50,502.07 L642.90,503.67 L643.30,505.17 L643.70,505.40 L644.10,506.84 L644.50,506.84 L644.90,507.44 L645.30,508.56 L645.70,508.82 L646.10,510.21 L646.50,510.87 L646.90,510.73 L647.30,511.17 L647.70,511.46 L648.10,511.76 L648.50,512.23 L648.90,512.59 L649.30,512.51 L649.70,512.60 L650.10,512.93 L650.50,513.69 L650.90,513.35 L651.30,514.30 L651.70,513.72 L652.10,514.53 L652.50,513.58 L652.90,513.91 L653.30,514.53 L653.70,514.65 L654.10,514.48 L654.50,515.50 L654.90,514.75 L655.30,514.91 L655.70,514.60 L656.10,515.59 L656.50,515.28 L656.90,515.11 L657.30,514.26 L657.70,515.12 L658.10,514.79 L658.50,515.17 L658.90,515.40 L659.30,514.71 L659.70,515.14 L660.10,515.43 L660.50,515.14 L660.90,514.94 L661.30,514.65 L661.70,514.82 L662.10,514.58 L662.50,515.54 L662.90,515.18 L663.30,514.63 L663.70,515.15 L664.10,514.61 L664.50,513.78 L664.90,515.68 L665.30,515.67 L665.70,514.56 L666.10,514.89 L666.50,515.28 L666.90,515.04 L667.30,514.84 L667.70,514.99 L668.10,515.11 L668.50,514.98 L668.90,515.30 L669.30,515.11 L669.70,514.89 L670.10,515.22 L670.50,514.51 L670.90,515.82 L671.30,514.48 L671.70,515.18 L672.10,515.36 L672.50,515.39 L672.90,515.32 L673.30,515.74 L673.70,514.74 L674.10,515.18 L674.50,515.27 L674.90,515.00 L675.30,514.96 L675.70,515.75 L676.10,514.91 L676.50,515.01 L676.90,515.10 L677.30,515.12 L677.70,515.28 L678.10,515.12 L678.50,515.37 L678.90,515.27 L679.30,515.41 L679.70,515.79 L680.10,514.86 L680.50,515.90 L680.90,515.02 L681.30,515.49 L681.70,515.28 L682.10,515.09 L682.50,514.39 L682.90,515.89 L683.30,514.89 L683.70,514.88 L684.10,515.66 L684.50,515.24 L684.90,516.01 L685.30,515.92 L685.70,515.51 L686.10,515.32 L686.50,515.53 L686.90,514.66 L687.30,515.28 L687.70,515.27 L688.10,515.01 L688.50,515.32 L688.90,514.60 L689.30,515.59 L689.70,515.75 L690.10,514.67 L690.50,515.27 L690.90,515.86 L691.30,515.38 L691.70,514.78 L692.10,514.80 L692.50,515.57 L692.90,515.98" stroke="#fd5713" stroke-width="2.3"/>
</g>
<path d="M83.3,388.0 H682.9 M83.3,537.5 H682.9" stroke="#000000" stroke-width="1.2" fill="none"/>
<path d="M83.3,387.4 V538.1" stroke="#000000" stroke-width="1.2" fill="none"/>
<path d="M692.9,387.5 V538.0" stroke="#fd5713" stroke-width="1.5" fill="none"/>
<path d="M189.32,388.0 v9.5 M189.32,537.5 v-9.5 M295.33,388.0 v9.5 M295.33,537.5 v-9.5 M401.35,388.0 v9.5 M401.35,537.5 v-9.5 M507.37,388.0 v9.5 M507.37,537.5 v-9.5 M613.39,388.0 v9.5 M613.39,537.5 v-9.5 " stroke="#262626" stroke-width="1.2" fill="none"/>
<path d="M83.3,477.70 h9.5 M83.3,417.90 h9.5 " stroke="#000000" stroke-width="1.2" fill="none"/>
<path d="M692.9,537.50 h-10.0 M692.9,487.67 h-10.0 M692.9,437.83 h-10.0 M692.9,388.00 h-10.0 " stroke="#fd5713" stroke-width="1.3" fill="none"/>
<text x="77.5" y="424.35" text-anchor="end" fill="#000000" class="tk">6</text>
<text x="77.5" y="484.15" text-anchor="end" fill="#000000" class="tk">5</text>
<text x="77.5" y="543.95" text-anchor="end" fill="#000000" class="tk">4</text>
<text x="698.5" y="543.95" text-anchor="start" fill="#fd5713" class="tk">0</text>
<text x="698.5" y="494.12" text-anchor="start" fill="#fd5713" class="tk">0.1</text>
<text x="698.5" y="444.28" text-anchor="start" fill="#fd5713" class="tk">0.2</text>
<text x="698.5" y="394.45" text-anchor="start" fill="#fd5713" class="tk">0.3</text>
<text x="88.8" y="406.0" class="tk" fill="#000">(c)</text>
<text x="83.30" y="560.2" text-anchor="middle" class="tk" fill="#333">0</text>
<text x="189.32" y="560.2" text-anchor="middle" class="tk" fill="#333">100</text>
<text x="295.33" y="560.2" text-anchor="middle" class="tk" fill="#333">200</text>
<text x="401.35" y="560.2" text-anchor="middle" class="tk" fill="#333">300</text>
<text x="507.37" y="560.2" text-anchor="middle" class="tk" fill="#333">400</text>
<text x="613.39" y="560.2" text-anchor="middle" class="tk" fill="#333">500</text>
<text x="387.6" y="583.9" text-anchor="middle" class="lb" fill="#333"><tspan font-style="italic">t</tspan> / min</text>
<g transform="translate(60.4,469) rotate(-90)"><text class="lb" fill="#000" font-style="italic">ε</text></g>
<polygon points="42.06,457.04 48.79,460.00 49.21,459.20 42.94,455.36" fill="#000"/>
<g transform="translate(748.6,472) rotate(-90)"><text class="lb" fill="#fd5713" font-style="italic">ε</text></g>
<polygon points="729.85,455.54 737.42,457.87 737.78,456.93 730.55,453.66" fill="#fd5713"/>
<polygon points="730.05,460.44 737.42,462.67 737.78,461.73 730.75,458.56" fill="#fd5713"/>
</svg>
</body></html>
